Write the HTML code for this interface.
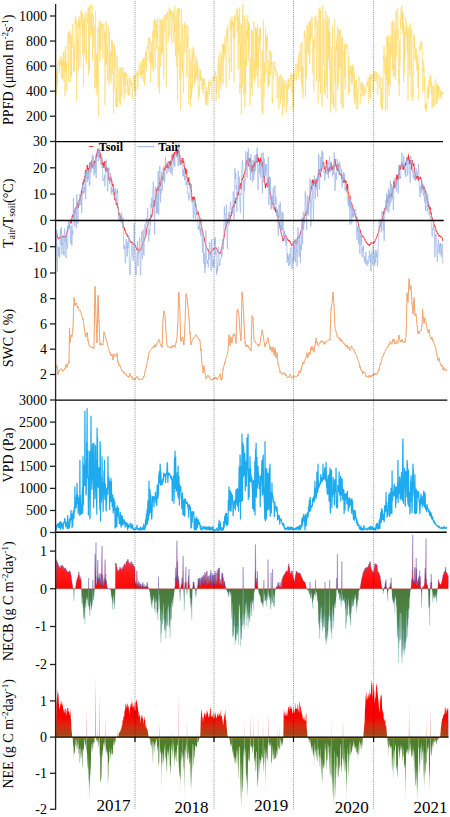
<!DOCTYPE html>
<html><head><meta charset="utf-8"><style>
html,body{margin:0;padding:0;background:#fff;}
svg{display:block;}
text{font-family:"Liberation Serif",serif;}
</style></head><body>
<svg width="450" height="817" viewBox="0 0 450 817">
<defs>
<clipPath id="cNECBpos"><rect x="0" y="530" width="450" height="58.7"/></clipPath>
<clipPath id="cNECBneg"><rect x="0" y="588.7" width="450" height="80"/></clipPath>
<linearGradient id="gNECB" gradientUnits="userSpaceOnUse" x1="0" y1="535" x2="0" y2="665">
<stop offset="0" stop-color="#C86AA8"/><stop offset="0.12" stop-color="#F04060"/><stop offset="0.3" stop-color="#FF1818"/><stop offset="0.411" stop-color="#FF0505"/>
<stop offset="0.414" stop-color="#4A7A3C"/><stop offset="0.6" stop-color="#4C8444"/><stop offset="0.82" stop-color="#56947A"/><stop offset="1" stop-color="#8AC0BC"/></linearGradient>
<linearGradient id="gNEE" gradientUnits="userSpaceOnUse" x1="0" y1="665" x2="0" y2="810">
<stop offset="0" stop-color="#FF0000"/><stop offset="0.36" stop-color="#FA0200"/><stop offset="0.42" stop-color="#D82A10"/><stop offset="0.48" stop-color="#A84418"/><stop offset="0.497" stop-color="#B86820"/>
<stop offset="0.5" stop-color="#A07828"/><stop offset="0.52" stop-color="#4E7E28"/><stop offset="0.62" stop-color="#46802A"/><stop offset="0.78" stop-color="#5A9040"/><stop offset="1" stop-color="#D8E8D0"/></linearGradient>
</defs>
<path d="M56 78.01 L56.22 72.93 L56.43 91.73 L56.65 94.43 L56.87 80.4 L57.09 68.61 L57.3 77.92 L57.52 84.7 L57.74 64.94 L57.96 63.97 L58.17 62.88 L58.39 62.3 L58.61 61.73 L58.82 62.12 L59.04 61.33 L59.26 70.35 L59.48 73.5 L59.69 60.9 L59.91 58.24 L60.13 58.43 L60.35 66.04 L60.56 63.52 L60.78 56.69 L61 56.88 L61.21 56.18 L61.43 58.05 L61.65 77.79 L61.87 59.85 L62.08 66.37 L62.3 79.5 L62.52 60.4 L62.74 61.36 L62.95 66.47 L63.17 60.03 L63.39 52.03 L63.6 65.48 L63.82 81.56 L64.04 51.59 L64.26 71.12 L64.47 65.65 L64.69 61.81 L64.91 95.97 L65.12 83.15 L65.34 46.33 L65.56 55.88 L65.78 70.95 L65.99 61.18 L66.21 72.01 L66.43 64.04 L66.65 83.77 L66.86 90.97 L67.08 47.18 L67.3 47.87 L67.51 42.26 L67.73 41.98 L67.95 32.44 L68.17 33.95 L68.38 47.32 L68.6 81.56 L68.82 77.16 L69.04 32.15 L69.25 33.02 L69.47 43.25 L69.69 30.33 L69.9 32.07 L70.12 50.66 L70.34 81.83 L70.56 71.89 L70.77 40.57 L70.99 34.66 L71.21 46.68 L71.43 76.54 L71.64 41.81 L71.86 35.77 L72.08 47.39 L72.29 39.28 L72.51 29.9 L72.73 24.24 L72.95 30.04 L73.16 37.09 L73.38 72.44 L73.6 68.3 L73.82 50.83 L74.03 57.17 L74.25 45 L74.47 70.83 L74.68 55.64 L74.9 45.94 L75.12 19.18 L75.34 25.01 L75.55 16.05 L75.77 16.01 L75.99 18.01 L76.21 20.2 L76.42 63.22 L76.64 101.35 L76.86 31.05 L77.07 21.95 L77.29 46.77 L77.51 59.92 L77.73 38.32 L77.94 39.75 L78.16 70.85 L78.38 55.86 L78.6 18.94 L78.81 27.29 L79.03 28.55 L79.25 16.2 L79.46 27.46 L79.68 22.62 L79.9 67.43 L80.12 56.37 L80.33 35.37 L80.55 19.31 L80.77 14.9 L80.98 10.52 L81.2 11.12 L81.42 18.97 L81.64 11.13 L81.85 25.74 L82.07 12.64 L82.29 34.57 L82.51 24.13 L82.72 54.93 L82.94 31.77 L83.16 14.14 L83.37 75.04 L83.59 85.15 L83.81 44.01 L84.03 24.9 L84.24 20.61 L84.46 17.73 L84.68 53.29 L84.9 25.68 L85.11 20.68 L85.33 13.18 L85.55 11.52 L85.76 12.13 L85.98 60.18 L86.2 49.77 L86.42 64.44 L86.63 34.92 L86.85 13.86 L87.07 14.71 L87.29 15.18 L87.5 23.24 L87.72 18.32 L87.94 12.01 L88.15 6.88 L88.37 13.02 L88.59 75.06 L88.81 16.86 L89.02 7.86 L89.24 46.69 L89.46 70.19 L89.68 7.29 L89.89 9.38 L90.11 5.87 L90.33 4.38 L90.54 35.97 L90.76 36.57 L90.98 24.03 L91.2 13.07 L91.41 31.06 L91.63 15.8 L91.85 11.98 L92.07 4.79 L92.28 6.4 L92.5 60.77 L92.72 29.07 L92.93 35.04 L93.15 27.45 L93.37 14.24 L93.59 17.9 L93.8 47.43 L94.02 27.33 L94.24 25.9 L94.46 47.87 L94.67 88.39 L94.89 82.16 L95.11 53.25 L95.32 14.32 L95.54 11.09 L95.76 72.82 L95.98 88.23 L96.19 53.09 L96.41 72.26 L96.63 90.15 L96.84 95.11 L97.06 86.16 L97.28 54.22 L97.5 85.66 L97.71 27.54 L97.93 72.33 L98.15 88.31 L98.37 105.73 L98.58 116.37 L98.8 108.47 L99.02 22.43 L99.23 20.58 L99.45 47.3 L99.67 27.44 L99.89 45.74 L100.1 61.1 L100.32 21.46 L100.54 21.55 L100.76 36.53 L100.97 50.51 L101.19 41.7 L101.41 39.24 L101.62 24.24 L101.84 23.12 L102.06 27.46 L102.28 24.09 L102.49 23.83 L102.71 50 L102.93 58.61 L103.15 54.1 L103.36 26.7 L103.58 25.08 L103.8 23.92 L104.01 25.31 L104.23 38.9 L104.45 31.36 L104.67 57.77 L104.88 89.34 L105.1 105.02 L105.32 32.23 L105.54 63.5 L105.75 51.04 L105.97 31.34 L106.19 21.23 L106.4 28.59 L106.62 65.25 L106.84 50.68 L107.06 45.12 L107.27 48.85 L107.49 80.7 L107.71 38.15 L107.93 26.44 L108.14 27.26 L108.36 27.87 L108.58 28.59 L108.79 31.38 L109.01 85.31 L109.23 53.27 L109.45 31.76 L109.66 34.58 L109.88 78.95 L110.1 67.78 L110.32 55.11 L110.53 52.41 L110.75 61.22 L110.97 82.94 L111.18 80.21 L111.4 57.09 L111.62 39.73 L111.84 56.1 L112.05 51.35 L112.27 73.83 L112.49 40.77 L112.7 47.15 L112.92 49.42 L113.14 44.97 L113.36 111.42 L113.57 113.7 L113.79 71.88 L114.01 90.27 L114.23 60.5 L114.44 44.16 L114.66 53.68 L114.88 68.87 L115.09 61.65 L115.31 49.46 L115.53 55.23 L115.75 72.92 L115.96 107.1 L116.18 92.2 L116.4 87.68 L116.62 107.13 L116.83 66.3 L117.05 56.18 L117.27 55.73 L117.48 102.9 L117.7 107.32 L117.92 102.95 L118.14 94.77 L118.35 81.14 L118.57 76.49 L118.79 69.07 L119.01 69.28 L119.22 82.6 L119.44 102.51 L119.66 94.4 L119.87 74.85 L120.09 66.77 L120.31 72.12 L120.53 105.45 L120.74 98.58 L120.96 81.46 L121.18 70.37 L121.4 67.32 L121.61 77.64 L121.83 96.24 L122.05 77.27 L122.26 74.02 L122.48 75.76 L122.7 73.35 L122.92 67.54 L123.13 69.25 L123.35 71.13 L123.57 85.52 L123.79 74.48 L124 91.34 L124.22 99.43 L124.44 77.95 L124.65 72.33 L124.87 78.07 L125.09 75.59 L125.31 72.2 L125.52 86.07 L125.74 93.12 L125.96 80.33 L126.18 74.49 L126.39 73.55 L126.61 76.26 L126.83 73.85 L127.04 74.67 L127.26 85.73 L127.48 78.99 L127.7 91.09 L127.91 94.16 L128.13 89.17 L128.35 91.79 L128.56 95.43 L128.78 83.86 L129 77.38 L129.22 77.14 L129.43 83.67 L129.65 96.25 L129.87 93.17 L130.09 79 L130.3 78.18 L130.52 79.43 L130.74 84.12 L130.95 83.03 L131.17 85.58 L131.39 85.79 L131.61 81.5 L131.82 82.6 L132.04 84.69 L132.26 84.44 L132.48 93.44 L132.69 99.19 L132.91 94.48 L133.13 80.53 L133.34 75.96 L133.56 77.5 L133.78 75.49 L134 75.44 L134.21 88.89 L134.43 91.38 L134.65 78.16 L134.87 74.82 L135.08 75.34 L135.3 76.83 L135.52 91.27 L135.73 96.09 L135.95 86.45 L136.17 74.26 L136.39 73.1 L136.6 75 L136.82 74 L137.04 71.44 L137.26 72.6 L137.47 71.15 L137.69 85.83 L137.91 89.07 L138.12 86.13 L138.34 73.96 L138.56 76.49 L138.78 71.97 L138.99 68.59 L139.21 66.85 L139.43 65.21 L139.65 64.87 L139.86 73.86 L140.08 71.81 L140.3 75.17 L140.51 75.71 L140.73 62.68 L140.95 62.63 L141.17 69.4 L141.38 72.38 L141.6 69.01 L141.82 79.28 L142.04 69.27 L142.25 59.84 L142.47 60.06 L142.69 74.53 L142.9 67.9 L143.12 58.14 L143.34 77.84 L143.56 81.97 L143.77 81.95 L143.99 63.41 L144.21 57.25 L144.42 58.63 L144.64 85.19 L144.86 77.4 L145.08 80.24 L145.29 59.88 L145.51 55.28 L145.73 50.87 L145.95 53.71 L146.16 66.84 L146.38 51.81 L146.6 70.91 L146.81 62.54 L147.03 46.45 L147.25 46.02 L147.47 47.18 L147.68 49.28 L147.9 44.11 L148.12 41.64 L148.34 41.77 L148.55 38.54 L148.77 37.42 L148.99 47.77 L149.2 61.31 L149.42 37.94 L149.64 42.25 L149.86 40.27 L150.07 40.94 L150.29 64.41 L150.51 59.52 L150.73 82.48 L150.94 51.82 L151.16 57.69 L151.38 47.68 L151.59 41.95 L151.81 61.81 L152.03 58 L152.25 67.75 L152.46 45.5 L152.68 30.95 L152.9 38.58 L153.12 57.96 L153.33 71.79 L153.55 30.77 L153.77 26.77 L153.98 20.8 L154.2 37.8 L154.42 20.78 L154.64 19.76 L154.85 35.85 L155.07 68.96 L155.29 20.16 L155.51 19.58 L155.72 20.24 L155.94 20.92 L156.16 37.97 L156.37 23.48 L156.59 24.92 L156.81 49.61 L157.03 30.83 L157.24 40.77 L157.46 20.22 L157.68 18.28 L157.9 18.57 L158.11 87.32 L158.33 54.51 L158.55 48.46 L158.76 45.99 L158.98 49.22 L159.2 67.46 L159.42 93.25 L159.63 22.72 L159.85 18.99 L160.07 19.22 L160.28 20.12 L160.5 61.68 L160.72 66.88 L160.94 21.69 L161.15 19.86 L161.37 31.49 L161.59 54.9 L161.81 19.95 L162.02 26.94 L162.24 26.73 L162.46 52.74 L162.67 22.86 L162.89 20.71 L163.11 17.96 L163.33 20.32 L163.54 78.71 L163.76 73.04 L163.98 26.91 L164.2 16.18 L164.41 15.21 L164.63 17.85 L164.85 30.33 L165.06 31.42 L165.28 23.41 L165.5 14.8 L165.72 23.49 L165.93 44.31 L166.15 83.05 L166.37 87.13 L166.59 39.93 L166.8 15.07 L167.02 19.84 L167.24 13.74 L167.45 12.34 L167.67 16.74 L167.89 12.28 L168.11 42.11 L168.32 37.91 L168.54 38.46 L168.76 21.33 L168.98 8.25 L169.19 7.42 L169.41 13.93 L169.63 17.24 L169.84 36.64 L170.06 23.46 L170.28 9.47 L170.5 15.53 L170.71 9.87 L170.93 12.33 L171.15 12.87 L171.37 10.61 L171.58 23.26 L171.8 43.69 L172.02 31.15 L172.23 21.51 L172.45 17.22 L172.67 12.69 L172.89 17.18 L173.1 18.77 L173.32 22.43 L173.54 11 L173.76 32.91 L173.97 42.61 L174.19 27.16 L174.41 23.4 L174.62 31.21 L174.84 6 L175.06 35.45 L175.28 55.15 L175.49 55.95 L175.71 46.54 L175.93 15.72 L176.14 25.58 L176.36 66.47 L176.58 66.08 L176.8 31.35 L177.01 8.67 L177.23 55.91 L177.45 99.71 L177.67 95.01 L177.88 40.43 L178.1 10.49 L178.32 54.64 L178.53 17.53 L178.75 8.02 L178.97 13.77 L179.19 8.34 L179.4 8.21 L179.62 17.28 L179.84 79.65 L180.06 41.92 L180.27 69.59 L180.49 109.61 L180.71 107.86 L180.92 51.1 L181.14 17.47 L181.36 8.85 L181.58 12.77 L181.79 51.62 L182.01 62.8 L182.23 61.7 L182.45 73.51 L182.66 24.33 L182.88 38.13 L183.1 77.67 L183.31 86.19 L183.53 92.74 L183.75 67.81 L183.97 40.94 L184.18 42.49 L184.4 21.94 L184.62 22.28 L184.84 47.96 L185.05 52.81 L185.27 40.16 L185.49 24.68 L185.7 27.06 L185.92 27.64 L186.14 25.08 L186.36 24.91 L186.57 30.68 L186.79 76.88 L187.01 63.03 L187.23 35.65 L187.44 48.14 L187.66 45.04 L187.88 25.93 L188.09 31.76 L188.31 73.39 L188.53 92.88 L188.75 104.22 L188.96 100.16 L189.18 78.3 L189.4 74.79 L189.62 77.79 L189.83 48.59 L190.05 59.76 L190.27 98.61 L190.48 106.58 L190.7 72.54 L190.92 60.52 L191.14 78.33 L191.35 98.11 L191.57 84.62 L191.79 92.87 L192 50.72 L192.22 51.78 L192.44 61.79 L192.66 88.57 L192.87 83.23 L193.09 46.81 L193.31 47.71 L193.53 59.37 L193.74 49.59 L193.96 48.63 L194.18 80.11 L194.39 84.83 L194.61 75.39 L194.83 64.31 L195.05 81.94 L195.26 73.03 L195.48 80.19 L195.7 55.77 L195.92 55.21 L196.13 62.34 L196.35 60.93 L196.57 77.12 L196.78 71.05 L197 59.58 L197.22 64.78 L197.44 68.66 L197.65 80.61 L197.87 64.66 L198.09 68.02 L198.31 96.08 L198.52 99.52 L198.74 99.43 L198.96 86.05 L199.17 85.73 L199.39 95.89 L199.61 76.68 L199.83 68.78 L200.04 76.73 L200.26 80.8 L200.48 70.63 L200.7 70.79 L200.91 71.77 L201.13 80.47 L201.35 76.21 L201.56 79.2 L201.78 86.69 L202 90.01 L202.22 83.61 L202.43 85.13 L202.65 78.13 L202.87 78.11 L203.09 78.8 L203.3 93.6 L203.52 85.66 L203.74 79.25 L203.95 80.36 L204.17 84.14 L204.39 87.01 L204.61 78.73 L204.82 78.99 L205.04 87.01 L205.26 104.64 L205.48 102.5 L205.69 91.6 L205.91 100.48 L206.13 104.57 L206.34 90.5 L206.56 87 L206.78 100.59 L207 99.09 L207.21 95.45 L207.43 91.17 L207.65 105.77 L207.86 106.17 L208.08 101.61 L208.3 90.86 L208.52 81.41 L208.73 87.86 L208.95 89.31 L209.17 94 L209.39 94.96 L209.6 83.87 L209.82 82.02 L210.04 85.25 L210.25 83.19 L210.47 82.9 L210.69 82.26 L210.91 81.11 L211.12 80.34 L211.34 91.57 L211.56 94.59 L211.78 99.19 L211.99 100.03 L212.21 85.52 L212.43 78.39 L212.64 78.1 L212.86 77.84 L213.08 78.66 L213.3 79 L213.51 76.79 L213.73 78.26 L213.95 76.47 L214.17 80.73 L214.38 80.79 L214.6 78.18 L214.82 77.81 L215.03 74.53 L215.25 72.34 L215.47 71.18 L215.69 79.32 L215.9 100.26 L216.12 100.76 L216.34 99.64 L216.56 90.2 L216.77 76.26 L216.99 93.37 L217.21 80.24 L217.42 71.46 L217.64 68.66 L217.86 69.54 L218.08 64.3 L218.29 61.84 L218.51 56.46 L218.73 66.85 L218.95 98.43 L219.16 76.82 L219.38 63.34 L219.6 78.35 L219.81 74.87 L220.03 51.21 L220.25 57.92 L220.47 82.39 L220.68 74.87 L220.9 76.35 L221.12 89.42 L221.34 56.71 L221.55 54.98 L221.77 58.17 L221.99 75.83 L222.2 43.84 L222.42 43.83 L222.64 48.85 L222.86 73.81 L223.07 84.47 L223.29 82.26 L223.51 43.72 L223.72 60.22 L223.94 50.34 L224.16 45.11 L224.38 55.21 L224.59 38.37 L224.81 36.77 L225.03 36.48 L225.25 35.2 L225.46 36.62 L225.68 57.43 L225.9 74.06 L226.11 87.35 L226.33 44.29 L226.55 30 L226.77 29.51 L226.98 28.62 L227.2 28.25 L227.42 41.61 L227.64 27.86 L227.85 25.28 L228.07 45.4 L228.29 48.79 L228.5 53.41 L228.72 54.1 L228.94 62.32 L229.16 59.45 L229.37 79.16 L229.59 67.72 L229.81 58.74 L230.03 40.64 L230.24 18.74 L230.46 23.57 L230.68 30.58 L230.89 30.23 L231.11 21.55 L231.33 72.32 L231.55 42.17 L231.76 16.58 L231.98 16.07 L232.2 19.85 L232.42 25.72 L232.63 20.71 L232.85 26.96 L233.07 24.14 L233.28 37.67 L233.5 21.91 L233.72 35.22 L233.94 75.77 L234.15 81.81 L234.37 24.64 L234.59 15.91 L234.81 17.93 L235.02 38.64 L235.24 14.55 L235.46 16.18 L235.67 21.19 L235.89 12.33 L236.11 11.5 L236.33 11.12 L236.54 9.77 L236.76 9.46 L236.98 14.52 L237.2 32.39 L237.41 16.34 L237.63 8.54 L237.85 15.04 L238.06 69.51 L238.28 68.31 L238.5 29.64 L238.72 15.29 L238.93 43.4 L239.15 14.39 L239.37 7.42 L239.58 14.87 L239.8 93.63 L240.02 84.57 L240.24 87.99 L240.45 43.78 L240.67 65.7 L240.89 23.2 L241.11 56.19 L241.32 113.58 L241.54 95.29 L241.76 24.77 L241.97 29.87 L242.19 65.83 L242.41 86.31 L242.63 13.82 L242.84 4.19 L243.06 10.83 L243.28 32.46 L243.5 57.68 L243.71 94.27 L243.93 77.14 L244.15 60.57 L244.36 15.39 L244.58 84.82 L244.8 107.15 L245.02 93.47 L245.23 58.59 L245.45 67.63 L245.67 93.65 L245.89 18.99 L246.1 24.64 L246.32 61.36 L246.54 66.3 L246.75 30.74 L246.97 39.13 L247.19 30.82 L247.41 36.25 L247.62 24.04 L247.84 14.82 L248.06 34.88 L248.28 60.72 L248.49 21.79 L248.71 31.12 L248.93 50.99 L249.14 23.41 L249.36 29.8 L249.58 26.23 L249.8 93.8 L250.01 105.57 L250.23 105.12 L250.45 67.8 L250.67 71.12 L250.88 58.21 L251.1 66.98 L251.32 87.4 L251.53 29.75 L251.75 69.83 L251.97 71.37 L252.19 95.55 L252.4 60.7 L252.62 30.65 L252.84 56.5 L253.06 77.68 L253.27 60.99 L253.49 57.73 L253.71 24.1 L253.92 21.06 L254.14 62.72 L254.36 82.66 L254.58 60.4 L254.79 61.62 L255.01 79.13 L255.23 35.79 L255.44 26.93 L255.66 44.28 L255.88 71.52 L256.1 30.32 L256.31 66.31 L256.53 31.5 L256.75 27.88 L256.97 76.43 L257.18 42.55 L257.4 24.43 L257.62 33.72 L257.83 83.8 L258.05 87.95 L258.27 47.43 L258.49 62.38 L258.7 67.76 L258.92 35.9 L259.14 50.01 L259.36 41.78 L259.57 27.74 L259.79 28.47 L260.01 42.04 L260.22 40.61 L260.44 27.44 L260.66 36.9 L260.88 85.83 L261.09 78.4 L261.31 95.3 L261.53 103.44 L261.75 103.62 L261.96 111.32 L262.18 50.34 L262.4 66.37 L262.61 67.11 L262.83 114.3 L263.05 107.28 L263.27 19.53 L263.48 21.46 L263.7 74.13 L263.92 98.56 L264.14 90.14 L264.35 62.62 L264.57 76.7 L264.79 82.1 L265 67.71 L265.22 63.92 L265.44 28.09 L265.66 42.36 L265.87 38.52 L266.09 73.56 L266.31 47.54 L266.53 36.41 L266.74 49.01 L266.96 35.55 L267.18 34.32 L267.39 34.84 L267.61 46.89 L267.83 79.35 L268.05 88.35 L268.26 70.42 L268.48 84.6 L268.7 65.16 L268.92 59.75 L269.13 79.86 L269.35 85.33 L269.57 56.08 L269.78 51.08 L270 54.27 L270.22 54.73 L270.44 50.63 L270.65 75.4 L270.87 62.22 L271.09 64.19 L271.3 53.39 L271.52 68.45 L271.74 72.83 L271.96 72.13 L272.17 101.25 L272.39 97.68 L272.61 103.43 L272.83 95.86 L273.04 61.96 L273.26 63.29 L273.48 78.57 L273.69 76.68 L273.91 72.88 L274.13 63.51 L274.35 61.47 L274.56 62.76 L274.78 63.16 L275 69.21 L275.22 67.45 L275.43 67.5 L275.65 73.33 L275.87 75.58 L276.08 68.44 L276.3 69.21 L276.52 70.1 L276.74 70.95 L276.95 72.92 L277.17 98.44 L277.39 77.97 L277.61 81.94 L277.82 73.61 L278.04 80.31 L278.26 79.93 L278.47 83.95 L278.69 100.9 L278.91 108.9 L279.13 96.39 L279.34 82.6 L279.56 76.05 L279.78 87.72 L280 87.24 L280.21 97.45 L280.43 97.02 L280.65 103.42 L280.86 74.27 L281.08 77.99 L281.3 96.94 L281.52 81.68 L281.73 77.1 L281.95 77.76 L282.17 76.82 L282.39 95.12 L282.6 115.61 L282.82 111.14 L283.04 79.58 L283.25 79.14 L283.47 84.79 L283.69 100.07 L283.91 82.75 L284.12 83.41 L284.34 105.85 L284.56 107.19 L284.78 85.18 L284.99 80.18 L285.21 80.04 L285.43 80.1 L285.64 80.02 L285.86 88.38 L286.08 86.69 L286.3 102.52 L286.51 112.68 L286.73 107.29 L286.95 83.93 L287.16 100.38 L287.38 103.22 L287.6 82.52 L287.82 80.63 L288.03 81.41 L288.25 80.03 L288.47 89.21 L288.69 78.41 L288.9 77.95 L289.12 79.56 L289.34 81.8 L289.55 85.51 L289.77 85.88 L289.99 84.56 L290.21 87.03 L290.42 74.44 L290.64 75.47 L290.86 75.86 L291.08 81.44 L291.29 81.39 L291.51 73.56 L291.73 75.03 L291.94 92.39 L292.16 87.92 L292.38 82.96 L292.6 109.14 L292.81 109.79 L293.03 74.19 L293.25 91.92 L293.47 107.09 L293.68 101.41 L293.9 84.94 L294.12 74.54 L294.33 70.78 L294.55 70.87 L294.77 71.18 L294.99 79.65 L295.2 70.13 L295.42 66.03 L295.64 64.45 L295.86 65.44 L296.07 63.83 L296.29 67.89 L296.51 80.51 L296.72 77.93 L296.94 76.64 L297.16 73.82 L297.38 68.15 L297.59 63.66 L297.81 63.65 L298.03 69.35 L298.25 58.63 L298.46 78.89 L298.68 65.45 L298.9 52.63 L299.11 51.59 L299.33 51.66 L299.55 56.21 L299.77 54.74 L299.98 71.96 L300.2 47.26 L300.42 45.28 L300.64 44.61 L300.85 43.85 L301.07 51.75 L301.29 83.68 L301.5 69.88 L301.72 41.77 L301.94 45.75 L302.16 91.14 L302.37 77.11 L302.59 66.15 L302.81 93.26 L303.02 98.18 L303.24 95.6 L303.46 70.28 L303.68 67.54 L303.89 65.22 L304.11 34.79 L304.33 30.5 L304.55 35.99 L304.76 30.9 L304.98 39.86 L305.2 71.52 L305.41 96.57 L305.63 41.42 L305.85 35.51 L306.07 43.45 L306.28 68.43 L306.5 78.36 L306.72 34.3 L306.94 24.17 L307.15 23.29 L307.37 24.57 L307.59 52.66 L307.8 41.5 L308.02 25 L308.24 29.37 L308.46 46.35 L308.67 55.3 L308.89 31.28 L309.11 25.03 L309.33 21.4 L309.54 22.63 L309.76 63.63 L309.98 20.32 L310.19 23.55 L310.41 41.57 L310.63 27.82 L310.85 22.17 L311.06 32.22 L311.28 38.52 L311.5 24.4 L311.72 16.72 L311.93 19.57 L312.15 18.48 L312.37 21.76 L312.58 47.48 L312.8 73.08 L313.02 71.99 L313.24 40.26 L313.45 77.43 L313.67 90.73 L313.89 91.83 L314.11 88.6 L314.32 45.04 L314.54 37.87 L314.76 49.04 L314.97 16.8 L315.19 26.96 L315.41 22.42 L315.63 17.29 L315.84 14.92 L316.06 16.01 L316.28 37.11 L316.5 78.48 L316.71 81.24 L316.93 45.35 L317.15 27.05 L317.36 20.89 L317.58 42.22 L317.8 41.89 L318.02 82.26 L318.23 103.19 L318.45 40.59 L318.67 10.27 L318.88 9.47 L319.1 8.41 L319.32 9.67 L319.54 81.98 L319.75 43.21 L319.97 7.46 L320.19 62.45 L320.41 93.71 L320.62 28.33 L320.84 10.65 L321.06 19.24 L321.27 52.55 L321.49 84.81 L321.71 103.3 L321.93 106.18 L322.14 106.46 L322.36 105.41 L322.58 63.24 L322.8 5.67 L323.01 17.27 L323.23 41.22 L323.45 34.62 L323.66 66.3 L323.88 23.43 L324.1 18.18 L324.32 92.88 L324.53 87.21 L324.75 69.93 L324.97 92.44 L325.19 95.42 L325.4 35.7 L325.62 10.84 L325.84 11.86 L326.05 15.59 L326.27 15.14 L326.49 50.56 L326.71 85.78 L326.92 26.11 L327.14 21.78 L327.36 99.07 L327.58 33.61 L327.79 15.57 L328.01 40.99 L328.23 53.22 L328.44 30.62 L328.66 59.61 L328.88 25.71 L329.1 18.29 L329.31 47.07 L329.53 69 L329.75 32.25 L329.97 48.03 L330.18 79.18 L330.4 112.68 L330.62 67.4 L330.83 91.02 L331.05 56.75 L331.27 47.04 L331.49 84.08 L331.7 100.79 L331.92 103.87 L332.14 66.65 L332.36 25.72 L332.57 27.83 L332.79 66.8 L333.01 91.71 L333.22 105.43 L333.44 92.65 L333.66 104.55 L333.88 108 L334.09 52.64 L334.31 19.63 L334.53 19.64 L334.74 21.25 L334.96 82.72 L335.18 47.06 L335.4 92.81 L335.61 101.13 L335.83 111.41 L336.05 101.42 L336.27 53.48 L336.48 41.08 L336.7 50.42 L336.92 49.27 L337.13 34.25 L337.35 59.32 L337.57 90.09 L337.79 26.09 L338 34.62 L338.22 30.6 L338.44 55.99 L338.66 83.48 L338.87 66.19 L339.09 60.98 L339.31 29.9 L339.52 67.47 L339.74 48.64 L339.96 68.95 L340.18 40.27 L340.39 29.19 L340.61 30.69 L340.83 68.5 L341.05 103.33 L341.26 82.31 L341.48 52.62 L341.7 37.3 L341.91 100.39 L342.13 107.56 L342.35 72.4 L342.57 41.94 L342.78 37.32 L343 93.24 L343.22 108.66 L343.44 104.21 L343.65 100.95 L343.87 77.85 L344.09 49.98 L344.3 78.25 L344.52 44.14 L344.74 49.31 L344.96 72.73 L345.17 89.13 L345.39 81.63 L345.61 67.05 L345.83 44.72 L346.04 43.29 L346.26 49.55 L346.48 45.09 L346.69 43.72 L346.91 44.05 L347.13 45.37 L347.35 46.09 L347.56 47.39 L347.78 48.76 L348 60.79 L348.22 86.89 L348.43 95.04 L348.65 56.64 L348.87 59.42 L349.08 80.6 L349.3 70.62 L349.52 74.09 L349.74 92.6 L349.95 72.34 L350.17 66.07 L350.39 65.98 L350.6 74.77 L350.82 74.34 L351.04 65.56 L351.26 65.89 L351.47 80.59 L351.69 83.07 L351.91 71.49 L352.13 84.19 L352.34 78.07 L352.56 64.48 L352.78 67.08 L352.99 76.68 L353.21 66.29 L353.43 66.3 L353.65 70.46 L353.86 95.52 L354.08 96.72 L354.3 72.66 L354.52 102.09 L354.73 82.02 L354.95 97.49 L355.17 104.72 L355.38 102.53 L355.6 87.69 L355.82 80.47 L356.04 88.43 L356.25 80.21 L356.47 79.45 L356.69 109.34 L356.91 109.3 L357.12 107.98 L357.34 88.67 L357.56 106.65 L357.77 108.81 L357.99 107.3 L358.21 87.11 L358.43 77.36 L358.64 77.13 L358.86 76.19 L359.08 76.17 L359.3 78.74 L359.51 78.09 L359.73 81 L359.95 90.44 L360.16 103.66 L360.38 102.19 L360.6 93.69 L360.82 95.8 L361.03 82.81 L361.25 84.34 L361.47 90.41 L361.69 82.04 L361.9 82.46 L362.12 82.38 L362.34 88.7 L362.55 96.69 L362.77 86.19 L362.99 85.84 L363.21 83.55 L363.42 83.47 L363.64 84.02 L363.86 95.58 L364.08 96.48 L364.29 93.34 L364.51 86.7 L364.73 90.75 L364.94 89.5 L365.16 93.98 L365.38 93.33 L365.6 93.29 L365.81 93.4 L366.03 87.69 L366.25 85.52 L366.46 84.17 L366.68 83.52 L366.9 82.53 L367.12 82.78 L367.33 81.69 L367.55 86.39 L367.77 86.94 L367.99 78.3 L368.2 77.44 L368.42 77.62 L368.64 96.14 L368.85 103.46 L369.07 98.03 L369.29 86.71 L369.51 93.34 L369.72 76.75 L369.94 91.52 L370.16 74.98 L370.38 74.02 L370.59 99.03 L370.81 97.97 L371.03 77.17 L371.24 79.03 L371.46 79.26 L371.68 77.25 L371.9 74.12 L372.11 74.69 L372.33 82.41 L372.55 85.76 L372.77 89.85 L372.98 88.28 L373.2 91.92 L373.42 77.73 L373.63 73.35 L373.85 71.01 L374.07 71.22 L374.29 81.28 L374.5 73.68 L374.72 77.23 L374.94 74.15 L375.16 71.38 L375.37 71.89 L375.59 72.08 L375.81 73.4 L376.02 81.86 L376.24 81.64 L376.46 72.76 L376.68 71.82 L376.89 76.74 L377.11 80.19 L377.33 92.13 L377.55 94.76 L377.76 93.16 L377.98 81.25 L378.2 76.46 L378.41 74.11 L378.63 74.17 L378.85 74.62 L379.07 76.27 L379.28 79.58 L379.5 88.84 L379.72 81.26 L379.94 77.92 L380.15 76.54 L380.37 101.41 L380.59 103 L380.8 106.95 L381.02 105.46 L381.24 104.89 L381.46 87.85 L381.67 103.46 L381.89 109.49 L382.11 77.79 L382.32 102.5 L382.54 109.49 L382.76 98.8 L382.98 99.81 L383.19 99.49 L383.41 56.35 L383.63 60.14 L383.85 45.82 L384.06 46.24 L384.28 49.5 L384.5 59.48 L384.71 73.8 L384.93 70.87 L385.15 55.38 L385.37 111.19 L385.58 111.1 L385.8 93.82 L386.02 58.37 L386.24 60.26 L386.45 79.97 L386.67 60.06 L386.89 36.06 L387.1 91.94 L387.32 109.87 L387.54 36.5 L387.76 71.1 L387.97 73.42 L388.19 65.5 L388.41 84.87 L388.63 35.64 L388.84 60.21 L389.06 95.35 L389.28 56.25 L389.49 42.18 L389.71 49.23 L389.93 54.51 L390.15 85.83 L390.36 48.84 L390.58 58.14 L390.8 35.46 L391.02 54.83 L391.23 32.42 L391.45 25.09 L391.67 24.85 L391.88 22.41 L392.1 31.11 L392.32 69.63 L392.54 20.85 L392.75 20.91 L392.97 69.36 L393.19 65.69 L393.41 77.84 L393.62 51.92 L393.84 22.31 L394.06 38.04 L394.27 75.73 L394.49 72.86 L394.71 45.81 L394.93 37.18 L395.14 29.14 L395.36 33.86 L395.58 79.65 L395.8 39.88 L396.01 10.99 L396.23 15.65 L396.45 55.99 L396.66 57.1 L396.88 23.72 L397.1 12.03 L397.32 12.87 L397.53 7.55 L397.75 8.79 L397.97 39.93 L398.18 28.92 L398.4 55.8 L398.62 83.43 L398.84 73.08 L399.05 69.04 L399.27 96.06 L399.49 81.33 L399.71 40.87 L399.92 67.11 L400.14 51.87 L400.36 17.9 L400.57 28.15 L400.79 16 L401.01 8.58 L401.23 13.16 L401.44 19.35 L401.66 9.91 L401.88 5.89 L402.1 11.06 L402.31 30.03 L402.53 26.71 L402.75 12.91 L402.96 33.96 L403.18 12.9 L403.4 31.41 L403.62 82.16 L403.83 25.62 L404.05 27.8 L404.27 74.41 L404.49 36.38 L404.7 31.54 L404.92 60.02 L405.14 60.39 L405.35 17.32 L405.57 17.92 L405.79 18.59 L406.01 18.92 L406.22 19.81 L406.44 22.49 L406.66 37.23 L406.88 26.18 L407.09 44.18 L407.31 53.05 L407.53 30.43 L407.74 60.85 L407.96 100.03 L408.18 68.91 L408.4 30.48 L408.61 30.83 L408.83 26.06 L409.05 53.7 L409.27 70.11 L409.48 29.61 L409.7 41.19 L409.92 76.73 L410.13 41.3 L410.35 36.7 L410.57 23.53 L410.79 23.39 L411 41.07 L411.22 96.92 L411.44 48.64 L411.66 29.57 L411.87 30.7 L412.09 43.74 L412.31 70.62 L412.52 81.68 L412.74 101.03 L412.96 89.13 L413.18 95.53 L413.39 79.43 L413.61 59.65 L413.83 33.32 L414.04 40.22 L414.26 48.09 L414.48 38.09 L414.7 36.43 L414.91 59.5 L415.13 51.88 L415.35 47.47 L415.57 51.41 L415.78 57.6 L416 61.78 L416.22 48.82 L416.43 51.05 L416.65 67.73 L416.87 70.48 L417.09 61.13 L417.3 56.71 L417.52 55.54 L417.74 68.82 L417.96 87.85 L418.17 62.6 L418.39 99.51 L418.61 94.56 L418.82 66.71 L419.04 69.96 L419.26 47.56 L419.48 46.56 L419.69 45.9 L419.91 48.32 L420.13 51.03 L420.35 50.61 L420.56 48.56 L420.78 42.05 L421 48.97 L421.21 41.13 L421.43 41.34 L421.65 42.9 L421.87 42.49 L422.08 44.79 L422.3 48.09 L422.52 65.71 L422.74 92.72 L422.95 84.81 L423.17 59.54 L423.39 60.75 L423.6 64.17 L423.82 71.71 L424.04 67.23 L424.26 92.14 L424.47 78.66 L424.69 76.43 L424.91 94.4 L425.13 108.04 L425.34 104.85 L425.56 107.87 L425.78 103.43 L425.99 111.54 L426.21 111.22 L426.43 103.14 L426.65 110.46 L426.86 102.8 L427.08 94.2 L427.3 88.33 L427.52 90.77 L427.73 96.69 L427.95 85.83 L428.17 96.5 L428.38 99.26 L428.6 87.11 L428.82 80.26 L429.04 82.81 L429.25 93.54 L429.47 81.22 L429.69 78.36 L429.9 75.29 L430.12 81.75 L430.34 81.24 L430.56 86.68 L430.77 75.74 L430.99 87.56 L431.21 90.18 L431.43 94.54 L431.64 82.17 L431.86 87.67 L432.08 108.55 L432.29 88.39 L432.51 86.43 L432.73 88.31 L432.95 89.73 L433.16 106.04 L433.38 107.69 L433.6 88.84 L433.82 86.26 L434.03 101.56 L434.25 106.07 L434.47 104.78 L434.68 101.81 L434.9 84.45 L435.12 82.28 L435.34 79.96 L435.55 79.23 L435.77 90.2 L435.99 89.81 L436.21 104.49 L436.42 93.11 L436.64 84.09 L436.86 98.8 L437.07 103.33 L437.29 94.24 L437.51 82.98 L437.73 91.9 L437.94 98.99 L438.16 86.81 L438.38 85.77 L438.6 95.25 L438.81 90.27 L439.03 86.02 L439.25 86.85 L439.46 87.67 L439.68 91.53 L439.9 94.34 L440.12 98.32 L440.33 95.04 L440.55 89.82 L440.77 93.87 L440.99 97.98 L441.2 97.69 L441.42 97.57 L441.64 92.36 L441.85 91.93 L442.07 95.01 L442.29 91.72 L442.51 91.75 L442.72 94.64 L442.94 92.92" fill="none" stroke="#FFD966" stroke-width="0.65" stroke-opacity="0.95"/>
<path d="M56 230.57 L56.22 231.48 L56.43 232.54 L56.65 233.91 L56.87 233.55 L57.09 234.94 L57.3 235.57 L57.52 236.87 L57.74 238.12 L57.96 238.32 L58.17 238.43 L58.39 238.25 L58.61 239.19 L58.82 238.92 L59.04 238.47 L59.26 237.19 L59.48 237.08 L59.69 237.8 L59.91 237.28 L60.13 237.07 L60.35 237.08 L60.56 236.63 L60.78 237.34 L61 237.32 L61.21 237.37 L61.43 237.01 L61.65 237.26 L61.87 236.97 L62.08 237.55 L62.3 237.67 L62.52 237.51 L62.74 237.36 L62.95 237.13 L63.17 236.16 L63.39 237.41 L63.6 237.37 L63.82 237.33 L64.04 236.97 L64.26 236.39 L64.47 236.67 L64.69 237.34 L64.91 237.52 L65.12 236.54 L65.34 236.33 L65.56 236.95 L65.78 236.3 L65.99 236.95 L66.21 235.36 L66.43 233.97 L66.65 234.04 L66.86 233.48 L67.08 231.35 L67.3 231.57 L67.51 230.26 L67.73 229.89 L67.95 227.74 L68.17 226.2 L68.38 226.97 L68.6 227.3 L68.82 227.74 L69.04 227.09 L69.25 225.78 L69.47 224.51 L69.69 223.87 L69.9 223.6 L70.12 222.91 L70.34 222.39 L70.56 220.65 L70.77 221.89 L70.99 222.21 L71.21 223.35 L71.43 221.22 L71.64 219.06 L71.86 218.63 L72.08 216.59 L72.29 215.77 L72.51 214.94 L72.73 217.42 L72.95 216.7 L73.16 214.7 L73.38 215.48 L73.6 216.46 L73.82 215.77 L74.03 214.62 L74.25 212.44 L74.47 211.7 L74.68 212.04 L74.9 211.96 L75.12 209.2 L75.34 208.29 L75.55 209.72 L75.77 207.63 L75.99 208.53 L76.21 207.41 L76.42 207.5 L76.64 207.85 L76.86 206.16 L77.07 204.96 L77.29 202.52 L77.51 202.74 L77.73 205.2 L77.94 207.08 L78.16 207.55 L78.38 208.03 L78.6 204.89 L78.81 203.75 L79.03 203.93 L79.25 202.01 L79.46 200.45 L79.68 199 L79.9 200.47 L80.12 197.79 L80.33 197.93 L80.55 195.43 L80.77 197.1 L80.98 194.4 L81.2 194.8 L81.42 190.89 L81.64 191.57 L81.85 193.05 L82.07 189.24 L82.29 188.42 L82.51 185.65 L82.72 182.08 L82.94 185.18 L83.16 184.92 L83.37 182.01 L83.59 182.97 L83.81 180.36 L84.03 179.08 L84.24 179.74 L84.46 179.36 L84.68 181.82 L84.9 176.04 L85.11 177.61 L85.33 176.79 L85.55 170.63 L85.76 169.92 L85.98 173.03 L86.2 172.13 L86.42 173.26 L86.63 173.91 L86.85 170.68 L87.07 167.47 L87.29 165.02 L87.5 168.94 L87.72 168.61 L87.94 170.12 L88.15 169.74 L88.37 168.08 L88.59 172.6 L88.81 172.3 L89.02 170.11 L89.24 165.76 L89.46 165.26 L89.68 164.5 L89.89 163.48 L90.11 162.26 L90.33 164.41 L90.54 164.74 L90.76 164.65 L90.98 164.28 L91.2 167.19 L91.41 165.19 L91.63 160.67 L91.85 163.78 L92.07 166.42 L92.28 167.86 L92.5 165.79 L92.72 164.91 L92.93 164.55 L93.15 166.16 L93.37 164.52 L93.59 163.54 L93.8 163.68 L94.02 165.3 L94.24 163.01 L94.46 160.87 L94.67 163.2 L94.89 161.53 L95.11 162.2 L95.32 162.24 L95.54 162.83 L95.76 161.17 L95.98 157.11 L96.19 155.4 L96.41 153.69 L96.63 157.17 L96.84 155.94 L97.06 155.81 L97.28 151.86 L97.5 149.06 L97.71 153.89 L97.93 152.35 L98.15 151.59 L98.37 151.75 L98.58 152.79 L98.8 152.02 L99.02 149.46 L99.23 153.15 L99.45 152.02 L99.67 153.12 L99.89 157.47 L100.1 157.19 L100.32 154.72 L100.54 153.11 L100.76 157.04 L100.97 159.01 L101.19 158.16 L101.41 156.61 L101.62 157.51 L101.84 158.45 L102.06 162.04 L102.28 164.63 L102.49 164.96 L102.71 162.5 L102.93 163.81 L103.15 164.49 L103.36 162.9 L103.58 164.1 L103.8 167.65 L104.01 165.45 L104.23 165.16 L104.45 163.32 L104.67 163.01 L104.88 161.17 L105.1 164.79 L105.32 169.15 L105.54 171.87 L105.75 171.16 L105.97 170.08 L106.19 168.63 L106.4 167.44 L106.62 168.4 L106.84 169.68 L107.06 168.72 L107.27 171.35 L107.49 169.46 L107.71 168.75 L107.93 170.93 L108.14 171.46 L108.36 173.88 L108.58 178.8 L108.79 178.13 L109.01 178.93 L109.23 180.95 L109.45 180.63 L109.66 178.1 L109.88 180.28 L110.1 179.44 L110.32 178.97 L110.53 179.33 L110.75 176.81 L110.97 177.87 L111.18 179.97 L111.4 181.37 L111.62 180.16 L111.84 180.94 L112.05 183.77 L112.27 185.35 L112.49 185.34 L112.7 186.14 L112.92 184.3 L113.14 185.26 L113.36 187.68 L113.57 188.32 L113.79 190.09 L114.01 194.46 L114.23 192.95 L114.44 192.57 L114.66 196.49 L114.88 199.73 L115.09 198.89 L115.31 200.37 L115.53 199.24 L115.75 199.43 L115.96 200.2 L116.18 202.44 L116.4 205.05 L116.62 202.78 L116.83 205.19 L117.05 203.15 L117.27 204.34 L117.48 206.83 L117.7 207.82 L117.92 207.87 L118.14 207.25 L118.35 210.08 L118.57 211.32 L118.79 215.46 L119.01 214.21 L119.22 214.11 L119.44 213.27 L119.66 213.82 L119.87 214.07 L120.09 216.41 L120.31 216.36 L120.53 217.14 L120.74 216.76 L120.96 217.8 L121.18 219.74 L121.4 218.5 L121.61 218.41 L121.83 220.62 L122.05 220.57 L122.26 221.95 L122.48 223.61 L122.7 223.47 L122.92 224.81 L123.13 224.93 L123.35 226.83 L123.57 227.37 L123.79 226.7 L124 227.13 L124.22 227.62 L124.44 229.01 L124.65 230.02 L124.87 229.67 L125.09 231.05 L125.31 230.74 L125.52 231.18 L125.74 231.84 L125.96 234.1 L126.18 233.98 L126.39 234.11 L126.61 234.31 L126.83 235.05 L127.04 234.36 L127.26 235.58 L127.48 236.85 L127.7 236.27 L127.91 236.53 L128.13 236.95 L128.35 236.67 L128.56 237.24 L128.78 237.98 L129 238.12 L129.22 238.45 L129.43 238.72 L129.65 239.47 L129.87 240.16 L130.09 241.31 L130.3 241.58 L130.52 241.34 L130.74 241.03 L130.95 242.62 L131.17 243.06 L131.39 242.35 L131.61 241.84 L131.82 242.37 L132.04 243.19 L132.26 242.43 L132.48 242.48 L132.69 242.99 L132.91 243.52 L133.13 243.29 L133.34 243.38 L133.56 243.8 L133.78 245.03 L134 245.17 L134.21 244.63 L134.43 244.08 L134.65 244.46 L134.87 245.08 L135.08 245 L135.3 245.9 L135.52 246.27 L135.73 246.69 L135.95 247.36 L136.17 247.74 L136.39 247.7 L136.6 248.6 L136.82 249.87 L137.04 248.84 L137.26 248.87 L137.47 249.44 L137.69 248.99 L137.91 248.58 L138.12 248.69 L138.34 249.84 L138.56 250.64 L138.78 251.03 L138.99 250.8 L139.21 251.03 L139.43 250.36 L139.65 250.59 L139.86 250.4 L140.08 250.5 L140.3 250.28 L140.51 249.74 L140.73 248.66 L140.95 248.94 L141.17 248.04 L141.38 247.35 L141.6 247.15 L141.82 246.26 L142.04 246.24 L142.25 245.86 L142.47 245.13 L142.69 244.73 L142.9 243.91 L143.12 243.21 L143.34 242.17 L143.56 242.02 L143.77 241.24 L143.99 240.84 L144.21 240.55 L144.42 239.97 L144.64 238.63 L144.86 238.04 L145.08 238.11 L145.29 237.72 L145.51 236.91 L145.73 236.23 L145.95 235.36 L146.16 233.76 L146.38 231.94 L146.6 229.95 L146.81 228.6 L147.03 227.81 L147.25 227.27 L147.47 226.33 L147.68 225.17 L147.9 224.24 L148.12 223.9 L148.34 222.96 L148.55 222.24 L148.77 221.39 L148.99 219.82 L149.2 219.08 L149.42 219.98 L149.64 219.76 L149.86 218.72 L150.07 218.6 L150.29 220.03 L150.51 217.19 L150.73 216.51 L150.94 216.34 L151.16 214.82 L151.38 215.91 L151.59 217.47 L151.81 216.34 L152.03 215.07 L152.25 213.79 L152.46 212.27 L152.68 211.48 L152.9 208.83 L153.12 206.83 L153.33 206.32 L153.55 206.18 L153.77 204.78 L153.98 203.4 L154.2 200.32 L154.42 204.3 L154.64 206.66 L154.85 204.68 L155.07 200.95 L155.29 198.91 L155.51 198.68 L155.72 196.32 L155.94 196.64 L156.16 194.55 L156.37 195.53 L156.59 194.51 L156.81 189.11 L157.03 190.75 L157.24 189.22 L157.46 187.32 L157.68 188.03 L157.9 189.03 L158.11 189.72 L158.33 186.02 L158.55 189.42 L158.76 191.16 L158.98 188.37 L159.2 186.73 L159.42 184.36 L159.63 181.9 L159.85 183.58 L160.07 183.32 L160.28 183.99 L160.5 186.13 L160.72 182.93 L160.94 181.68 L161.15 182.02 L161.37 177.03 L161.59 176.23 L161.81 177.24 L162.02 177.21 L162.24 178.47 L162.46 177.37 L162.67 179.74 L162.89 178.92 L163.11 175.92 L163.33 172.84 L163.54 173.25 L163.76 172.18 L163.98 168.44 L164.2 169.45 L164.41 169.65 L164.63 168.71 L164.85 170.3 L165.06 169.13 L165.28 165.68 L165.5 166.29 L165.72 165.72 L165.93 167.28 L166.15 165.83 L166.37 167.9 L166.59 167.59 L166.8 167.48 L167.02 164.85 L167.24 163.29 L167.45 167.8 L167.67 166.4 L167.89 167.89 L168.11 166.73 L168.32 167.03 L168.54 168.25 L168.76 166.06 L168.98 165.64 L169.19 161.43 L169.41 163.69 L169.63 162.51 L169.84 162.28 L170.06 162.88 L170.28 164.49 L170.5 165.75 L170.71 160.8 L170.93 162.28 L171.15 162.29 L171.37 164.16 L171.58 161.59 L171.8 161.13 L172.02 159.38 L172.23 160.16 L172.45 159.81 L172.67 156.95 L172.89 156.03 L173.1 153.91 L173.32 156.42 L173.54 157.57 L173.76 156.26 L173.97 157.65 L174.19 152.94 L174.41 152.1 L174.62 152.98 L174.84 154.13 L175.06 154.18 L175.28 153.02 L175.49 152.47 L175.71 153.1 L175.93 150.93 L176.14 149.41 L176.36 151.04 L176.58 155.6 L176.8 149.92 L177.01 152.44 L177.23 155.59 L177.45 153.44 L177.67 150.53 L177.88 151.56 L178.1 153.46 L178.32 153.29 L178.53 149.93 L178.75 151.4 L178.97 151.14 L179.19 154.28 L179.4 156.44 L179.62 154.98 L179.84 155.11 L180.06 160.33 L180.27 163.57 L180.49 162.27 L180.71 162.04 L180.92 164.45 L181.14 160.02 L181.36 161.49 L181.58 160.01 L181.79 160.57 L182.01 161.61 L182.23 163.25 L182.45 159.62 L182.66 158.79 L182.88 157.97 L183.1 161.09 L183.31 161.21 L183.53 162.33 L183.75 161.1 L183.97 163.41 L184.18 166.91 L184.4 166.96 L184.62 169.06 L184.84 169.96 L185.05 168.76 L185.27 168.19 L185.49 172.81 L185.7 173.59 L185.92 174.05 L186.14 169.57 L186.36 169.32 L186.57 169.86 L186.79 173.77 L187.01 178.72 L187.23 179.49 L187.44 179.29 L187.66 180.46 L187.88 181.91 L188.09 180.95 L188.31 181.81 L188.53 180.69 L188.75 177.3 L188.96 180.77 L189.18 184.8 L189.4 183.28 L189.62 183.55 L189.83 183.74 L190.05 185.36 L190.27 188.67 L190.48 187.54 L190.7 185.78 L190.92 184.28 L191.14 189.09 L191.35 189.66 L191.57 192.26 L191.79 198.4 L192 199.55 L192.22 197.1 L192.44 201.07 L192.66 201.38 L192.87 199.86 L193.09 200.77 L193.31 197.5 L193.53 196.91 L193.74 196.58 L193.96 197.45 L194.18 199.64 L194.39 197.27 L194.61 197.28 L194.83 198.91 L195.05 201.65 L195.26 203.14 L195.48 205.69 L195.7 205.37 L195.92 205.9 L196.13 208.32 L196.35 210.04 L196.57 210.23 L196.78 212.5 L197 214.43 L197.22 212.5 L197.44 213.08 L197.65 214.3 L197.87 212.49 L198.09 211.87 L198.31 212.34 L198.52 214.44 L198.74 215.41 L198.96 215.58 L199.17 216.76 L199.39 218.72 L199.61 218.93 L199.83 217.88 L200.04 219.52 L200.26 221.01 L200.48 222.39 L200.7 222.74 L200.91 223.4 L201.13 224.33 L201.35 224.82 L201.56 226.8 L201.78 227.91 L202 229.25 L202.22 229.49 L202.43 230.48 L202.65 231.18 L202.87 232.23 L203.09 234.01 L203.3 234.79 L203.52 235.88 L203.74 236.38 L203.95 237.5 L204.17 237.78 L204.39 238.93 L204.61 239.93 L204.82 241.15 L205.04 241.84 L205.26 242.56 L205.48 243.82 L205.69 244.65 L205.91 245.81 L206.13 246.64 L206.34 246.79 L206.56 247.2 L206.78 247.87 L207 248.09 L207.21 248.79 L207.43 249.51 L207.65 249.66 L207.86 249.27 L208.08 249.24 L208.3 250.19 L208.52 251.06 L208.73 252.14 L208.95 252.36 L209.17 252.65 L209.39 253.14 L209.6 252.86 L209.82 253.15 L210.04 254.03 L210.25 253.92 L210.47 253.3 L210.69 252.61 L210.91 251.83 L211.12 252.03 L211.34 251.64 L211.56 251.26 L211.78 250.68 L211.99 250.52 L212.21 250.25 L212.43 250.27 L212.64 250.41 L212.86 249.58 L213.08 248.45 L213.3 248.41 L213.51 248.33 L213.73 248.8 L213.95 249.54 L214.17 249.48 L214.38 248.99 L214.6 249 L214.82 248.37 L215.03 247.74 L215.25 247.54 L215.47 247.85 L215.69 248.43 L215.9 247.5 L216.12 248.49 L216.34 248.99 L216.56 248.74 L216.77 249 L216.99 249.3 L217.21 250.05 L217.42 250.81 L217.64 251.1 L217.86 251.87 L218.08 252.28 L218.29 252.21 L218.51 252.35 L218.73 252.6 L218.95 253.03 L219.16 252.66 L219.38 253.19 L219.6 253.17 L219.81 253 L220.03 253.86 L220.25 252.62 L220.47 252.27 L220.68 252.35 L220.9 251.33 L221.12 250.76 L221.34 249.45 L221.55 248.5 L221.77 247.76 L221.99 246.91 L222.2 246.15 L222.42 245.11 L222.64 244.3 L222.86 243.18 L223.07 242 L223.29 241.47 L223.51 239.86 L223.72 238.65 L223.94 238.25 L224.16 236.7 L224.38 235.03 L224.59 233.83 L224.81 232.27 L225.03 229.79 L225.25 229.13 L225.46 227.95 L225.68 227.61 L225.9 226.76 L226.11 227.1 L226.33 225.9 L226.55 224.19 L226.77 223.68 L226.98 222.58 L227.2 222.9 L227.42 222.96 L227.64 221.75 L227.85 219.43 L228.07 219.99 L228.29 220.81 L228.5 220.75 L228.72 220.72 L228.94 218.91 L229.16 219.65 L229.37 218.99 L229.59 219.39 L229.81 219.63 L230.03 219.29 L230.24 217.86 L230.46 217.47 L230.68 215.72 L230.89 215.13 L231.11 216.04 L231.33 214.39 L231.55 211.69 L231.76 211.35 L231.98 212.06 L232.2 213.1 L232.42 212.01 L232.63 209.98 L232.85 206.31 L233.07 206.99 L233.28 207.43 L233.5 206.66 L233.72 205.68 L233.94 204.76 L234.15 206.7 L234.37 206.04 L234.59 202.73 L234.81 201.2 L235.02 203.73 L235.24 200.79 L235.46 202.21 L235.67 202.52 L235.89 198.29 L236.11 198.49 L236.33 197.8 L236.54 198.32 L236.76 198.21 L236.98 199.36 L237.2 196.54 L237.41 194.53 L237.63 194.94 L237.85 192.34 L238.06 192.23 L238.28 195.13 L238.5 190.28 L238.72 189.27 L238.93 189.41 L239.15 186.69 L239.37 185.23 L239.58 189.28 L239.8 186.79 L240.02 185.82 L240.24 185.31 L240.45 183.59 L240.67 183.16 L240.89 185.8 L241.11 189.22 L241.32 186.53 L241.54 184.01 L241.76 179.6 L241.97 179.78 L242.19 178.12 L242.41 179.89 L242.63 178.3 L242.84 177.86 L243.06 177.46 L243.28 176.2 L243.5 175.34 L243.71 177.88 L243.93 174.83 L244.15 173.79 L244.36 173.89 L244.58 172.31 L244.8 172.5 L245.02 172.32 L245.23 169.9 L245.45 168.28 L245.67 167.46 L245.89 167.21 L246.1 162.81 L246.32 164.09 L246.54 161.68 L246.75 160.46 L246.97 161.78 L247.19 161.29 L247.41 162.1 L247.62 161.94 L247.84 157.54 L248.06 161.56 L248.28 166.17 L248.49 165.41 L248.71 165.29 L248.93 162.28 L249.14 158.32 L249.36 158.35 L249.58 161.52 L249.8 161.77 L250.01 158.77 L250.23 160.18 L250.45 161.57 L250.67 159.73 L250.88 163.36 L251.1 169.02 L251.32 171.19 L251.53 169.34 L251.75 172.08 L251.97 169.66 L252.19 167.24 L252.4 165.3 L252.62 169.23 L252.84 168.62 L253.06 171.38 L253.27 168.2 L253.49 165.77 L253.71 163.15 L253.92 167.45 L254.14 165.44 L254.36 163.94 L254.58 161.42 L254.79 166.02 L255.01 166.37 L255.23 163.16 L255.44 163.08 L255.66 163.28 L255.88 163.04 L256.1 161.57 L256.31 162.52 L256.53 158.93 L256.75 157.24 L256.97 156.49 L257.18 154.12 L257.4 158.01 L257.62 162.52 L257.83 162.02 L258.05 160.47 L258.27 161.02 L258.49 157.64 L258.7 159.75 L258.92 161.74 L259.14 161.57 L259.36 159.7 L259.57 162.88 L259.79 164.82 L260.01 161.86 L260.22 162.28 L260.44 158.45 L260.66 157.67 L260.88 161.74 L261.09 161.72 L261.31 161.36 L261.53 160.28 L261.75 161.39 L261.96 164.57 L262.18 166.56 L262.4 163.53 L262.61 162.24 L262.83 167.59 L263.05 168.84 L263.27 170.52 L263.48 172.69 L263.7 177.49 L263.92 176.73 L264.14 177.64 L264.35 176.11 L264.57 179.29 L264.79 181.72 L265 184.53 L265.22 186.27 L265.44 185.79 L265.66 188.24 L265.87 184.03 L266.09 183.97 L266.31 184.65 L266.53 182.97 L266.74 185.53 L266.96 185.52 L267.18 184.3 L267.39 186.79 L267.61 184.15 L267.83 182.82 L268.05 179.91 L268.26 178 L268.48 180.06 L268.7 182.84 L268.92 184.89 L269.13 187.1 L269.35 183.8 L269.57 186.09 L269.78 188.84 L270 194.34 L270.22 193.56 L270.44 193.97 L270.65 195.13 L270.87 198.9 L271.09 198.89 L271.3 199.48 L271.52 198.25 L271.74 202.55 L271.96 202.98 L272.17 203.52 L272.39 204.3 L272.61 202.63 L272.83 202.58 L273.04 203.86 L273.26 203.87 L273.48 203.26 L273.69 203.77 L273.91 204.26 L274.13 206.63 L274.35 207.84 L274.56 208.04 L274.78 209.84 L275 207.26 L275.22 209.11 L275.43 211.81 L275.65 209.81 L275.87 209.09 L276.08 212.34 L276.3 211.91 L276.52 210.49 L276.74 212.15 L276.95 211.19 L277.17 211.4 L277.39 213.46 L277.61 214.6 L277.82 215.49 L278.04 217.35 L278.26 218.56 L278.47 220.41 L278.69 221.76 L278.91 223.11 L279.13 222.95 L279.34 222.79 L279.56 223.56 L279.78 225.65 L280 228.02 L280.21 228.66 L280.43 228.99 L280.65 230.59 L280.86 231.03 L281.08 232.81 L281.3 233.5 L281.52 234.68 L281.73 235.43 L281.95 235.91 L282.17 236.77 L282.39 237.17 L282.6 238.53 L282.82 239.91 L283.04 241.01 L283.25 239.67 L283.47 238.81 L283.69 238.35 L283.91 238.69 L284.12 237.5 L284.34 237.32 L284.56 237.31 L284.78 236.5 L284.99 237.15 L285.21 236.87 L285.43 235.98 L285.64 235.75 L285.86 235.53 L286.08 235.86 L286.3 237.06 L286.51 237.7 L286.73 238.03 L286.95 238.41 L287.16 238.62 L287.38 239.12 L287.6 238.85 L287.82 239.66 L288.03 240.61 L288.25 240.58 L288.47 239.83 L288.69 240.07 L288.9 241.11 L289.12 241.32 L289.34 240.21 L289.55 240.6 L289.77 241.33 L289.99 241.82 L290.21 241.32 L290.42 242.15 L290.64 242.65 L290.86 244.11 L291.08 244.06 L291.29 244.24 L291.51 245 L291.73 245.87 L291.94 245.57 L292.16 244.78 L292.38 244.84 L292.6 244.05 L292.81 243.76 L293.03 243.1 L293.25 242.56 L293.47 242.4 L293.68 242.09 L293.9 242.47 L294.12 242.33 L294.33 241.48 L294.55 240.92 L294.77 241.15 L294.99 239.83 L295.2 240.05 L295.42 241.91 L295.64 242.86 L295.86 243.47 L296.07 243.47 L296.29 243.63 L296.51 243.76 L296.72 243.02 L296.94 241.39 L297.16 240.01 L297.38 238.54 L297.59 237.58 L297.81 237.29 L298.03 237.33 L298.25 236.73 L298.46 236.89 L298.68 237.61 L298.9 238.35 L299.11 238.12 L299.33 237.42 L299.55 235.86 L299.77 235.29 L299.98 235.29 L300.2 234.64 L300.42 232.8 L300.64 232.07 L300.85 232.01 L301.07 230.67 L301.29 229.72 L301.5 229.49 L301.72 228.77 L301.94 228.39 L302.16 227.03 L302.37 224.83 L302.59 223.72 L302.81 222.43 L303.02 220.34 L303.24 219.73 L303.46 220.08 L303.68 217.92 L303.89 218.75 L304.11 217.83 L304.33 216.64 L304.55 216.47 L304.76 216.1 L304.98 215.86 L305.2 213.96 L305.41 213.43 L305.63 213.86 L305.85 215.85 L306.07 214.53 L306.28 211.8 L306.5 211.28 L306.72 210.52 L306.94 210.68 L307.15 211.03 L307.37 211.73 L307.59 207.2 L307.8 208.67 L308.02 207.56 L308.24 204.74 L308.46 203.7 L308.67 202.23 L308.89 201.81 L309.11 201.03 L309.33 197.05 L309.54 198.18 L309.76 195.6 L309.98 195.92 L310.19 193.77 L310.41 193.28 L310.63 191.87 L310.85 191.38 L311.06 188.79 L311.28 186.69 L311.5 188.15 L311.72 188.39 L311.93 187.8 L312.15 180.61 L312.37 181.95 L312.58 183.39 L312.8 179.66 L313.02 181.28 L313.24 185.53 L313.45 184.05 L313.67 180.29 L313.89 183.13 L314.11 183.66 L314.32 183.19 L314.54 182.68 L314.76 182.14 L314.97 180.54 L315.19 181.58 L315.41 184.05 L315.63 184.6 L315.84 187.02 L316.06 183.2 L316.28 178.94 L316.5 181.76 L316.71 183.51 L316.93 183.2 L317.15 181.3 L317.36 179.37 L317.58 180.93 L317.8 177.2 L318.02 177.09 L318.23 174.39 L318.45 172.67 L318.67 174.83 L318.88 169.12 L319.1 170.77 L319.32 173.43 L319.54 173.13 L319.75 174.44 L319.97 173.16 L320.19 173.29 L320.41 176.68 L320.62 173.02 L320.84 171 L321.06 168.65 L321.27 168.61 L321.49 170.54 L321.71 169.9 L321.93 167.67 L322.14 165.96 L322.36 166.23 L322.58 162.18 L322.8 162.74 L323.01 162.49 L323.23 162 L323.45 163.42 L323.66 162.66 L323.88 163.68 L324.1 168.43 L324.32 168.34 L324.53 168.59 L324.75 167.48 L324.97 169.02 L325.19 169.62 L325.4 171.19 L325.62 172.66 L325.84 168.74 L326.05 168.28 L326.27 166.06 L326.49 160.03 L326.71 162.78 L326.92 166.46 L327.14 167.74 L327.36 166.83 L327.58 169.98 L327.79 170.86 L328.01 169.16 L328.23 172.29 L328.44 173.39 L328.66 170.52 L328.88 168.26 L329.1 171.21 L329.31 168.96 L329.53 167.69 L329.75 167.83 L329.97 167.03 L330.18 168.96 L330.4 168.62 L330.62 168.25 L330.83 165.95 L331.05 162.84 L331.27 163.63 L331.49 165.29 L331.7 165.34 L331.92 170.14 L332.14 166.59 L332.36 166.37 L332.57 170.06 L332.79 170.29 L333.01 168.71 L333.22 167.95 L333.44 168.44 L333.66 168.5 L333.88 167.11 L334.09 164.81 L334.31 165.57 L334.53 166.63 L334.74 165.1 L334.96 158.99 L335.18 161.4 L335.4 162.7 L335.61 163.79 L335.83 165.05 L336.05 166.46 L336.27 166.13 L336.48 165.13 L336.7 166.51 L336.92 169.29 L337.13 166.68 L337.35 168.33 L337.57 170.8 L337.79 167.96 L338 163.82 L338.22 167.28 L338.44 167.61 L338.66 168.97 L338.87 171.69 L339.09 171.72 L339.31 171.54 L339.52 174.01 L339.74 174.38 L339.96 174.53 L340.18 175.26 L340.39 175.39 L340.61 174.47 L340.83 174.43 L341.05 175.06 L341.26 173.59 L341.48 174.16 L341.7 178.56 L341.91 177.62 L342.13 177.91 L342.35 178.49 L342.57 179.53 L342.78 180.44 L343 180.89 L343.22 180.52 L343.44 182.81 L343.65 181.31 L343.87 182.17 L344.09 177.56 L344.3 178.54 L344.52 182.24 L344.74 181.11 L344.96 180.68 L345.17 182.47 L345.39 181.7 L345.61 182.83 L345.83 180.46 L346.04 183.12 L346.26 184.9 L346.48 187.82 L346.69 188.75 L346.91 187.28 L347.13 190.49 L347.35 187.26 L347.56 184.01 L347.78 185.43 L348 192.98 L348.22 192.92 L348.43 192.64 L348.65 193.49 L348.87 195.07 L349.08 199.39 L349.3 199.36 L349.52 201.43 L349.74 198.44 L349.95 195.88 L350.17 200.04 L350.39 199.96 L350.6 201.07 L350.82 203.87 L351.04 202.91 L351.26 204.48 L351.47 203.49 L351.69 202.92 L351.91 204.62 L352.13 204.81 L352.34 207.66 L352.56 208.31 L352.78 207.86 L352.99 208.72 L353.21 208.99 L353.43 208.64 L353.65 210.02 L353.86 209.92 L354.08 211.01 L354.3 210.68 L354.52 212.61 L354.73 213.88 L354.95 213.49 L355.17 214.29 L355.38 215.22 L355.6 216.71 L355.82 216.29 L356.04 217.89 L356.25 219.5 L356.47 218.45 L356.69 216.95 L356.91 218.78 L357.12 220.18 L357.34 219.93 L357.56 221.5 L357.77 222.15 L357.99 222.68 L358.21 223.16 L358.43 223.94 L358.64 225.18 L358.86 226.42 L359.08 227.56 L359.3 228.15 L359.51 228.39 L359.73 229.37 L359.95 230.15 L360.16 229.87 L360.38 230.93 L360.6 231.97 L360.82 233.06 L361.03 233.81 L361.25 234.37 L361.47 234.83 L361.69 235.97 L361.9 236.18 L362.12 235.57 L362.34 235.89 L362.55 235.83 L362.77 236.8 L362.99 236.28 L363.21 236.33 L363.42 236.78 L363.64 237.02 L363.86 237.53 L364.08 238.49 L364.29 238.59 L364.51 239.18 L364.73 239.56 L364.94 239.38 L365.16 240.77 L365.38 241.15 L365.6 241.4 L365.81 241.18 L366.03 242.02 L366.25 242.06 L366.46 242.08 L366.68 243.3 L366.9 243.02 L367.12 242.86 L367.33 243.46 L367.55 244.29 L367.77 244.81 L367.99 245.07 L368.2 245.32 L368.42 245.23 L368.64 244.16 L368.85 244.27 L369.07 244.38 L369.29 245.04 L369.51 245.69 L369.72 245.16 L369.94 244.18 L370.16 244.22 L370.38 244.42 L370.59 243.54 L370.81 243.31 L371.03 243.08 L371.24 242.3 L371.46 243.22 L371.68 243.4 L371.9 243.4 L372.11 242.84 L372.33 242.86 L372.55 243.12 L372.77 243.5 L372.98 243.47 L373.2 243.36 L373.42 243.75 L373.63 243.14 L373.85 241.88 L374.07 241.69 L374.29 242.38 L374.5 241.72 L374.72 242.08 L374.94 241.89 L375.16 240.67 L375.37 240.25 L375.59 239.93 L375.81 239.07 L376.02 238.5 L376.24 238.13 L376.46 238.01 L376.68 237.03 L376.89 236.53 L377.11 235.91 L377.33 235.35 L377.55 235.62 L377.76 233.77 L377.98 233.64 L378.2 233.41 L378.41 231.92 L378.63 231.92 L378.85 231.27 L379.07 229.22 L379.28 228.39 L379.5 227.07 L379.72 227.07 L379.94 226.42 L380.15 226 L380.37 226.1 L380.59 225.14 L380.8 224.85 L381.02 223.32 L381.24 221.16 L381.46 221.33 L381.67 220.74 L381.89 219 L382.11 220.21 L382.32 219.07 L382.54 218.01 L382.76 216.31 L382.98 216.28 L383.19 215.86 L383.41 214.64 L383.63 213.64 L383.85 211.52 L384.06 213.5 L384.28 210.83 L384.5 208.64 L384.71 209.21 L384.93 209.49 L385.15 210.08 L385.37 208.2 L385.58 207.88 L385.8 206.65 L386.02 208.88 L386.24 207.03 L386.45 206.48 L386.67 202.62 L386.89 202.7 L387.1 201.01 L387.32 202.28 L387.54 201.77 L387.76 198.25 L387.97 197.64 L388.19 197.39 L388.41 196.85 L388.63 197.42 L388.84 196.63 L389.06 195.71 L389.28 197.57 L389.49 197.51 L389.71 194.18 L389.93 194.36 L390.15 195.2 L390.36 194.57 L390.58 194.08 L390.8 196.23 L391.02 196.4 L391.23 195.31 L391.45 194.12 L391.67 197.1 L391.88 196.45 L392.1 192.24 L392.32 191.84 L392.54 192.91 L392.75 189.71 L392.97 189.93 L393.19 188.27 L393.41 185.69 L393.62 184.44 L393.84 181.52 L394.06 181.42 L394.27 180.84 L394.49 187.69 L394.71 188.08 L394.93 186.75 L395.14 185 L395.36 185.61 L395.58 185.66 L395.8 184.49 L396.01 182.45 L396.23 178.83 L396.45 179.23 L396.66 176.98 L396.88 174.7 L397.1 174.81 L397.32 177.71 L397.53 178.39 L397.75 175.51 L397.97 179.95 L398.18 179.61 L398.4 175.48 L398.62 173.89 L398.84 174.27 L399.05 174.82 L399.27 171.57 L399.49 169.21 L399.71 169.39 L399.92 165.42 L400.14 167.97 L400.36 169.57 L400.57 167.93 L400.79 167.61 L401.01 166.84 L401.23 166.47 L401.44 164.79 L401.66 162.76 L401.88 163.42 L402.1 164.57 L402.31 167.59 L402.53 168.62 L402.75 166.49 L402.96 164.31 L403.18 164.61 L403.4 166.78 L403.62 169.93 L403.83 168.83 L404.05 167.49 L404.27 166.29 L404.49 168.08 L404.7 166.73 L404.92 164.9 L405.14 164.7 L405.35 165.75 L405.57 162.88 L405.79 164.41 L406.01 163.11 L406.22 160.83 L406.44 161.25 L406.66 159.38 L406.88 157.78 L407.09 158.08 L407.31 157.7 L407.53 159.88 L407.74 159.89 L407.96 160.72 L408.18 160 L408.4 154.65 L408.61 158.68 L408.83 157.5 L409.05 160.01 L409.27 159.76 L409.48 162.07 L409.7 163.89 L409.92 159.97 L410.13 162.39 L410.35 162.4 L410.57 160.37 L410.79 164.14 L411 164.07 L411.22 162.81 L411.44 163.9 L411.66 169.45 L411.87 163.9 L412.09 160.12 L412.31 161.5 L412.52 163.14 L412.74 163.72 L412.96 164.12 L413.18 163.63 L413.39 166.08 L413.61 164.92 L413.83 163.69 L414.04 165.29 L414.26 168.01 L414.48 171.5 L414.7 172.24 L414.91 171.93 L415.13 173.48 L415.35 175.94 L415.57 179.28 L415.78 176.67 L416 178.36 L416.22 178.78 L416.43 176.21 L416.65 177.29 L416.87 177.07 L417.09 175.88 L417.3 177.24 L417.52 178.33 L417.74 178.08 L417.96 176.09 L418.17 177.58 L418.39 180.71 L418.61 176.43 L418.82 177.93 L419.04 179.58 L419.26 178.63 L419.48 178.75 L419.69 177.91 L419.91 178.5 L420.13 178.9 L420.35 176.79 L420.56 177.46 L420.78 177.99 L421 178.69 L421.21 180.06 L421.43 180.21 L421.65 184.66 L421.87 188.08 L422.08 188.9 L422.3 187.47 L422.52 184.66 L422.74 187.59 L422.95 185.37 L423.17 186.94 L423.39 190.02 L423.6 186.86 L423.82 189.04 L424.04 188.79 L424.26 187.74 L424.47 187.01 L424.69 189.04 L424.91 189.22 L425.13 192.43 L425.34 193.28 L425.56 190.44 L425.78 192.23 L425.99 193.87 L426.21 193.69 L426.43 195.09 L426.65 197.99 L426.86 198.58 L427.08 197.86 L427.3 200.36 L427.52 202.54 L427.73 201.26 L427.95 202.64 L428.17 206.81 L428.38 206.92 L428.6 203.67 L428.82 204.46 L429.04 207.07 L429.25 206.62 L429.47 207.9 L429.69 208.83 L429.9 209.75 L430.12 207.19 L430.34 207.81 L430.56 210.55 L430.77 213.83 L430.99 213.46 L431.21 212.79 L431.43 215.53 L431.64 216.81 L431.86 216.63 L432.08 217.18 L432.29 218.71 L432.51 219.95 L432.73 219.86 L432.95 220.53 L433.16 220.8 L433.38 221.16 L433.6 221.83 L433.82 223.51 L434.03 224.17 L434.25 225 L434.47 226.4 L434.68 226.9 L434.9 227.17 L435.12 226.5 L435.34 227.98 L435.55 228.29 L435.77 228.81 L435.99 229.92 L436.21 231.68 L436.42 232.03 L436.64 231.47 L436.86 231.54 L437.07 232.4 L437.29 232.95 L437.51 234.03 L437.73 233.12 L437.94 233.24 L438.16 234.36 L438.38 234.95 L438.6 235.34 L438.81 235.98 L439.03 236.54 L439.25 235.69 L439.46 235.25 L439.68 234.95 L439.9 235.87 L440.12 236.3 L440.33 236.08 L440.55 236.63 L440.77 236.65 L440.99 237.34 L441.2 237.11 L441.42 236.7 L441.64 236.94 L441.85 236.9 L442.07 237.31 L442.29 238.81 L442.51 239.95 L442.72 240.82 L442.94 240.46" fill="none" stroke="#FF2020" stroke-width="0.9"/>
<path d="M56 242.47 L56.22 247.3 L56.43 237.28 L56.65 229.76 L56.87 238.78 L57.09 264.44 L57.3 271.72 L57.52 262.91 L57.74 253.64 L57.96 246.58 L58.17 247.5 L58.39 251.48 L58.61 252.62 L58.82 256.09 L59.04 248.24 L59.26 247.29 L59.48 258.01 L59.69 257.8 L59.91 252.33 L60.13 238.1 L60.35 228.92 L60.56 237.66 L60.78 242.92 L61 244.85 L61.21 230.71 L61.43 227.26 L61.65 244.93 L61.87 254.4 L62.08 248.43 L62.3 243.24 L62.52 244.96 L62.74 237.02 L62.95 234.78 L63.17 238.12 L63.39 246.4 L63.6 253.47 L63.82 252.09 L64.04 255.69 L64.26 249.94 L64.47 231.7 L64.69 228.51 L64.91 236.55 L65.12 241.94 L65.34 240.71 L65.56 237.41 L65.78 251.48 L65.99 258.07 L66.21 245.11 L66.43 234.57 L66.65 237.83 L66.86 242.79 L67.08 247.6 L67.3 248.75 L67.51 248.22 L67.73 246.36 L67.95 239.87 L68.17 220.88 L68.38 220.7 L68.6 228.57 L68.82 227.3 L69.04 229.44 L69.25 226.12 L69.47 224.71 L69.69 222.56 L69.9 224.52 L70.12 228.93 L70.34 229.47 L70.56 235.36 L70.77 243.77 L70.99 233.65 L71.21 225.75 L71.43 234.4 L71.64 242.16 L71.86 245.95 L72.08 241.1 L72.29 230.21 L72.51 233.46 L72.73 235.13 L72.95 226.26 L73.16 211.37 L73.38 197.98 L73.6 209.73 L73.82 220.64 L74.03 210.02 L74.25 209.4 L74.47 219.03 L74.68 226.21 L74.9 222.67 L75.12 209.58 L75.34 211.2 L75.55 213.65 L75.77 207.86 L75.99 215.13 L76.21 228.22 L76.42 226.69 L76.64 209.94 L76.86 194.57 L77.07 200.12 L77.29 207.57 L77.51 207.98 L77.73 215.82 L77.94 223.83 L78.16 211.19 L78.38 200.18 L78.6 201.04 L78.81 200.69 L79.03 200.04 L79.25 203 L79.46 205.76 L79.68 200.74 L79.9 194.08 L80.12 196.36 L80.33 199.7 L80.55 200.83 L80.77 205.09 L80.98 201.95 L81.2 195.26 L81.42 201.87 L81.64 212.77 L81.85 210.84 L82.07 201.93 L82.29 195.9 L82.51 186 L82.72 182.11 L82.94 189.95 L83.16 194.47 L83.37 193.76 L83.59 191.07 L83.81 188.38 L84.03 186.69 L84.24 190.59 L84.46 192.64 L84.68 189.41 L84.9 182.53 L85.11 171.38 L85.33 176.81 L85.55 194.54 L85.76 199.23 L85.98 188.18 L86.2 175.81 L86.42 171 L86.63 177.89 L86.85 178.46 L87.07 171.84 L87.29 177.45 L87.5 182.18 L87.72 176.8 L87.94 169.66 L88.15 168.98 L88.37 170.36 L88.59 179.43 L88.81 175.99 L89.02 172.06 L89.24 183.52 L89.46 185.73 L89.68 182.02 L89.89 183.9 L90.11 175 L90.33 174.85 L90.54 172.4 L90.76 162.38 L90.98 169.55 L91.2 172.16 L91.41 166.18 L91.63 162.22 L91.85 162.61 L92.07 157.27 L92.28 154.69 L92.5 156.64 L92.72 162.34 L92.93 169.02 L93.15 160.22 L93.37 156.2 L93.59 161.6 L93.8 168.93 L94.02 175.44 L94.24 174.08 L94.46 165.99 L94.67 162.8 L94.89 167.5 L95.11 173.14 L95.32 169.63 L95.54 157.22 L95.76 156.67 L95.98 174.36 L96.19 177.9 L96.41 170.49 L96.63 164.11 L96.84 156.47 L97.06 152.39 L97.28 154.54 L97.5 155.23 L97.71 150.84 L97.93 148.38 L98.15 155.21 L98.37 161.05 L98.58 158.78 L98.8 153.09 L99.02 147.88 L99.23 152.56 L99.45 154.53 L99.67 148.83 L99.89 148.97 L100.1 156.48 L100.32 159.95 L100.54 162.83 L100.76 164.31 L100.97 165.06 L101.19 159.83 L101.41 155.34 L101.62 159.67 L101.84 165.15 L102.06 167.86 L102.28 165.7 L102.49 167.59 L102.71 175.78 L102.93 180.83 L103.15 181.03 L103.36 180.24 L103.58 178.92 L103.8 179.51 L104.01 179.55 L104.23 176.65 L104.45 174.9 L104.67 180.34 L104.88 186.31 L105.1 179.04 L105.32 171.32 L105.54 170.17 L105.75 172.05 L105.97 170.31 L106.19 162.11 L106.4 159.6 L106.62 164.81 L106.84 166.62 L107.06 173.13 L107.27 181.3 L107.49 189.13 L107.71 191.22 L107.93 183.05 L108.14 172.61 L108.36 167.52 L108.58 169.42 L108.79 170.04 L109.01 167.73 L109.23 174.52 L109.45 181.79 L109.66 183.94 L109.88 181.75 L110.1 179.57 L110.32 176.51 L110.53 173.2 L110.75 173.34 L110.97 184.68 L111.18 194.45 L111.4 192.45 L111.62 187.7 L111.84 187.04 L112.05 191.28 L112.27 190.64 L112.49 191.96 L112.7 190.16 L112.92 188.96 L113.14 194.27 L113.36 195.49 L113.57 195.67 L113.79 196.51 L114.01 195 L114.23 194.77 L114.44 196.62 L114.66 196.09 L114.88 194.86 L115.09 190.8 L115.31 187.84 L115.53 191.13 L115.75 196.78 L115.96 203.2 L116.18 204.27 L116.4 197.69 L116.62 194.37 L116.83 190.36 L117.05 192.15 L117.27 193.34 L117.48 189.12 L117.7 192.88 L117.92 203.86 L118.14 209.06 L118.35 208.81 L118.57 212.54 L118.79 219.54 L119.01 215.52 L119.22 214.03 L119.44 221.15 L119.66 220.93 L119.87 218.66 L120.09 221.49 L120.31 222.12 L120.53 221.61 L120.74 218.32 L120.96 216.47 L121.18 221.56 L121.4 219.57 L121.61 212.73 L121.83 215.6 L122.05 223.43 L122.26 223.41 L122.48 225.02 L122.7 228.08 L122.92 222.15 L123.13 217.3 L123.35 229.01 L123.57 240.95 L123.79 246.83 L124 248.93 L124.22 245.02 L124.44 246.88 L124.65 248.79 L124.87 246.8 L125.09 257.5 L125.31 263.27 L125.52 261.13 L125.74 260.81 L125.96 249.39 L126.18 239.01 L126.39 245.43 L126.61 247.83 L126.83 246.5 L127.04 250.33 L127.26 256.39 L127.48 249.98 L127.7 241.82 L127.91 247.1 L128.13 248.08 L128.35 238.6 L128.56 235.04 L128.78 236.38 L129 241.11 L129.22 254.33 L129.43 270.5 L129.65 275 L129.87 275 L130.09 275 L130.3 274.92 L130.52 269.32 L130.74 259.49 L130.95 258.96 L131.17 257.21 L131.39 250.58 L131.61 245.34 L131.82 243.75 L132.04 242.36 L132.26 243.22 L132.48 252.08 L132.69 255.92 L132.91 257.3 L133.13 260.58 L133.34 259.48 L133.56 251.74 L133.78 243.36 L134 230.35 L134.21 223.17 L134.43 235.13 L134.65 251.04 L134.87 250.18 L135.08 259.43 L135.3 268.03 L135.52 267.48 L135.73 275 L135.95 275 L136.17 275 L136.39 275 L136.6 269.25 L136.82 256.94 L137.04 255.29 L137.26 248.64 L137.47 241.1 L137.69 250.29 L137.91 266.03 L138.12 260.69 L138.34 252.97 L138.56 251.52 L138.78 253.62 L138.99 252.41 L139.21 246.56 L139.43 239.04 L139.65 237.54 L139.86 246.85 L140.08 264.01 L140.3 275 L140.51 275 L140.73 275 L140.95 263.39 L141.17 248.62 L141.38 239.13 L141.6 235.22 L141.82 231.36 L142.04 243.6 L142.25 258.67 L142.47 259.12 L142.69 253.4 L142.9 240.02 L143.12 229.65 L143.34 231.88 L143.56 241.43 L143.77 254.76 L143.99 255.36 L144.21 239.87 L144.42 232.07 L144.64 231.22 L144.86 227.04 L145.08 224.31 L145.29 230.61 L145.51 235.53 L145.73 230.95 L145.95 222.04 L146.16 218.05 L146.38 217.89 L146.6 223.45 L146.81 220.74 L147.03 218.54 L147.25 217.71 L147.47 213.58 L147.68 207.96 L147.9 213.4 L148.12 230.99 L148.34 234.72 L148.55 237.01 L148.77 241.74 L148.99 233.9 L149.2 228.75 L149.42 230.27 L149.64 234.74 L149.86 232.28 L150.07 225.43 L150.29 221.58 L150.51 225.09 L150.73 220.32 L150.94 203.5 L151.16 204.04 L151.38 207.58 L151.59 201.27 L151.81 197.52 L152.03 207.23 L152.25 207.04 L152.46 203.68 L152.68 196.54 L152.9 187.86 L153.12 185.83 L153.33 181.58 L153.55 187.44 L153.77 199.83 L153.98 207.6 L154.2 211.16 L154.42 221.61 L154.64 234.41 L154.85 217.94 L155.07 192.33 L155.29 186.67 L155.51 190.13 L155.72 192.34 L155.94 190.35 L156.16 198.32 L156.37 213.55 L156.59 207.14 L156.81 195.3 L157.03 193.35 L157.24 201.39 L157.46 212.84 L157.68 211.24 L157.9 192.57 L158.11 171.03 L158.33 187.32 L158.55 211.88 L158.76 214.7 L158.98 193.14 L159.2 177.38 L159.42 181.12 L159.63 174.58 L159.85 166.11 L160.07 177.71 L160.28 196.69 L160.5 202.22 L160.72 193.3 L160.94 189.06 L161.15 193.73 L161.37 181.2 L161.59 171.63 L161.81 173.73 L162.02 185.94 L162.24 190.2 L162.46 187.46 L162.67 181.48 L162.89 176.47 L163.11 170.28 L163.33 166.86 L163.54 177.31 L163.76 180.67 L163.98 174.11 L164.2 173.12 L164.41 178.59 L164.63 182.73 L164.85 177.75 L165.06 169.69 L165.28 161.81 L165.5 156.99 L165.72 160.55 L165.93 165.69 L166.15 167.42 L166.37 170.35 L166.59 173.84 L166.8 173.71 L167.02 172.85 L167.24 172.64 L167.45 170.32 L167.67 168.1 L167.89 164.41 L168.11 161.02 L168.32 164.54 L168.54 164.11 L168.76 167.64 L168.98 171.01 L169.19 171.77 L169.41 166.29 L169.63 163.43 L169.84 168.55 L170.06 168.83 L170.28 166.87 L170.5 168.76 L170.71 172.95 L170.93 171.98 L171.15 163.34 L171.37 154.86 L171.58 157.97 L171.8 168.16 L172.02 175.4 L172.23 171.8 L172.45 168.76 L172.67 169.96 L172.89 166.36 L173.1 163.02 L173.32 159.49 L173.54 157.62 L173.76 164.52 L173.97 165.44 L174.19 158.56 L174.41 155.67 L174.62 162.95 L174.84 166.83 L175.06 158.43 L175.28 153.68 L175.49 153.25 L175.71 145.05 L175.93 143 L176.14 147.85 L176.36 152.39 L176.58 154.17 L176.8 155.94 L177.01 158.04 L177.23 156.46 L177.45 154.22 L177.67 156.56 L177.88 162.54 L178.1 166.28 L178.32 164.93 L178.53 155.01 L178.75 143 L178.97 145 L179.19 153.52 L179.4 156.25 L179.62 157.82 L179.84 164.73 L180.06 165.48 L180.27 162.41 L180.49 162.44 L180.71 161.7 L180.92 162.01 L181.14 164.09 L181.36 161.36 L181.58 157.95 L181.79 159.97 L182.01 162.58 L182.23 164.93 L182.45 168.99 L182.66 170.71 L182.88 176.31 L183.1 175.12 L183.31 169.55 L183.53 172.43 L183.75 176.19 L183.97 171.66 L184.18 168.65 L184.4 175.88 L184.62 180.41 L184.84 174.92 L185.05 175.8 L185.27 177.42 L185.49 176.21 L185.7 175.82 L185.92 179.56 L186.14 185.38 L186.36 184.25 L186.57 182 L186.79 184.17 L187.01 181.74 L187.23 184.8 L187.44 189.87 L187.66 193.33 L187.88 193.85 L188.09 193.65 L188.31 192.85 L188.53 195.07 L188.75 198.92 L188.96 200.62 L189.18 196.03 L189.4 197.35 L189.62 197.29 L189.83 193.19 L190.05 190.68 L190.27 188.94 L190.48 182.66 L190.7 183.99 L190.92 190.69 L191.14 193.49 L191.35 200.57 L191.57 201.38 L191.79 200.96 L192 202.41 L192.22 202.58 L192.44 200.11 L192.66 199.63 L192.87 204.88 L193.09 213.45 L193.31 218.45 L193.53 217.68 L193.74 211.17 L193.96 202.33 L194.18 199.58 L194.39 208.91 L194.61 214.04 L194.83 213.26 L195.05 218.23 L195.26 221.69 L195.48 220.18 L195.7 219.72 L195.92 212.77 L196.13 203.75 L196.35 205.72 L196.57 212.04 L196.78 214.86 L197 211.6 L197.22 209.73 L197.44 211.07 L197.65 216.5 L197.87 223.26 L198.09 229.19 L198.31 229.87 L198.52 227.01 L198.74 225.77 L198.96 226.29 L199.17 229.23 L199.39 226.76 L199.61 216.04 L199.83 220.15 L200.04 230.65 L200.26 233.11 L200.48 228.82 L200.7 233.08 L200.91 236.27 L201.13 227.09 L201.35 218.96 L201.56 222.32 L201.78 228.69 L202 236.65 L202.22 243.27 L202.43 252.48 L202.65 247.55 L202.87 236.97 L203.09 233.87 L203.3 238.16 L203.52 253.41 L203.74 263.69 L203.95 260.52 L204.17 256.75 L204.39 252.89 L204.61 264.52 L204.82 273.01 L205.04 263.33 L205.26 268.35 L205.48 263.03 L205.69 238.25 L205.91 230.83 L206.13 243.96 L206.34 258.09 L206.56 257.2 L206.78 258.11 L207 263.65 L207.21 262.86 L207.43 259.94 L207.65 260.79 L207.86 263.81 L208.08 263.63 L208.3 267.49 L208.52 258.69 L208.73 253.38 L208.95 259.95 L209.17 254.67 L209.39 242.66 L209.6 243.46 L209.82 241.96 L210.04 247.16 L210.25 255.75 L210.47 254.6 L210.69 256.84 L210.91 264.2 L211.12 271.22 L211.34 259.18 L211.56 242.98 L211.78 239.03 L211.99 244.86 L212.21 254.48 L212.43 261.94 L212.64 266.48 L212.86 264.06 L213.08 261.42 L213.3 260.62 L213.51 259.92 L213.73 263.54 L213.95 268.01 L214.17 263.86 L214.38 249.18 L214.6 238.74 L214.82 243.13 L215.03 244.58 L215.25 237.24 L215.47 245.19 L215.69 254.48 L215.9 251.27 L216.12 255.12 L216.34 271.86 L216.56 274.78 L216.77 268.88 L216.99 272.52 L217.21 270.08 L217.42 265.71 L217.64 270.42 L217.86 259 L218.08 248.76 L218.29 246.88 L218.51 247.89 L218.73 247.62 L218.95 256.65 L219.16 265.8 L219.38 263.54 L219.6 262.97 L219.81 265.43 L220.03 260.7 L220.25 261.13 L220.47 259.57 L220.68 258.7 L220.9 258.91 L221.12 257.95 L221.34 253.96 L221.55 249.13 L221.77 251.45 L221.99 256.7 L222.2 251.22 L222.42 241.55 L222.64 239.13 L222.86 241.83 L223.07 246.88 L223.29 249.38 L223.51 245.69 L223.72 239.55 L223.94 232.64 L224.16 215.93 L224.38 206.57 L224.59 214.66 L224.81 214.27 L225.03 213.24 L225.25 219.54 L225.46 226.47 L225.68 223.6 L225.9 223.77 L226.11 216.82 L226.33 204.45 L226.55 205.82 L226.77 222.97 L226.98 235.27 L227.2 244.86 L227.42 248.82 L227.64 237.81 L227.85 227.31 L228.07 222.11 L228.29 218.76 L228.5 213.8 L228.72 218.26 L228.94 224.67 L229.16 211.84 L229.37 215.06 L229.59 222.56 L229.81 216.3 L230.03 207.06 L230.24 206.16 L230.46 203.75 L230.68 201.56 L230.89 206.01 L231.11 207.16 L231.33 209.35 L231.55 211.95 L231.76 207.66 L231.98 208.91 L232.2 209.76 L232.42 213.22 L232.63 213.67 L232.85 207.25 L233.07 196.2 L233.28 191.65 L233.5 196.26 L233.72 208.69 L233.94 219.47 L234.15 217.98 L234.37 205.78 L234.59 193.43 L234.81 176.01 L235.02 168.29 L235.24 176.38 L235.46 179.32 L235.67 172.62 L235.89 176.22 L236.11 188.69 L236.33 185.37 L236.54 190.32 L236.76 212.06 L236.98 208.8 L237.2 199.16 L237.41 198.33 L237.63 198.28 L237.85 197.61 L238.06 178.72 L238.28 171.02 L238.5 179.55 L238.72 188.8 L238.93 192.37 L239.15 177.58 L239.37 176.76 L239.58 191.26 L239.8 202.61 L240.02 207.49 L240.24 211.33 L240.45 212.66 L240.67 197.65 L240.89 193.08 L241.11 194.62 L241.32 185.61 L241.54 177.7 L241.76 172.75 L241.97 166.61 L242.19 161.88 L242.41 160.32 L242.63 161.57 L242.84 168.88 L243.06 179.06 L243.28 207.67 L243.5 219.14 L243.71 204.35 L243.93 183.73 L244.15 180.27 L244.36 191.17 L244.58 190.68 L244.8 183.24 L245.02 178.53 L245.23 180.29 L245.45 171.79 L245.67 161.32 L245.89 151.26 L246.1 158.8 L246.32 170.28 L246.54 167.61 L246.75 168.75 L246.97 176.67 L247.19 177.93 L247.41 168.25 L247.62 152.2 L247.84 162.58 L248.06 164.67 L248.28 148.32 L248.49 150.39 L248.71 162.76 L248.93 158.55 L249.14 160.11 L249.36 168.87 L249.58 169.44 L249.8 166.9 L250.01 163.64 L250.23 172.74 L250.45 180.07 L250.67 167 L250.88 154.01 L251.1 164.65 L251.32 168.91 L251.53 168.79 L251.75 172.54 L251.97 170.82 L252.19 179.39 L252.4 181.15 L252.62 182.29 L252.84 171 L253.06 159.97 L253.27 166.38 L253.49 175.22 L253.71 179.81 L253.92 176.95 L254.14 168.9 L254.36 172.12 L254.58 173.66 L254.79 163.97 L255.01 155.05 L255.23 158.56 L255.44 170.81 L255.66 171.02 L255.88 158.27 L256.1 156.25 L256.31 162.59 L256.53 157.32 L256.75 155.68 L256.97 150.34 L257.18 147.56 L257.4 158.02 L257.62 170.87 L257.83 186.23 L258.05 190.15 L258.27 180.19 L258.49 178.97 L258.7 175.8 L258.92 164 L259.14 163.99 L259.36 173.27 L259.57 169.15 L259.79 163.9 L260.01 162.44 L260.22 161.82 L260.44 164.99 L260.66 175.41 L260.88 177.58 L261.09 164.09 L261.31 154.52 L261.53 154.75 L261.75 153.01 L261.96 163.32 L262.18 185.04 L262.4 193.47 L262.61 178.68 L262.83 165.4 L263.05 160.97 L263.27 152.51 L263.48 163.17 L263.7 182.15 L263.92 177.92 L264.14 159.98 L264.35 159.17 L264.57 173.62 L264.79 176.23 L265 174.11 L265.22 175.32 L265.44 167.77 L265.66 164.41 L265.87 173.81 L266.09 171.55 L266.31 163.97 L266.53 165.41 L266.74 173.18 L266.96 176.95 L267.18 181.95 L267.39 185.13 L267.61 186.4 L267.83 177.59 L268.05 164.57 L268.26 156.72 L268.48 167.84 L268.7 194.52 L268.92 204.91 L269.13 184.6 L269.35 176.61 L269.57 187.16 L269.78 191.03 L270 186.06 L270.22 181.44 L270.44 177.45 L270.65 187.63 L270.87 204.74 L271.09 209.54 L271.3 199.62 L271.52 195.66 L271.74 202.87 L271.96 208.27 L272.17 202.41 L272.39 195.71 L272.61 200.96 L272.83 202.7 L273.04 191.1 L273.26 187.42 L273.48 199.12 L273.69 208.37 L273.91 210.03 L274.13 202.42 L274.35 193.39 L274.56 188.82 L274.78 185.09 L275 185.41 L275.22 190.57 L275.43 199.38 L275.65 204.29 L275.87 196.99 L276.08 196.8 L276.3 205.46 L276.52 216.42 L276.74 213.38 L276.95 208.87 L277.17 212.14 L277.39 209.95 L277.61 212.01 L277.82 224.5 L278.04 231.6 L278.26 235.82 L278.47 233.05 L278.69 223.66 L278.91 210.87 L279.13 204.79 L279.34 212.63 L279.56 217.7 L279.78 217.87 L280 210.57 L280.21 201.87 L280.43 205.21 L280.65 222.15 L280.86 229.81 L281.08 224.86 L281.3 228.42 L281.52 229.94 L281.73 217.85 L281.95 211.55 L282.17 217.19 L282.39 230.72 L282.6 230.06 L282.82 217.83 L283.04 212.62 L283.25 225.38 L283.47 236.88 L283.69 233.74 L283.91 232.59 L284.12 233.92 L284.34 230.47 L284.56 236.42 L284.78 240.66 L284.99 234.53 L285.21 233.61 L285.43 240.21 L285.64 242.31 L285.86 242.92 L286.08 245.54 L286.3 243.31 L286.51 237.05 L286.73 240.04 L286.95 252.61 L287.16 262.77 L287.38 260.68 L287.6 253.51 L287.82 258.1 L288.03 259.73 L288.25 256.46 L288.47 259.45 L288.69 266.21 L288.9 265.12 L289.12 254.79 L289.34 253.92 L289.55 254.43 L289.77 257.6 L289.99 264.87 L290.21 260.96 L290.42 250.04 L290.64 248.81 L290.86 248.97 L291.08 247.5 L291.29 254.61 L291.51 256.79 L291.73 257.66 L291.94 264.5 L292.16 269.3 L292.38 261.09 L292.6 258.67 L292.81 262.93 L293.03 252.54 L293.25 241.18 L293.47 242.66 L293.68 256.03 L293.9 260.53 L294.12 258.46 L294.33 254.11 L294.55 246.76 L294.77 239.86 L294.99 241.98 L295.2 252.03 L295.42 260.82 L295.64 262.39 L295.86 248.13 L296.07 238.54 L296.29 243.32 L296.51 251.85 L296.72 249.65 L296.94 259.5 L297.16 266.67 L297.38 258.74 L297.59 246.09 L297.81 229.99 L298.03 227.48 L298.25 231.32 L298.46 242.19 L298.68 246.48 L298.9 247.97 L299.11 256.56 L299.33 254.57 L299.55 243.78 L299.77 235.1 L299.98 233.46 L300.2 249.31 L300.42 262.6 L300.64 252.15 L300.85 244.95 L301.07 244.81 L301.29 250.3 L301.5 247.11 L301.72 230.56 L301.94 217.55 L302.16 228.68 L302.37 244.07 L302.59 242.43 L302.81 236.25 L303.02 220.64 L303.24 211.63 L303.46 225.13 L303.68 230.08 L303.89 222.01 L304.11 220.91 L304.33 223.2 L304.55 221.35 L304.76 220.8 L304.98 206.6 L305.2 191.27 L305.41 199.43 L305.63 204.86 L305.85 207.45 L306.07 214.54 L306.28 217.72 L306.5 226.56 L306.72 229.9 L306.94 213.37 L307.15 195.24 L307.37 201.2 L307.59 214.02 L307.8 208.32 L308.02 201.14 L308.24 206.78 L308.46 214.29 L308.67 215.46 L308.89 209.91 L309.11 199.02 L309.33 196.19 L309.54 196.72 L309.76 189.13 L309.98 178.37 L310.19 181.26 L310.41 191.84 L310.63 213.38 L310.85 226.78 L311.06 224.36 L311.28 210.49 L311.5 199.5 L311.72 199.58 L311.93 196.96 L312.15 191.8 L312.37 182.93 L312.58 184.46 L312.8 198.8 L313.02 208.17 L313.24 209.71 L313.45 221.02 L313.67 215.88 L313.89 188.91 L314.11 177.14 L314.32 175.55 L314.54 177.58 L314.76 180.22 L314.97 187.65 L315.19 197.64 L315.41 199.05 L315.63 192.74 L315.84 187.97 L316.06 187.37 L316.28 188.62 L316.5 189.41 L316.71 186.97 L316.93 181.58 L317.15 177.87 L317.36 189.73 L317.58 196.82 L317.8 184.16 L318.02 175.62 L318.23 180.23 L318.45 167.94 L318.67 153.94 L318.88 166.04 L319.1 180.96 L319.32 186.8 L319.54 189.41 L319.75 184.29 L319.97 170.53 L320.19 156.88 L320.41 159.58 L320.62 171.33 L320.84 173.58 L321.06 166.09 L321.27 165.21 L321.49 164.05 L321.71 152.63 L321.93 150.62 L322.14 161.57 L322.36 166.83 L322.58 159.21 L322.8 152.34 L323.01 156.65 L323.23 161.52 L323.45 168.27 L323.66 170.99 L323.88 172.41 L324.1 172.43 L324.32 171.39 L324.53 176.79 L324.75 180.62 L324.97 179.55 L325.19 177.3 L325.4 173.13 L325.62 173.92 L325.84 170.73 L326.05 164.89 L326.27 164.45 L326.49 164.22 L326.71 165.45 L326.92 171.14 L327.14 174.53 L327.36 170.48 L327.58 164.98 L327.79 161.84 L328.01 169.14 L328.23 177.96 L328.44 178.34 L328.66 172.49 L328.88 164.45 L329.1 160.65 L329.31 160 L329.53 156.62 L329.75 159.63 L329.97 167.31 L330.18 170.22 L330.4 171.93 L330.62 165.89 L330.83 163.45 L331.05 162.04 L331.27 162.34 L331.49 161.98 L331.7 164.26 L331.92 165.43 L332.14 167.03 L332.36 173.7 L332.57 176.47 L332.79 172.12 L333.01 172.11 L333.22 171.72 L333.44 174.06 L333.66 173.29 L333.88 159.09 L334.09 152.42 L334.31 153.24 L334.53 161.15 L334.74 176.67 L334.96 190.85 L335.18 187.79 L335.4 185.03 L335.61 180.2 L335.83 172.73 L336.05 175.45 L336.27 179.74 L336.48 175.5 L336.7 171.66 L336.92 166.95 L337.13 159.05 L337.35 160.64 L337.57 168.46 L337.79 169.33 L338 164.13 L338.22 164.28 L338.44 167.41 L338.66 170.99 L338.87 174.57 L339.09 173.75 L339.31 168.48 L339.52 161.56 L339.74 162.64 L339.96 166.37 L340.18 165.68 L340.39 168.8 L340.61 169.14 L340.83 170.7 L341.05 174.51 L341.26 171.58 L341.48 168.87 L341.7 172.66 L341.91 183.3 L342.13 187.31 L342.35 175.91 L342.57 174.81 L342.78 180.81 L343 183.21 L343.22 175.88 L343.44 171.96 L343.65 179.28 L343.87 179.25 L344.09 176.55 L344.3 173.42 L344.52 174.38 L344.74 181.57 L344.96 189.63 L345.17 190.65 L345.39 187.22 L345.61 187.24 L345.83 187.06 L346.04 188.53 L346.26 191.58 L346.48 191.96 L346.69 188.78 L346.91 189.8 L347.13 192.97 L347.35 192.72 L347.56 195.25 L347.78 202.56 L348 201.78 L348.22 203.09 L348.43 205.7 L348.65 201.97 L348.87 197.03 L349.08 206.93 L349.3 202.74 L349.52 196.02 L349.74 209.97 L349.95 224.8 L350.17 214.3 L350.39 199.23 L350.6 203.28 L350.82 209.15 L351.04 201.64 L351.26 202.54 L351.47 213.8 L351.69 223.6 L351.91 220.73 L352.13 216.93 L352.34 208.82 L352.56 208.43 L352.78 216.84 L352.99 214.05 L353.21 207.3 L353.43 214 L353.65 217.38 L353.86 214.11 L354.08 215.33 L354.3 215.64 L354.52 211.99 L354.73 209.66 L354.95 209.85 L355.17 209.77 L355.38 208.95 L355.6 210.07 L355.82 210.59 L356.04 214.75 L356.25 216.65 L356.47 218.55 L356.69 230.11 L356.91 240.22 L357.12 235.2 L357.34 226.5 L357.56 231.26 L357.77 232.15 L357.99 227.16 L358.21 225.75 L358.43 234.09 L358.64 244.39 L358.86 241.16 L359.08 230.61 L359.3 226.3 L359.51 233.27 L359.73 248.88 L359.95 253.75 L360.16 239.37 L360.38 234.4 L360.6 234.11 L360.82 236.42 L361.03 244.82 L361.25 243.43 L361.47 232.97 L361.69 238.02 L361.9 253.24 L362.12 256.8 L362.34 252.89 L362.55 247.6 L362.77 248.21 L362.99 250.89 L363.21 247.02 L363.42 245.62 L363.64 253.08 L363.86 257.42 L364.08 256.7 L364.29 261.97 L364.51 261.81 L364.73 256.86 L364.94 257.98 L365.16 261.29 L365.38 263.99 L365.6 260.72 L365.81 252.21 L366.03 252.61 L366.25 261.05 L366.46 263.58 L366.68 263.83 L366.9 266 L367.12 265.39 L367.33 260.16 L367.55 260.23 L367.77 260.06 L367.99 264.22 L368.2 264.05 L368.42 256.83 L368.64 256.79 L368.85 257.1 L369.07 256.21 L369.29 254.51 L369.51 250.46 L369.72 252.59 L369.94 261.01 L370.16 262.3 L370.38 254.85 L370.59 256.44 L370.81 270.07 L371.03 271.32 L371.24 261.21 L371.46 252.25 L371.68 252.06 L371.9 254.89 L372.11 257.85 L372.33 264.8 L372.55 263.78 L372.77 257.27 L372.98 249.19 L373.2 246.07 L373.42 249.48 L373.63 254.5 L373.85 254.86 L374.07 255.33 L374.29 259.03 L374.5 263.87 L374.72 265.7 L374.94 256.72 L375.16 250.22 L375.37 257.08 L375.59 263.06 L375.81 257.22 L376.02 253.57 L376.24 254.46 L376.46 257.25 L376.68 255.08 L376.89 250.17 L377.11 253.82 L377.33 262.77 L377.55 266.53 L377.76 264.05 L377.98 256.6 L378.2 246.19 L378.41 243.23 L378.63 242.47 L378.85 233.34 L379.07 225.66 L379.28 219.1 L379.5 220.31 L379.72 220.13 L379.94 220.77 L380.15 226.23 L380.37 223.79 L380.59 221.55 L380.8 221.63 L381.02 225.69 L381.24 232.33 L381.46 227.03 L381.67 218.84 L381.89 211.29 L382.11 211.65 L382.32 214.52 L382.54 214.28 L382.76 215.45 L382.98 224.29 L383.19 230.47 L383.41 222.46 L383.63 216.02 L383.85 224.09 L384.06 241.03 L384.28 240.8 L384.5 229.1 L384.71 218.56 L384.93 208.88 L385.15 208.15 L385.37 210.93 L385.58 207.42 L385.8 200.19 L386.02 201.37 L386.24 208.2 L386.45 202.72 L386.67 193.22 L386.89 203.13 L387.1 211.65 L387.32 205.11 L387.54 198.57 L387.76 195.59 L387.97 197.8 L388.19 190.97 L388.41 188.39 L388.63 201.94 L388.84 212.52 L389.06 199.75 L389.28 191.09 L389.49 198.63 L389.71 206.35 L389.93 204.63 L390.15 188.29 L390.36 180.7 L390.58 189.07 L390.8 198.32 L391.02 202.27 L391.23 198.08 L391.45 185.83 L391.67 184.16 L391.88 192.63 L392.1 199.42 L392.32 196.69 L392.54 188.48 L392.75 187.43 L392.97 197.38 L393.19 207.59 L393.41 210.12 L393.62 202 L393.84 194.71 L394.06 183.6 L394.27 178.59 L394.49 178.65 L394.71 178.24 L394.93 177.36 L395.14 178.92 L395.36 181.25 L395.58 183.12 L395.8 185.68 L396.01 185.03 L396.23 187.23 L396.45 191.43 L396.66 188.33 L396.88 183.6 L397.1 181.57 L397.32 181.87 L397.53 181.18 L397.75 180.65 L397.97 188.36 L398.18 193.42 L398.4 187.07 L398.62 173.21 L398.84 164.91 L399.05 168.8 L399.27 176.12 L399.49 178.56 L399.71 175.02 L399.92 175.53 L400.14 178.71 L400.36 176.6 L400.57 178.68 L400.79 175.66 L401.01 167.64 L401.23 166.83 L401.44 164.12 L401.66 157.53 L401.88 152.7 L402.1 156.64 L402.31 165.43 L402.53 168.12 L402.75 166.66 L402.96 163.27 L403.18 163.16 L403.4 161.32 L403.62 155.87 L403.83 157.38 L404.05 165.58 L404.27 166.66 L404.49 163.54 L404.7 166.61 L404.92 173.39 L405.14 174.44 L405.35 168.89 L405.57 172.23 L405.79 177.01 L406.01 173.33 L406.22 166.48 L406.44 159.64 L406.66 164.42 L406.88 162.42 L407.09 158.19 L407.31 166.18 L407.53 173.78 L407.74 175.64 L407.96 172.64 L408.18 165.24 L408.4 159.74 L408.61 160.18 L408.83 163.57 L409.05 164.97 L409.27 163.9 L409.48 166.42 L409.7 170.9 L409.92 175.69 L410.13 182.71 L410.35 179.14 L410.57 165.25 L410.79 157.85 L411 155.75 L411.22 158.92 L411.44 163.76 L411.66 161.26 L411.87 160.41 L412.09 166.44 L412.31 171.29 L412.52 169.58 L412.74 170.6 L412.96 176.02 L413.18 177.87 L413.39 178.09 L413.61 175.78 L413.83 170.17 L414.04 170.01 L414.26 173.47 L414.48 179.88 L414.7 179.41 L414.91 175.73 L415.13 177.47 L415.35 176.82 L415.57 180.52 L415.78 178.2 L416 170.57 L416.22 168.56 L416.43 172.7 L416.65 175.39 L416.87 176.07 L417.09 176.39 L417.3 173.65 L417.52 175.58 L417.74 174.75 L417.96 171.43 L418.17 172.98 L418.39 167.93 L418.61 164.02 L418.82 171.38 L419.04 180.62 L419.26 185.37 L419.48 187.15 L419.69 193.47 L419.91 197.18 L420.13 196.78 L420.35 194.69 L420.56 189.06 L420.78 185.9 L421 190.05 L421.21 192.79 L421.43 189.14 L421.65 182.63 L421.87 180.64 L422.08 187.1 L422.3 187.49 L422.52 183.46 L422.74 187.83 L422.95 192.82 L423.17 193.7 L423.39 195.76 L423.6 192.26 L423.82 184.54 L424.04 187.36 L424.26 196.39 L424.47 202.43 L424.69 198.52 L424.91 188.13 L425.13 192.25 L425.34 203.45 L425.56 210.56 L425.78 208.27 L425.99 197.61 L426.21 192.76 L426.43 194.94 L426.65 199.03 L426.86 200.62 L427.08 208.53 L427.3 211.79 L427.52 203.69 L427.73 194.09 L427.95 198.16 L428.17 203.85 L428.38 201.48 L428.6 203.81 L428.82 210.06 L429.04 214.99 L429.25 215.18 L429.47 213.02 L429.69 211.23 L429.9 212.3 L430.12 215.41 L430.34 218.72 L430.56 219.89 L430.77 218.9 L430.99 216.45 L431.21 222.41 L431.43 226.86 L431.64 229.87 L431.86 231.34 L432.08 235.55 L432.29 236.54 L432.51 230.09 L432.73 228.24 L432.95 229.39 L433.16 227.07 L433.38 222.75 L433.6 226.58 L433.82 229.83 L434.03 229.43 L434.25 229.41 L434.47 233.64 L434.68 247.99 L434.9 257.05 L435.12 255.53 L435.34 241.04 L435.55 234.23 L435.77 235.95 L435.99 234.69 L436.21 238.56 L436.42 240.24 L436.64 242.87 L436.86 248.29 L437.07 255.28 L437.29 261.7 L437.51 254.7 L437.73 246.05 L437.94 246.46 L438.16 243.05 L438.38 241.49 L438.6 239.75 L438.81 245.12 L439.03 253.02 L439.25 248.97 L439.46 244.33 L439.68 245.63 L439.9 251.79 L440.12 254.79 L440.33 246.08 L440.55 243.23 L440.77 246.28 L440.99 243.98 L441.2 249.41 L441.42 257.21 L441.64 254.44 L441.85 248.25 L442.07 244.6 L442.29 243.96 L442.51 248 L442.72 256.49 L442.94 263.79" fill="none" stroke="#9AB4E6" stroke-width="0.85" stroke-opacity="0.8"/>
<path d="M56 365.7 L56 364.88 L56.5 366.89 L57 367.6 L57 366.25 L57.5 370.54 L58 375 L58 374.45 L58.5 373.02 L59 371 L59 369.88 L59.5 371.32 L60 369.71 L60.5 369.25 L61 369 L61 368.67 L61.5 368.92 L62 369.18 L62.5 371.36 L63 371 L63 371.11 L63.5 370.24 L64 370.49 L64.5 368.51 L65 368.5 L65 368.95 L65.5 366.57 L66 364.7 L66 363.95 L66.5 366.7 L67 367.6 L67 366.37 L67.5 366.16 L68 363.8 L68 363.05 L68.5 363.12 L69 361.9 L69 362.93 L69.5 327.9 L69.5 328.29 L70 343 L70 342.47 L70.5 339.12 L71 335.4 L71 335.05 L71.5 335.22 L72 337 L72 336.07 L72.5 332.48 L73 328 L73 328.36 L73.5 312.8 L73.5 311.35 L74 297.7 L74 297.58 L74.5 302.19 L75 306 L75 306.02 L75.5 303.65 L76 303 L76 303.75 L76.5 302.98 L77 305 L77 305.45 L77.5 307.69 L78 308 L78 306.33 L78.5 308.89 L79 309.68 L79.5 310.36 L80 311 L80 310.33 L80.5 312.09 L81 312.63 L81.5 315.23 L82 316.6 L82 316.95 L82.5 317.71 L83 320 L83 319.2 L83.5 322.56 L84 326 L84 325.92 L84.5 329.78 L85 333.6 L85 333.45 L85.5 335.28 L86 337 L86 335.9 L86.5 333.08 L87 333.6 L87 334.01 L87.5 332.6 L87.5 333.64 L88 341 L88 339.81 L88.5 342.4 L89 345 L89 345.16 L89.5 346.07 L90 345.8 L90 346.23 L90.5 347.2 L91 346.63 L91.5 347.47 L92 347.7 L92 347.95 L92.5 347.28 L93 348.57 L93.5 348.11 L94 347.7 L94 348.39 L94.5 316.62 L95 286.3 L95 287.03 L95.5 301.45 L96 318.4 L96 318.63 L96.5 328.57 L97 343 L97 342.13 L97.5 319.9 L98 295.8 L98 295.37 L98.5 308.96 L99 322 L99 320.65 L99.5 334.63 L100 345 L100 345.39 L100.5 343.9 L101 343 L101 343.25 L101.5 343.68 L102 345.03 L102.5 344.59 L103 345 L103 343.77 L103.5 338.07 L104 331.7 L104 332.63 L104.5 333.89 L105 334.94 L105.5 337.57 L106 339 L106 339.01 L106.5 341.35 L107 341.58 L107.5 344.07 L108 346.8 L108 347.24 L108.5 347.95 L109 349.8 L109.5 352.45 L110 352.4 L110 352.08 L110.5 354.31 L111 356 L111 355.48 L111.5 354.43 L112 354 L112 353.86 L112.5 355.78 L113 360 L113 358.27 L113.5 357.99 L114 354 L114 353.84 L114.5 355.3 L115 355.02 L115.5 355.54 L116 356 L116 356.44 L116.5 355.48 L117 354 L117 352.98 L117.5 358.86 L118 362 L118 361.16 L118.5 363 L119 365.77 L119.5 364.76 L120 365.7 L120 366.92 L120.5 366.67 L121 368.75 L121.5 369.64 L122 371 L122 371.25 L122.5 370.75 L123 371.2 L123.5 372.68 L124 373 L124 371.7 L124.5 372.76 L125 374.42 L125.5 373.94 L126 375 L126 374.23 L126.5 374.56 L127 376.04 L127.5 376.14 L128 377 L128 377.04 L128.5 376.27 L129 377.37 L129.5 375.08 L130 375 L130 373.39 L130.5 375.76 L131 376.42 L131.5 377.29 L132 378 L132 376.67 L132.5 379.26 L133 378.8 L133.5 379.24 L134 379.8 L134 378.49 L134.5 379.64 L135 378.9 L135 378.77 L135.5 379.4 L136 377.55 L136.5 376.43 L137 377 L137 377.02 L137.5 376.91 L138 378.65 L138.5 378.18 L139 379.8 L139 379.62 L139.5 379.55 L140 379.7 L140.5 379.32 L141 379.8 L141 379.09 L141.5 379.45 L142 378.82 L142.5 379.17 L143 378.9 L143 378.61 L143.5 376.12 L144 377 L144 376.87 L144.5 375.15 L145 371.3 L145 371.46 L145.5 369.84 L146 367.6 L146 367.88 L146.5 365.26 L147 363.8 L147 362.69 L147.5 361.45 L148 358 L148 358.74 L148.5 355.56 L149 352.4 L149 352.65 L149.5 351.73 L150 350.6 L150 350.5 L150.5 350.26 L151 349.58 L151.5 349.35 L152 348.7 L152 347.89 L152.5 347.18 L153 346.8 L153 347.16 L153.5 346.91 L154 347.7 L154 345.75 L154.5 347.04 L155 344.51 L155.5 347.07 L156 345 L156 345.48 L156.5 344.69 L157 342.91 L157.5 341.8 L158 342 L158 341.76 L158.5 340.94 L159 340 L159 339.33 L159.5 341.55 L160 343 L160 343.45 L160.5 344.79 L161 345.8 L161 344.93 L161.5 345.01 L162 347.7 L162 347.63 L162.5 332.47 L163 318.4 L163 318.67 L163.5 315.84 L164 310.9 L164 312.09 L164.5 312.95 L165 314.7 L165 315.48 L165.5 324.39 L166 331.7 L166 331.66 L166.5 338.49 L167 345 L167 345.58 L167.5 345.8 L168 346.8 L168 346.35 L168.5 346.38 L169 347.19 L169.5 346.93 L170 347.7 L170 348.24 L170.5 347.15 L171 348.3 L171.5 347.88 L172 346.8 L172 345.78 L172.5 347.11 L173 345.53 L173.5 346.43 L174 345 L174 345.33 L174.5 345.8 L175 346.8 L175 347.25 L175.5 344.41 L176 343 L176 343.19 L176.5 340.38 L177 337.3 L177 337.13 L177.5 328.88 L178 320 L178 319.18 L178.5 292 L178.5 292.37 L179 293.9 L179 292.92 L179.5 303.77 L180 312.8 L180 313.1 L180.5 339 L180.5 339.48 L181 341 L181 340.52 L181.5 341.41 L182 337.3 L182 337.07 L182.5 338.21 L183 339 L183 338.37 L183.5 343.04 L184 345 L184 344.59 L184.5 335.2 L185 324 L185 323.23 L185.5 309.14 L186 293.9 L186 293.57 L186.5 296.46 L187 297.7 L187 297.43 L187.5 301.65 L188 307 L188 307.3 L188.5 311.75 L189 318.4 L189 317.63 L189.5 326.54 L190 333.6 L190 332.13 L190.5 339.83 L191 345 L191 344.65 L191.5 342.26 L192 341 L192 341.14 L192.5 340.51 L193 338.67 L193.5 338.05 L194 337.3 L194 337.87 L194.5 337.36 L195 336.27 L195.5 335.25 L196 335.4 L196 334.65 L196.5 335.39 L197 336.83 L197.5 337.23 L198 337.3 L198 337.5 L198.5 339.25 L199 338.89 L199.5 339.76 L200 341 L200 340.68 L200.5 347.21 L201 350.6 L201 349.01 L201.5 357.39 L202 363.8 L202 364.11 L202.5 367.57 L203 371.3 L203 373.04 L203.5 369.36 L204 365.7 L204 366.26 L204.5 368.65 L205 373 L205 373.35 L205.5 375.65 L206 378.9 L206 378.91 L206.5 378.08 L207 377 L207 376.61 L207.5 376.46 L208 375 L208 376.21 L208.5 376.74 L209 377.09 L209.5 376.45 L210 378.9 L210 379.7 L210.5 379.92 L211 379.19 L211.5 379.2 L212 379.8 L212 380.28 L212.5 378.98 L213 379.99 L213.5 378.37 L214 379 L214 378.29 L214.5 378.5 L215 378 L215 376.89 L215.5 378.21 L216 378.84 L216.5 377.67 L217 378.9 L217 379.59 L217.5 377.99 L218 378.35 L218.5 377.63 L219 377 L219 376.65 L219.5 375.6 L220 375 L220 373.71 L220.5 376.87 L221 379.8 L221 379.21 L221.5 380.13 L222 378 L222 378.76 L222.5 372.66 L223 369.4 L223 369.99 L223.5 367.71 L224 365.7 L224 365.41 L224.5 364.14 L225 361.9 L225 362.49 L225.5 359.52 L226 358 L226 357.79 L226.5 357.12 L227 356 L227 355.26 L227.5 353.43 L228 350.6 L228 350.53 L228.5 342.49 L229 335.4 L229 334.76 L229.5 340.42 L230 345 L230 345.65 L230.5 341.39 L231 337.3 L231 336.66 L231.5 340.71 L232 343 L232 343.12 L232.5 339.64 L233 335.4 L233 336.27 L233.5 333.82 L234 333.6 L234 333.49 L234.5 334.05 L235 335.4 L235 334.74 L235.5 340.7 L236 343 L236 343.7 L236.5 325.63 L237 310.9 L237 311.22 L237.5 309.53 L238 309 L238 309.86 L238.5 312.86 L239 316.6 L239 316.47 L239.5 324.25 L240 331.7 L240 331.99 L240.5 336.37 L241 341 L241 340.83 L241.5 316.4 L242 292 L242 292.38 L242.5 295.85 L243 301.4 L243 301.4 L243.5 311.71 L244 322.2 L244 321.84 L244.5 333.15 L245 343 L245 342.03 L245.5 344.63 L246 346.8 L246 346.16 L246.5 346.31 L247 345 L247 344.65 L247.5 345.94 L248 346.8 L248 347.09 L248.5 346.31 L249 348.54 L249.5 348.34 L250 349.6 L250 349.41 L250.5 350.02 L251 350.6 L251 351.2 L251.5 333.65 L252 315.6 L252 316.92 L252.5 317.13 L253 318.4 L253 318.04 L253.5 328.32 L254 339 L254 339.49 L254.5 341.2 L255 341 L255 341.25 L255.5 341.57 L256 343 L256 343.2 L256.5 343.89 L257 344.42 L257.5 344.54 L258 345.8 L258 343.9 L258.5 345.2 L259 346.19 L259.5 345.36 L260 345 L260 343.35 L260.5 341.2 L261 336.02 L261.5 335.09 L262 329.8 L262 329.94 L262.5 330.8 L263 333.6 L263 334.2 L263.5 336.72 L264 341 L264 341.42 L264.5 343.92 L265 346.8 L265 345.92 L265.5 345.85 L266 342.9 L266.5 343.45 L267 341 L267 341.05 L267.5 339.23 L268 339 L268 337.65 L268.5 342.21 L269 343 L269 344.08 L269.5 344.91 L270 348.7 L270 349.93 L270.5 347.87 L271 346.8 L271 346.63 L271.5 349.54 L272 352.4 L272 352.2 L272.5 350.67 L273 346.8 L273 346.91 L273.5 349.02 L274 354 L274 355.56 L274.5 352.01 L275 348.7 L275 347.89 L275.5 353.08 L276 358 L276 357.32 L276.5 355.23 L277 352.4 L277 352.69 L277.5 358.28 L278 363.8 L278 363.35 L278.5 365.1 L279 367.6 L279 368.23 L279.5 369.37 L280 371.3 L280 372.98 L280.5 371.37 L281 373.24 L281.5 373.36 L282 374 L282 373.43 L282.5 374.77 L283 373.59 L283.5 372.58 L284 373 L284 372.76 L284.5 374.26 L285 373.08 L285.5 375.53 L286 375 L286 375.51 L286.5 375.29 L287 377.01 L287.5 377.81 L288 377 L288 377.45 L288.5 376.63 L289 377.38 L289.5 376.62 L290 375 L290 374.31 L290.5 375.6 L291 376.34 L291.5 376.94 L292 378 L292 376.88 L292.5 378.18 L293 377.06 L293.5 376.57 L294 376 L294 377.06 L294.5 375.83 L295 376.46 L295.5 376.96 L296 377 L296 376.68 L296.5 376.42 L297 376.57 L297.5 375.49 L298 375 L298 376 L298.5 372.59 L299 371.3 L299 371.45 L299.5 371.08 L300 373 L300 372.91 L300.5 370.67 L301 369.4 L301 370.42 L301.5 368.11 L302 365.7 L302 366.08 L302.5 365.19 L303 361.9 L303 362.99 L303.5 363.39 L304 363.8 L304 363.28 L304.5 360.81 L305 360 L305 359.98 L305.5 358.73 L306 358 L306 357.51 L306.5 355.78 L307 354 L307 352.75 L307.5 357.12 L308 358 L308 357.14 L308.5 354.69 L309 352.4 L309 352.83 L309.5 351.97 L310 354 L310 354.69 L310.5 351.11 L311 346.8 L311 346.56 L311.5 347.89 L312 350.6 L312 350.24 L312.5 347.3 L313 346.8 L313 347.85 L313.5 349.64 L314 352.4 L314 351.84 L314.5 348.01 L315 345 L315 345.43 L315.5 343.14 L316 339 L316 338.04 L316.5 340.57 L317 343 L317 341.67 L317.5 344.51 L318 345 L318 345.12 L318.5 346.21 L319 343.91 L319.5 343.17 L320 343 L320 342.46 L320.5 343.15 L321 340.77 L321.5 342.07 L322 341 L322 341.19 L322.5 341.12 L323 341.32 L323.5 343.3 L324 343 L324 344.41 L324.5 342.41 L325 342.9 L325.5 343.57 L326 342 L326 341.53 L326.5 341.56 L327 340.57 L327.5 341.14 L328 341 L328 340.94 L328.5 340.43 L329 339.94 L329.5 339.05 L330 340 L330 338.98 L330.5 323.76 L331 309 L331 309.49 L331.5 305.76 L332 303.3 L332 302.65 L332.5 298.15 L333 292 L333 292.43 L333.5 297.93 L334 305 L334 304.52 L334.5 317 L335 328 L335 328.28 L335.5 329.21 L336 331.7 L336 331.88 L336.5 333.53 L337 335.4 L337 336.25 L337.5 335.69 L338 337.3 L338 337.97 L338.5 338.05 L339 337.38 L339.5 339.38 L340 339 L340 339.69 L340.5 338.49 L341 341.51 L341.5 339.63 L342 341 L342 340.3 L342.5 341.25 L343 342.59 L343.5 342.94 L344 343 L344 342.93 L344.5 344.54 L345 344.31 L345.5 345.57 L346 345 L346 347.15 L346.5 346.07 L347 344.88 L347.5 347.43 L348 348.7 L348 347.88 L348.5 347.82 L349 346.8 L349 346.87 L349.5 347.76 L350 350.6 L350 349.72 L350.5 349.45 L351 348.55 L351.5 345.75 L352 346.8 L352 347.55 L352.5 347.77 L353 348.69 L353.5 349.88 L354 350.6 L354 349.81 L354.5 351.41 L355 353.1 L355.5 353.98 L356 354 L356 354.36 L356.5 355.28 L357 356.37 L357.5 359.52 L358 360 L358 360.41 L358.5 361.57 L359 362.12 L359.5 365.03 L360 367.6 L360 366.1 L360.5 369.49 L361 369.6 L361.5 369.8 L362 371.3 L362 371.08 L362.5 373.75 L363 373.1 L363.5 371.53 L364 373 L364 372.9 L364.5 372.54 L365 372.65 L365.5 374.64 L366 375 L366 376.89 L366.5 376.72 L367 376.03 L367.5 376.21 L368 377 L368 377.16 L368.5 377.56 L369 375.36 L369.5 374.78 L370 376 L370 377.48 L370.5 376.07 L371 376.96 L371.5 375.74 L372 375.4 L372 376.56 L372.5 374.49 L373 374.94 L373.5 375.35 L374 373.7 L374 374.5 L374.5 373.56 L375 374.85 L375.5 373.85 L376 374.6 L376 373.48 L376.5 374.34 L377 374.35 L377.5 373.25 L378 371.9 L378 370.91 L378.5 371.24 L379 369.2 L379 369.74 L379.5 367.09 L380 365.7 L380 363.73 L380.5 364.73 L381 362.85 L381.5 360.77 L382 358.6 L382 357.23 L382.5 356.07 L383 356.7 L383.5 355.19 L384 353.2 L384 353.59 L384.5 352.13 L385 351.76 L385.5 350.14 L386 349.7 L386 349.45 L386.5 348.11 L387 348.1 L387.5 346.67 L388 346.1 L388 346.86 L388.5 345.8 L389 343.7 L389.5 344.94 L390 342.6 L390 341.71 L390.5 342.51 L391 341.7 L391 342.56 L391.5 344.02 L392 344.3 L392 342.54 L392.5 342.45 L393 339 L393 339.97 L393.5 341.05 L394 340.8 L394 339.03 L394.5 342.01 L395 344.3 L395 344.22 L395.5 343.09 L396 342.6 L396 343.67 L396.5 341.16 L397 340.8 L397 341.78 L397.5 342.55 L398 343.4 L398 342.24 L398.5 338.61 L399 335.4 L399 335.03 L399.5 338.18 L400 340.8 L400 341.59 L400.5 340.88 L401 341.98 L401.5 340.22 L402 341.7 L402 339.26 L402.5 341.66 L403 342.52 L403.5 342.09 L404 342.6 L404 341.79 L404.5 342.04 L405 340.8 L405 342.35 L405.5 338.92 L406 337.2 L406 336.62 L406.5 321.2 L406.5 320.52 L407 292.8 L407 294.37 L407.5 297.22 L408 301.7 L408 302.19 L408.5 291.13 L409 278.6 L409 279.46 L409.5 283.16 L410 289.2 L410 289.96 L410.5 288.13 L411 285.7 L411 286.09 L411.5 295.36 L412 303.4 L412 302.95 L412.5 308.64 L413 314 L413 313.58 L413.5 306.61 L414 298 L414 297.48 L414.5 307.26 L415 315.9 L415 315.02 L415.5 314.85 L416 314 L416 313.71 L416.5 319.31 L417 324.8 L417 324.91 L417.5 329.1 L418 333.7 L418 333.52 L418.5 331.59 L419 333.68 L419.5 331.85 L420 331.9 L420 331.7 L420.5 330.34 L421 330.1 L421 330.9 L421.5 327.63 L422 326.6 L422 327 L422.5 308.8 L422.5 309.74 L423 314 L423 315.32 L423.5 319.45 L424 323 L424 323.5 L424.5 319.39 L425 317.7 L425 318.73 L425.5 320.4 L426 321.2 L426 321.87 L426.5 325.39 L427 328.3 L427 328.36 L427.5 329.69 L428 331.9 L428 332.77 L428.5 332.02 L429 330.1 L429 329.27 L429.5 333.48 L430 335.4 L430 335.6 L430.5 337.91 L431 339 L431 339.23 L431.5 338.99 L432 337.2 L432 338.03 L432.5 339.72 L433 340.8 L433 339.71 L433.5 342.37 L434 342.6 L434 342.65 L434.5 343.46 L435 346.1 L435 346.67 L435.5 346.82 L436 349.7 L436 350.42 L436.5 353.71 L437 355 L437 354.61 L437.5 358.4 L438 360.3 L438 360.67 L438.5 359.98 L439 358.6 L439 357.54 L439.5 360.85 L440 362.1 L440 362.22 L440.5 364.5 L441 365.7 L441 365.72 L441.5 366.14 L442 364.8 L442 365.04 L442.5 367.56 L443 369.2 L443 370.31 L443.5 368.51 L444 367.5 L444 368.31 L444.5 368.95 L445 370 L445 370.43 L445.5 369.1 L446 369 L446 369.64 L446.5 370.99 L447 371 L447 370.96" fill="none" stroke="#F2A066" stroke-width="1.0" stroke-linejoin="round"/>
<path d="M56 525.76 L56.22 529.78 L56.43 526.4 L56.65 525.72 L56.87 524.98 L57.09 525.73 L57.3 524.67 L57.52 523.98 L57.74 525.05 L57.96 524.69 L58.17 527.45 L58.39 523.91 L58.61 524.74 L58.82 523.72 L59.04 523.19 L59.26 527.39 L59.48 522.39 L59.69 526.71 L59.91 523.1 L60.13 525.29 L60.35 529.3 L60.56 521.69 L60.78 521.97 L61 527.3 L61.21 525.15 L61.43 523.78 L61.65 524.04 L61.87 522.87 L62.08 524.7 L62.3 528.28 L62.52 524.1 L62.74 524.71 L62.95 528.78 L63.17 528.98 L63.39 523.74 L63.6 523.99 L63.82 522.57 L64.04 521.94 L64.26 522.32 L64.47 521.05 L64.69 518.73 L64.91 518.52 L65.12 520.48 L65.34 523.82 L65.56 526.66 L65.78 522.55 L65.99 522.95 L66.21 525.24 L66.43 525.45 L66.65 523.02 L66.86 523.57 L67.08 528.53 L67.3 522.69 L67.51 519.64 L67.73 515.47 L67.95 522.75 L68.17 522.95 L68.38 528.38 L68.6 522.85 L68.82 525.27 L69.04 527.13 L69.25 527.87 L69.47 519.2 L69.69 526.68 L69.9 522.79 L70.12 521.29 L70.34 519.67 L70.56 518.56 L70.77 516.14 L70.99 510.36 L71.21 519.36 L71.43 518.58 L71.64 513.77 L71.86 518.34 L72.08 527.74 L72.29 520.68 L72.51 516.08 L72.73 525.92 L72.95 513.2 L73.16 512.91 L73.38 510.86 L73.6 512.63 L73.82 518.68 L74.03 516.44 L74.25 507.04 L74.47 509.8 L74.68 510.77 L74.9 486.9 L75.12 507.91 L75.34 500.08 L75.55 499.62 L75.77 505.85 L75.99 497.55 L76.21 507.99 L76.42 504.21 L76.64 494.28 L76.86 496.36 L77.07 483 L77.29 502.44 L77.51 503.71 L77.73 499.82 L77.94 495.39 L78.16 513.58 L78.38 510.93 L78.6 503.84 L78.81 508.65 L79.03 502.8 L79.25 497.41 L79.46 502.65 L79.68 515.13 L79.9 460.4 L80.12 508.04 L80.33 495.26 L80.55 504.65 L80.77 514.35 L80.98 505.11 L81.2 509.5 L81.42 512.18 L81.64 505.58 L81.85 513.56 L82.07 496.29 L82.29 492.93 L82.51 487.44 L82.72 512.92 L82.94 456.7 L83.16 490.27 L83.37 504.85 L83.59 480.67 L83.81 479.14 L84.03 465.05 L84.24 477.82 L84.46 474.87 L84.68 485.44 L84.9 411.3 L85.11 458.7 L85.33 467.1 L85.55 471.95 L85.76 469.41 L85.98 495.03 L86.2 493.14 L86.42 478.3 L86.63 442.55 L86.85 478.18 L87.07 408.5 L87.29 477.08 L87.5 477.32 L87.72 459.46 L87.94 450.62 L88.15 468.95 L88.37 515.06 L88.59 478.42 L88.81 476.77 L89.02 497.16 L89.24 492.5 L89.46 494.95 L89.68 451.41 L89.89 519 L90.11 516.77 L90.33 486.52 L90.54 472.36 L90.76 481.41 L90.98 416 L91.2 451.3 L91.41 477.38 L91.63 478.76 L91.85 489.33 L92.07 479.38 L92.28 464.74 L92.5 447.66 L92.72 443.74 L92.93 479.63 L93.15 454.32 L93.37 472.16 L93.59 507.37 L93.8 476.47 L94.02 443 L94.24 476.62 L94.46 487.2 L94.67 476.84 L94.89 473.16 L95.11 498.8 L95.32 473.1 L95.54 445.53 L95.76 469.19 L95.98 481.11 L96.19 460.09 L96.41 490.37 L96.63 504.02 L96.84 514.1 L97.06 428 L97.28 482.54 L97.5 436.79 L97.71 465.2 L97.93 481.86 L98.15 487.2 L98.37 481.5 L98.58 478.65 L98.8 467.96 L99.02 473.54 L99.23 487.38 L99.45 495.56 L99.67 500.13 L99.89 509.73 L100.1 441.6 L100.32 447.99 L100.54 521 L100.76 478.89 L100.97 477.64 L101.19 502.45 L101.41 499.38 L101.62 484.65 L101.84 488.47 L102.06 456.7 L102.28 482.78 L102.49 482.37 L102.71 498.64 L102.93 498.06 L103.15 511.36 L103.36 495.38 L103.58 494.05 L103.8 477.98 L104.01 471.35 L104.23 476.43 L104.45 460.44 L104.67 484.79 L104.88 499.2 L105.1 486.26 L105.32 484.08 L105.54 498.62 L105.75 487.94 L105.97 504.91 L106.19 511.1 L106.4 503.51 L106.62 500.76 L106.84 493.19 L107.06 488.45 L107.27 487.64 L107.49 487.46 L107.71 494.09 L107.93 456.7 L108.14 479.56 L108.36 488.94 L108.58 476.53 L108.79 480.83 L109.01 478.66 L109.23 489.31 L109.45 500.96 L109.66 509.59 L109.88 491.64 L110.1 481.3 L110.32 487.52 L110.53 497.35 L110.75 501.75 L110.97 478.16 L111.18 487.79 L111.4 481.9 L111.62 495.77 L111.84 499.61 L112.05 501.58 L112.27 506.76 L112.49 499.2 L112.7 494.83 L112.92 501.33 L113.14 512.93 L113.36 499.67 L113.57 499.37 L113.79 498.12 L114.01 510.48 L114.23 501.63 L114.44 500.84 L114.66 502.32 L114.88 502.23 L115.09 528 L115.31 522.04 L115.53 521.31 L115.75 526.82 L115.96 525.06 L116.18 508.29 L116.4 514.91 L116.62 526.73 L116.83 526.71 L117.05 507.29 L117.27 505.76 L117.48 514.5 L117.7 513.12 L117.92 510.9 L118.14 516.16 L118.35 511.13 L118.57 508.04 L118.79 516.45 L119.01 519.5 L119.22 522.35 L119.44 523.74 L119.66 521.59 L119.87 520.33 L120.09 516.71 L120.31 512.42 L120.53 519.95 L120.74 524.74 L120.96 525.44 L121.18 527.16 L121.4 522.45 L121.61 515.46 L121.83 524.34 L122.05 525.27 L122.26 518.38 L122.48 516.71 L122.7 523.24 L122.92 524.48 L123.13 520.43 L123.35 521.83 L123.57 520.88 L123.79 519.49 L124 520.06 L124.22 523.72 L124.44 523.29 L124.65 521.8 L124.87 521.03 L125.09 527.28 L125.31 523.57 L125.52 523.85 L125.74 522.87 L125.96 524.66 L126.18 522.34 L126.39 524.72 L126.61 525.09 L126.83 526.57 L127.04 523.51 L127.26 523.9 L127.48 525.52 L127.7 529.78 L127.91 523.92 L128.13 525.68 L128.35 525.08 L128.56 526.43 L128.78 527.36 L129 526.62 L129.22 526.75 L129.43 526.65 L129.65 525.58 L129.87 525.53 L130.09 523.14 L130.3 525.35 L130.52 525.29 L130.74 526.65 L130.95 528.07 L131.17 527.92 L131.39 528.19 L131.61 528.24 L131.82 523.82 L132.04 527.58 L132.26 527.73 L132.48 527.28 L132.69 525.4 L132.91 528.43 L133.13 529.52 L133.34 529.31 L133.56 528.45 L133.78 528.98 L134 529.57 L134.21 529.93 L134.43 529.81 L134.65 529 L134.87 528.98 L135.08 529.07 L135.3 529.04 L135.52 528.51 L135.73 529.21 L135.95 527.66 L136.17 527.26 L136.39 529.02 L136.6 527.98 L136.82 527.53 L137.04 525.04 L137.26 529.14 L137.47 529.03 L137.69 528.94 L137.91 529.18 L138.12 529.04 L138.34 528.56 L138.56 529.95 L138.78 529.03 L138.99 529.61 L139.21 529.95 L139.43 528.6 L139.65 528.73 L139.86 527.88 L140.08 529.36 L140.3 528.42 L140.51 527.14 L140.73 529.63 L140.95 529.46 L141.17 528.13 L141.38 529.5 L141.6 529.43 L141.82 529.95 L142.04 529.95 L142.25 528.55 L142.47 528.01 L142.69 527.15 L142.9 528.96 L143.12 529.06 L143.34 529.32 L143.56 528.9 L143.77 524 L143.99 526.65 L144.21 529.76 L144.42 529.7 L144.64 529 L144.86 528.45 L145.08 528.14 L145.29 526.78 L145.51 519.84 L145.73 526.67 L145.95 523.51 L146.16 522.62 L146.38 513.98 L146.6 522.89 L146.81 524.39 L147.03 510.11 L147.25 524.05 L147.47 521.32 L147.68 510.18 L147.9 500.87 L148.12 520.56 L148.34 518.41 L148.55 517.69 L148.77 511.03 L148.99 481 L149.2 515.27 L149.42 504.54 L149.64 513.03 L149.86 489.27 L150.07 492.85 L150.29 495.74 L150.51 512.46 L150.73 495.07 L150.94 499.12 L151.16 509.45 L151.38 511 L151.59 519.07 L151.81 518.65 L152.03 512.15 L152.25 506.58 L152.46 496.61 L152.68 498.32 L152.9 500.98 L153.12 500.61 L153.33 496.49 L153.55 497.07 L153.77 498.34 L153.98 506.65 L154.2 502.54 L154.42 498.08 L154.64 497.59 L154.85 497.71 L155.07 495.94 L155.29 495.16 L155.51 492.24 L155.72 498.21 L155.94 503 L156.16 497.86 L156.37 497.09 L156.59 498.25 L156.81 505.75 L157.03 493.3 L157.24 484.78 L157.46 485.53 L157.68 493.97 L157.9 498.19 L158.11 495.77 L158.33 494.21 L158.55 487.87 L158.76 475.35 L158.98 476.27 L159.2 471.52 L159.42 477.25 L159.63 471.35 L159.85 482.97 L160.07 464.2 L160.28 466.41 L160.5 484.97 L160.72 485.19 L160.94 472.45 L161.15 481.89 L161.37 484.15 L161.59 481.1 L161.81 484 L162.02 482.22 L162.24 484.62 L162.46 480.57 L162.67 479.06 L162.89 480.79 L163.11 481.64 L163.33 478.75 L163.54 475.56 L163.76 472.99 L163.98 474.02 L164.2 473.6 L164.41 476.21 L164.63 475.96 L164.85 474.98 L165.06 474.94 L165.28 476.2 L165.5 482.5 L165.72 481.03 L165.93 473.52 L166.15 475.68 L166.37 473.45 L166.59 473.79 L166.8 472.61 L167.02 468.23 L167.24 462.67 L167.45 463.69 L167.67 474.73 L167.89 482.68 L168.11 472.58 L168.32 476.22 L168.54 474.32 L168.76 475.01 L168.98 473.21 L169.19 474.37 L169.41 474.32 L169.63 473.81 L169.84 474.94 L170.06 474.98 L170.28 475.04 L170.5 476.65 L170.71 476.72 L170.93 478.3 L171.15 479.17 L171.37 476.98 L171.58 476.36 L171.8 477.3 L172.02 478.51 L172.23 500.47 L172.45 500.8 L172.67 479.42 L172.89 479.27 L173.1 482.91 L173.32 484.77 L173.54 476.64 L173.76 475.96 L173.97 503.13 L174.19 494.05 L174.41 460.27 L174.62 457.84 L174.84 465.38 L175.06 451 L175.28 488.47 L175.49 476.77 L175.71 457.01 L175.93 485.43 L176.14 491.29 L176.36 486.18 L176.58 481.89 L176.8 490.55 L177.01 485.62 L177.23 472.63 L177.45 484.14 L177.67 474.56 L177.88 496.14 L178.1 466 L178.32 480.72 L178.53 491.65 L178.75 498.5 L178.97 476.48 L179.19 489.99 L179.4 505.11 L179.62 484.7 L179.84 489.3 L180.06 486.4 L180.27 490.14 L180.49 486.27 L180.71 486.55 L180.92 490.98 L181.14 494.99 L181.36 498.33 L181.58 500.93 L181.79 508.55 L182.01 505.18 L182.23 501.49 L182.45 492.99 L182.66 498.46 L182.88 514.54 L183.1 514.71 L183.31 510.64 L183.53 507.34 L183.75 507.25 L183.97 499.78 L184.18 515.56 L184.4 499.94 L184.62 501.44 L184.84 516.05 L185.05 498.51 L185.27 500.99 L185.49 499.18 L185.7 500.67 L185.92 502.25 L186.14 502.56 L186.36 503.35 L186.57 502.59 L186.79 503.47 L187.01 502.21 L187.23 503.44 L187.44 502.77 L187.66 506.13 L187.88 504.17 L188.09 508.49 L188.31 506.37 L188.53 507.07 L188.75 517.34 L188.96 508.03 L189.18 504.87 L189.4 508.11 L189.62 505.54 L189.83 508.98 L190.05 508.79 L190.27 506.89 L190.48 510.37 L190.7 511.34 L190.92 527.84 L191.14 513.54 L191.35 528.01 L191.57 526.83 L191.79 512.07 L192 511.97 L192.22 522.18 L192.44 514.71 L192.66 514.84 L192.87 514.06 L193.09 511.7 L193.31 513.83 L193.53 512.4 L193.74 511.84 L193.96 516.51 L194.18 529.13 L194.39 529.21 L194.61 519.13 L194.83 519.26 L195.05 530 L195.26 527.82 L195.48 521.43 L195.7 518.71 L195.92 519.64 L196.13 528.32 L196.35 529.54 L196.57 519.95 L196.78 517.08 L197 522.86 L197.22 522.18 L197.44 523.24 L197.65 527.33 L197.87 523.01 L198.09 519.5 L198.31 519.9 L198.52 522.65 L198.74 521.88 L198.96 524.23 L199.17 522.21 L199.39 523.52 L199.61 522.33 L199.83 524.53 L200.04 525.41 L200.26 527.39 L200.48 529.01 L200.7 526.27 L200.91 525.77 L201.13 529.83 L201.35 528 L201.56 527.99 L201.78 528.44 L202 529.86 L202.22 529.29 L202.43 528.67 L202.65 528.32 L202.87 526.54 L203.09 526.74 L203.3 527.73 L203.52 528.12 L203.74 528.26 L203.95 528.52 L204.17 528.47 L204.39 527.7 L204.61 526.54 L204.82 529.17 L205.04 529.22 L205.26 528.21 L205.48 529.18 L205.69 529.24 L205.91 528.86 L206.13 526.8 L206.34 526.8 L206.56 528.51 L206.78 529.74 L207 528.41 L207.21 528.27 L207.43 527.36 L207.65 528.43 L207.86 529.12 L208.08 526.82 L208.3 526.82 L208.52 529.4 L208.73 529.41 L208.95 528.89 L209.17 529.72 L209.39 529.65 L209.6 526.83 L209.82 529.04 L210.04 529.78 L210.25 528.83 L210.47 529.25 L210.69 529.82 L210.91 529.21 L211.12 527.24 L211.34 527.69 L211.56 527.31 L211.78 529.68 L211.99 527.15 L212.21 529.86 L212.43 527.12 L212.64 528.97 L212.86 526.96 L213.08 529.27 L213.3 530.21 L213.51 530.37 L213.73 530.37 L213.95 530.01 L214.17 530.01 L214.38 530.06 L214.6 530.11 L214.82 529.88 L215.03 530.26 L215.25 530.16 L215.47 530.33 L215.69 530.18 L215.9 530.12 L216.12 529.16 L216.34 529.02 L216.56 528.14 L216.77 529.39 L216.99 529.92 L217.21 530.11 L217.42 529.57 L217.64 530.48 L217.86 530.15 L218.08 530.37 L218.29 530.17 L218.51 524.11 L218.73 528.11 L218.95 530.22 L219.16 520.16 L219.38 530.01 L219.6 525.53 L219.81 527.17 L220.03 529.06 L220.25 522.06 L220.47 528.9 L220.68 526.97 L220.9 527.21 L221.12 530.31 L221.34 530.48 L221.55 530.27 L221.77 530.12 L221.99 529.76 L222.2 527.63 L222.42 529.27 L222.64 529.83 L222.86 528.73 L223.07 528.7 L223.29 527.78 L223.51 529.85 L223.72 521.7 L223.94 526.57 L224.16 526.92 L224.38 525.37 L224.59 517.54 L224.81 516.01 L225.03 521.64 L225.25 522.35 L225.46 513.68 L225.68 514.51 L225.9 522.89 L226.11 524.29 L226.33 517.32 L226.55 513.47 L226.77 516.72 L226.98 526.03 L227.2 521.36 L227.42 517.65 L227.64 523.03 L227.85 524.42 L228.07 521.53 L228.29 500.18 L228.5 509.32 L228.72 507.68 L228.94 486.9 L229.16 492.5 L229.37 501.01 L229.59 496.98 L229.81 510.71 L230.03 508.17 L230.24 490.89 L230.46 491.23 L230.68 502.11 L230.89 511.21 L231.11 510.53 L231.33 502.53 L231.55 492.98 L231.76 496.1 L231.98 499.6 L232.2 501.05 L232.42 495.41 L232.63 500.07 L232.85 503.52 L233.07 515.51 L233.28 510.77 L233.5 503.25 L233.72 502.72 L233.94 502.41 L234.15 502.54 L234.37 500.63 L234.59 501.8 L234.81 508.18 L235.02 507.11 L235.24 504.02 L235.46 509.85 L235.67 499.8 L235.89 492.05 L236.11 489.49 L236.33 491.39 L236.54 495.14 L236.76 499.41 L236.98 504.45 L237.2 490.83 L237.41 488.5 L237.63 500.73 L237.85 506.48 L238.06 489.44 L238.28 494.65 L238.5 511.13 L238.72 494.43 L238.93 483.79 L239.15 466.94 L239.37 501.79 L239.58 498.84 L239.8 485.43 L240.02 454.8 L240.24 458.83 L240.45 519 L240.67 482.27 L240.89 494.38 L241.11 466.6 L241.32 501.35 L241.54 486.62 L241.76 495.57 L241.97 434 L242.19 482.51 L242.41 500.48 L242.63 477.1 L242.84 443.1 L243.06 466.84 L243.28 476.75 L243.5 445.94 L243.71 447.16 L243.93 470.66 L244.15 462.54 L244.36 474.9 L244.58 454.17 L244.8 453.23 L245.02 462.69 L245.23 490.75 L245.45 464.84 L245.67 469.93 L245.89 471.65 L246.1 461.94 L246.32 486.08 L246.54 477.37 L246.75 473.1 L246.97 437.8 L247.19 439.94 L247.41 439.19 L247.62 457.85 L247.84 470.58 L248.06 434 L248.28 499.52 L248.49 472.89 L248.71 470.36 L248.93 482.44 L249.14 496.97 L249.36 469.37 L249.58 478.63 L249.8 472.87 L250.01 456.7 L250.23 481.93 L250.45 469.12 L250.67 468.14 L250.88 481 L251.1 476.93 L251.32 476.19 L251.53 477.42 L251.75 481.86 L251.97 478.32 L252.19 488.62 L252.4 490.25 L252.62 508.26 L252.84 508.29 L253.06 495.53 L253.27 480.52 L253.49 480.77 L253.71 481.13 L253.92 511.1 L254.14 486.76 L254.36 492.82 L254.58 501.35 L254.79 461.66 L255.01 515 L255.23 470.55 L255.44 456.68 L255.66 449.15 L255.88 473.85 L256.1 443.4 L256.31 497.2 L256.53 484.93 L256.75 479.65 L256.97 457.33 L257.18 488.45 L257.4 486.94 L257.62 472.38 L257.83 483.4 L258.05 466 L258.27 477.52 L258.49 473.21 L258.7 475.6 L258.92 476.73 L259.14 486.76 L259.36 488.84 L259.57 486.8 L259.79 483.12 L260.01 483.71 L260.22 506.62 L260.44 475.84 L260.66 495.36 L260.88 490.78 L261.09 484.79 L261.31 479.85 L261.53 479.46 L261.75 465.19 L261.96 460.4 L262.18 476.31 L262.4 460.94 L262.61 495.02 L262.83 493.33 L263.05 456.44 L263.27 455.2 L263.48 486.33 L263.7 489.32 L263.92 488.87 L264.14 494.43 L264.35 502.25 L264.57 510.02 L264.79 518.88 L265 441.6 L265.22 495.11 L265.44 521 L265.66 474.85 L265.87 468.61 L266.09 516.39 L266.31 518.92 L266.53 499.14 L266.74 468.9 L266.96 485.18 L267.18 490.12 L267.39 494.48 L267.61 510.07 L267.83 498.53 L268.05 473.18 L268.26 500.53 L268.48 488.03 L268.7 487.65 L268.92 509.28 L269.13 489.18 L269.35 468.73 L269.57 467.98 L269.78 492.2 L270 464.2 L270.22 516.24 L270.44 494 L270.65 492.59 L270.87 513.04 L271.09 496.29 L271.3 512.74 L271.52 501.52 L271.74 498.78 L271.96 483 L272.17 499.25 L272.39 495.37 L272.61 493.86 L272.83 497.76 L273.04 496.65 L273.26 502.18 L273.48 502.17 L273.69 500.91 L273.91 501.46 L274.13 503.76 L274.35 516.37 L274.56 505.47 L274.78 502.09 L275 504.75 L275.22 508.9 L275.43 506.71 L275.65 506.86 L275.87 507.45 L276.08 509.23 L276.3 511.16 L276.52 510.39 L276.74 506.51 L276.95 507.68 L277.17 508.86 L277.39 513.8 L277.61 519.37 L277.82 519.95 L278.04 515.79 L278.26 518.81 L278.47 515.25 L278.69 515.39 L278.91 515.08 L279.13 515.84 L279.34 516.87 L279.56 521.21 L279.78 524.06 L280 518.91 L280.21 519.99 L280.43 520.09 L280.65 519.13 L280.86 518.84 L281.08 519.56 L281.3 519.68 L281.52 521.38 L281.73 522.23 L281.95 522.67 L282.17 523.22 L282.39 524.03 L282.6 523.47 L282.82 525.03 L283.04 523.14 L283.25 525.31 L283.47 526.09 L283.69 524.88 L283.91 524.18 L284.12 527.33 L284.34 527.07 L284.56 528.6 L284.78 529.05 L284.99 529.01 L285.21 529.04 L285.43 529.5 L285.64 529.12 L285.86 527.89 L286.08 529.01 L286.3 529.24 L286.51 529.1 L286.73 529.04 L286.95 528.84 L287.16 528.63 L287.38 527.34 L287.6 527.08 L287.82 529.3 L288.03 528.57 L288.25 528.79 L288.47 527.02 L288.69 528.68 L288.9 528.74 L289.12 529.95 L289.34 528.24 L289.55 527.75 L289.77 529.44 L289.99 529.41 L290.21 526.79 L290.42 528.98 L290.64 529.28 L290.86 527.82 L291.08 529.1 L291.29 528.3 L291.51 527.45 L291.73 528.24 L291.94 528.01 L292.16 527.63 L292.38 529.95 L292.6 528.81 L292.81 528.19 L293.03 529.28 L293.25 529.1 L293.47 529.63 L293.68 529 L293.9 529.09 L294.12 529.04 L294.33 529.02 L294.55 528.78 L294.77 529.03 L294.99 529.8 L295.2 528.46 L295.42 528.09 L295.64 528.62 L295.86 529.22 L296.07 529.28 L296.29 529.32 L296.51 527.54 L296.72 528.94 L296.94 528.79 L297.16 528.67 L297.38 528.7 L297.59 526.79 L297.81 528.9 L298.03 528.89 L298.25 526.67 L298.46 528.87 L298.68 529.75 L298.9 528.96 L299.11 529.16 L299.33 528.38 L299.55 526.03 L299.77 525.35 L299.98 528.06 L300.2 529.59 L300.42 528.95 L300.64 526.68 L300.85 528.33 L301.07 526.69 L301.29 524.31 L301.5 526.2 L301.72 521.14 L301.94 518.76 L302.16 526.19 L302.37 517.78 L302.59 523.67 L302.81 516.98 L303.02 521.85 L303.24 521.71 L303.46 518.54 L303.68 514.44 L303.89 519.46 L304.11 520.31 L304.33 516.83 L304.55 520.1 L304.76 523.6 L304.98 530 L305.2 518.72 L305.41 514.27 L305.63 519.04 L305.85 523.19 L306.07 525.93 L306.28 523.56 L306.5 519.83 L306.72 521.39 L306.94 513.82 L307.15 517.79 L307.37 513.26 L307.59 512.62 L307.8 517.15 L308.02 515.44 L308.24 516.27 L308.46 507.16 L308.67 512.02 L308.89 509.44 L309.11 507.59 L309.33 500.45 L309.54 511.74 L309.76 510.6 L309.98 501.08 L310.19 497.24 L310.41 503.24 L310.63 510.57 L310.85 507.85 L311.06 505.92 L311.28 507.33 L311.5 506.24 L311.72 506.15 L311.93 506.94 L312.15 505.82 L312.37 505.55 L312.58 498.72 L312.8 501.9 L313.02 501.04 L313.24 501.57 L313.45 500.45 L313.67 496.85 L313.89 498.49 L314.11 501.91 L314.32 495.01 L314.54 488.92 L314.76 499.4 L314.97 481.2 L315.19 496.07 L315.41 495.35 L315.63 487.89 L315.84 493.71 L316.06 498.07 L316.28 496.55 L316.5 493.49 L316.71 487.22 L316.93 472.03 L317.15 491.47 L317.36 491.85 L317.58 492.49 L317.8 491.81 L318.02 464.2 L318.23 489.02 L318.45 480.74 L318.67 487.75 L318.88 487.25 L319.1 486.79 L319.32 486.01 L319.54 485.4 L319.75 485.02 L319.97 482.85 L320.19 483.89 L320.41 483.69 L320.62 478.22 L320.84 474.43 L321.06 482.56 L321.27 482.27 L321.49 482.08 L321.71 481.74 L321.93 477.66 L322.14 481.07 L322.36 480.97 L322.58 479.36 L322.8 476.31 L323.01 464.2 L323.23 479.71 L323.45 479.8 L323.66 472.81 L323.88 478.89 L324.1 478.86 L324.32 475.22 L324.53 473.26 L324.75 467.96 L324.97 470.55 L325.19 477.39 L325.4 478.96 L325.62 478.74 L325.84 481.12 L326.05 462.3 L326.27 472.94 L326.49 487.04 L326.71 487.3 L326.92 479.22 L327.14 493.04 L327.36 486.11 L327.58 484.65 L327.79 494.42 L328.01 476.01 L328.23 475.28 L328.44 484.59 L328.66 481.21 L328.88 479.27 L329.1 501.05 L329.31 488.71 L329.53 474.19 L329.75 478.81 L329.97 468 L330.18 508.67 L330.4 513 L330.62 483.25 L330.83 479.77 L331.05 469.96 L331.27 478.77 L331.49 470.24 L331.7 481.34 L331.92 507.57 L332.14 496.9 L332.36 497.16 L332.57 494.48 L332.79 492.2 L333.01 494.34 L333.22 477.5 L333.44 482.95 L333.66 491.95 L333.88 481.17 L334.09 483.71 L334.31 501.89 L334.53 504.95 L334.74 482.9 L334.96 479.68 L335.18 490.26 L335.4 488.31 L335.61 482.95 L335.83 491.92 L336.05 468 L336.27 494.4 L336.48 506.9 L336.7 507.2 L336.92 501.9 L337.13 507.82 L337.35 508.12 L337.57 506.3 L337.79 485.35 L338 490.1 L338.22 488.88 L338.44 485.4 L338.66 490.67 L338.87 491.74 L339.09 471.8 L339.31 487.55 L339.52 493.88 L339.74 479.13 L339.96 495.36 L340.18 492.15 L340.39 489.73 L340.61 476.07 L340.83 500.85 L341.05 478.11 L341.26 483.49 L341.48 494.87 L341.7 488.42 L341.91 485.5 L342.13 478.73 L342.35 487.1 L342.57 494.82 L342.78 499.48 L343 492.72 L343.22 495.37 L343.44 496.56 L343.65 489.27 L343.87 491.21 L344.09 513.51 L344.3 493.38 L344.52 506.05 L344.74 500.23 L344.96 509.96 L345.17 494.32 L345.39 499.7 L345.61 499.32 L345.83 496.28 L346.04 497.8 L346.26 493.58 L346.48 496.57 L346.69 497.15 L346.91 503.93 L347.13 498.24 L347.35 491.03 L347.56 496.85 L347.78 498.91 L348 497.74 L348.22 511.1 L348.43 507.34 L348.65 507.23 L348.87 499.27 L349.08 501.25 L349.3 507.11 L349.52 497.64 L349.74 504.14 L349.95 504.29 L350.17 502.74 L350.39 504.33 L350.6 500.67 L350.82 505.26 L351.04 499.03 L351.26 500.6 L351.47 512.99 L351.69 503.98 L351.91 498.84 L352.13 510.52 L352.34 503.06 L352.56 501.07 L352.78 508.19 L352.99 515.04 L353.21 514.73 L353.43 519.33 L353.65 513.1 L353.86 513.78 L354.08 510.35 L354.3 514.24 L354.52 520.28 L354.73 517.04 L354.95 514.78 L355.17 510.6 L355.38 513.7 L355.6 513.75 L355.82 518.18 L356.04 517.03 L356.25 518.6 L356.47 518.42 L356.69 523.29 L356.91 519.7 L357.12 521.67 L357.34 525.03 L357.56 523.05 L357.77 522.62 L357.99 524.29 L358.21 525.92 L358.43 525.45 L358.64 524.74 L358.86 525.59 L359.08 524.96 L359.3 528.48 L359.51 527.86 L359.73 527.92 L359.95 529.2 L360.16 529.17 L360.38 527.65 L360.6 529.75 L360.82 528.7 L361.03 525.8 L361.25 529.75 L361.47 529.95 L361.69 529.95 L361.9 529.3 L362.12 528.09 L362.34 529.6 L362.55 529.95 L362.77 529.84 L362.99 529.93 L363.21 528.72 L363.42 529.56 L363.64 529.43 L363.86 525.85 L364.08 525.71 L364.29 527.3 L364.51 529.02 L364.73 529.19 L364.94 528.9 L365.16 528.93 L365.38 528.95 L365.6 529.08 L365.81 529.34 L366.03 529.29 L366.25 529.04 L366.46 529.07 L366.68 528.78 L366.9 529.3 L367.12 529 L367.33 529.89 L367.55 529.15 L367.77 529.06 L367.99 527.97 L368.2 528.5 L368.42 529.05 L368.64 528.99 L368.85 527.89 L369.07 527.09 L369.29 528.92 L369.51 529.12 L369.72 529.42 L369.94 529.72 L370.16 528.54 L370.38 526.4 L370.59 527.89 L370.81 526.44 L371.03 526.93 L371.24 529.46 L371.46 529.31 L371.68 528.29 L371.9 528.12 L372.11 528.46 L372.33 526.62 L372.55 529.04 L372.77 529.04 L372.98 529.92 L373.2 528.52 L373.42 529.34 L373.63 528.79 L373.85 529.35 L374.07 528.39 L374.29 529.32 L374.5 528.73 L374.72 527.84 L374.94 529.27 L375.16 529.7 L375.37 529.89 L375.59 530.27 L375.81 530.06 L376.02 524.8 L376.24 525.9 L376.46 524.03 L376.68 527.11 L376.89 528.19 L377.11 523.7 L377.33 523.41 L377.55 526.42 L377.76 526.12 L377.98 529.08 L378.2 526.63 L378.41 526.88 L378.63 528.97 L378.85 523.41 L379.07 522.63 L379.28 519.92 L379.5 522.98 L379.72 527.29 L379.94 528.32 L380.15 521.03 L380.37 517.24 L380.59 515.14 L380.8 512.58 L381.02 519.22 L381.24 522.54 L381.46 509.36 L381.67 508.62 L381.89 519.93 L382.11 510.01 L382.32 515.41 L382.54 510.62 L382.76 518.3 L382.98 519.48 L383.19 516.26 L383.41 518.07 L383.63 514.54 L383.85 517.6 L384.06 521.9 L384.28 519.49 L384.5 508.64 L384.71 505.55 L384.93 508.39 L385.15 508.91 L385.37 509.34 L385.58 506.74 L385.8 511.82 L386.02 492.4 L386.24 510.11 L386.45 508.73 L386.67 509.58 L386.89 502.69 L387.1 517.05 L387.32 511.11 L387.54 510.07 L387.76 511.94 L387.97 515.53 L388.19 512.14 L388.41 506.68 L388.63 502.48 L388.84 494.31 L389.06 503.01 L389.28 501.87 L389.49 503.31 L389.71 516.47 L389.93 492.91 L390.15 501.49 L390.36 513.78 L390.58 513.71 L390.8 510.78 L391.02 488.14 L391.23 488.63 L391.45 502.19 L391.67 500.08 L391.88 513.56 L392.1 471 L392.32 500.32 L392.54 500.81 L392.75 496.46 L392.97 496.61 L393.19 491.73 L393.41 494.9 L393.62 493.44 L393.84 494.97 L394.06 484.8 L394.27 484.05 L394.49 495.8 L394.71 494.78 L394.93 487.99 L395.14 489.94 L395.36 488.73 L395.58 507.58 L395.8 486.58 L396.01 503.23 L396.23 488.12 L396.45 491.3 L396.66 487.84 L396.88 487.24 L397.1 497.96 L397.32 496.53 L397.53 484.89 L397.75 481.34 L397.97 460.4 L398.18 502.44 L398.4 487.68 L398.62 482.9 L398.84 485.62 L399.05 486.15 L399.27 493.11 L399.49 476.9 L399.71 479.74 L399.92 477.95 L400.14 497.95 L400.36 499.12 L400.57 484.27 L400.79 489.41 L401.01 498.42 L401.23 480.22 L401.44 472.55 L401.66 492.47 L401.88 489.01 L402.1 483.75 L402.31 500.38 L402.53 484.17 L402.75 446.32 L402.96 439 L403.18 486.74 L403.4 503.34 L403.62 486.47 L403.83 482.95 L404.05 488.45 L404.27 484.57 L404.49 468.32 L404.7 483.14 L404.92 484.34 L405.14 505.76 L405.35 506.06 L405.57 477.95 L405.79 471.63 L406.01 473.66 L406.22 476.08 L406.44 477.82 L406.66 487.25 L406.88 496.78 L407.09 460.4 L407.31 464.11 L407.53 465.29 L407.74 500.14 L407.96 504.25 L408.18 470.69 L408.4 470.04 L408.61 487.89 L408.83 506.54 L409.05 506 L409.27 494.52 L409.48 498.65 L409.7 492.66 L409.92 513.8 L410.13 512.52 L410.35 490.69 L410.57 481.13 L410.79 482.69 L411 475.68 L411.22 489.42 L411.44 501.15 L411.66 483.09 L411.87 508.12 L412.09 512.61 L412.31 497.41 L412.52 476.15 L412.74 477.38 L412.96 464 L413.18 469.66 L413.39 471.37 L413.61 487.39 L413.83 491.79 L414.04 496.1 L414.26 486.36 L414.48 512.73 L414.7 512.74 L414.91 474.7 L415.13 492.95 L415.35 513.8 L415.57 497.19 L415.78 512.79 L416 508.51 L416.22 489.02 L416.43 493.35 L416.65 512.83 L416.87 509.8 L417.09 495.85 L417.3 497.15 L417.52 496.27 L417.74 490.96 L417.96 493.41 L418.17 491.43 L418.39 493.87 L418.61 497.97 L418.82 492.51 L419.04 501.64 L419.26 500.12 L419.48 505.97 L419.69 509.64 L419.91 513.8 L420.13 506.66 L420.35 504.53 L420.56 498.42 L420.78 500.78 L421 494.06 L421.21 497.54 L421.43 503.82 L421.65 500.01 L421.87 500.57 L422.08 495.98 L422.3 507.02 L422.52 498.92 L422.74 501.47 L422.95 501.31 L423.17 505.47 L423.39 499.05 L423.6 492.9 L423.82 491.16 L424.04 497.01 L424.26 495.74 L424.47 504.11 L424.69 507.13 L424.91 492.99 L425.13 494.19 L425.34 503.87 L425.56 509.2 L425.78 506.12 L425.99 506.11 L426.21 507.34 L426.43 508.95 L426.65 511.56 L426.86 508.72 L427.08 504.43 L427.3 506.72 L427.52 508.47 L427.73 507.79 L427.95 509.04 L428.17 509.28 L428.38 509.87 L428.6 512 L428.82 511.32 L429.04 509.89 L429.25 511.37 L429.47 513.83 L429.69 515.2 L429.9 515.15 L430.12 515.75 L430.34 515.71 L430.56 511.73 L430.77 516.28 L430.99 514.75 L431.21 513.28 L431.43 515.77 L431.64 518.34 L431.86 515.8 L432.08 517.77 L432.29 519.47 L432.51 519.67 L432.73 517.17 L432.95 519.75 L433.16 520.1 L433.38 521.06 L433.6 521.64 L433.82 521.46 L434.03 522.23 L434.25 522.95 L434.47 521.09 L434.68 522.94 L434.9 523.87 L435.12 522.99 L435.34 523.52 L435.55 523.67 L435.77 524.59 L435.99 524.72 L436.21 525.21 L436.42 525.48 L436.64 525.36 L436.86 525.43 L437.07 525.72 L437.29 525.83 L437.51 525.6 L437.73 526.43 L437.94 526.51 L438.16 526.68 L438.38 526.13 L438.6 527.17 L438.81 527.53 L439.03 527.43 L439.25 526.4 L439.46 527.5 L439.68 527.76 L439.9 527.97 L440.12 528 L440.33 528.1 L440.55 527.86 L440.77 528.02 L440.99 527.59 L441.2 528.05 L441.42 528.26 L441.64 527.96 L441.85 528.11 L442.07 527.38 L442.29 527.63 L442.51 528 L442.72 528.3 L442.94 527.88 L443.16 528.22 L443.38 526.89 L443.59 527.9 L443.81 528.29 L444.03 528.18 L444.24 527.07 L444.46 526.91 L444.68 528.11 L444.9 527.21 L445.11 528.06 L445.33 527.78 L445.55 528.09 L445.76 528.48 L445.98 528.48 L446.2 528.25 L446.42 527.02 L446.63 528.03" fill="none" stroke="#1DAAEF" stroke-width="1.2" stroke-linejoin="round"/>
<path d="M56 588.7L56 588.7L56.2 559.6L56.4 559.8L56.7 560.5L56.9 561L57.1 562.2L57.3 563L57.5 562.3L57.7 562.5L58 563.9L58.2 564.2L58.4 564.2L58.6 566.1L58.8 566.6L59 565.9L59.3 566.9L59.5 567.6L59.7 567.7L59.9 567.7L60.1 568.1L60.3 568L60.6 566.7L60.8 565.5L61 566.5L61.2 566.9L61.4 565.7L61.6 565.2L61.9 565.7L62.1 565.2L62.3 565L62.5 566.5L62.7 567.3L63 566.5L63.2 566.1L63.4 566.4L63.6 568.4L63.8 568.7L64 569L64.3 569.3L64.5 568.4L64.7 568L64.9 568.5L65.1 567.6L65.3 567.8L65.6 568.2L65.8 568.5L66 569L66.2 570.5L66.4 569.8L66.6 570.3L66.9 571.8L67.1 571.4L67.3 571.2L67.5 571.2L67.7 572.1L67.9 572.3L68.2 572.2L68.4 572.6L68.6 571.8L68.8 571.7L69 571.6L69.3 571.7L69.5 570.8L69.7 570.8L69.9 570.9L70.1 571.1L70.3 571.6L70.6 572.5L70.8 574.7L71 574.7L71.2 576.2L71.4 578.3L71.6 580.1L71.9 581.2L72.1 583L72.3 583.9L72.5 585.1L72.7 586.6L72.9 587.8L73.2 588.2L73.4 588.4L73.6 588.7L73.8 595.2L74 601L74.2 591L74.5 588.7L74.7 588.7L74.9 588.7L75.1 588.5L75.3 588.2L75.6 587.6L75.8 586L76 584.4L76.2 583L76.4 581.7L76.6 580.7L76.9 579.8L77.1 579.2L77.3 578.5L77.5 577.4L77.7 577.6L77.9 577.6L78.2 575.6L78.4 574.3L78.6 573.2L78.8 572.7L79 571.8L79.2 575L79.5 575.3L79.7 577.2L79.9 579.8L80.1 580.4L80.3 579.3L80.6 578.9L80.8 578.1L81 576.6L81.2 582.8L81.4 589.3L81.6 595.9L81.9 602.7L82.1 604L82.3 601.6L82.5 596.3L82.7 597.6L82.9 607.3L83.2 607.1L83.4 612.1L83.6 615.8L83.8 618.2L84 618.9L84.2 618.7L84.5 612.1L84.7 605.2L84.9 624L85.1 604.2L85.3 601.7L85.5 603.5L85.8 607.3L86 607.7L86.2 600.3L86.4 595.6L86.6 598L86.9 599.9L87.1 599.6L87.3 599.6L87.5 596.4L87.7 598.5L87.9 604.4L88.2 605.5L88.4 606.8L88.6 578L88.8 603.6L89 605.3L89.2 608.4L89.5 610L89.7 610.8L89.9 616L90.1 606.1L90.3 599.6L90.5 601.8L90.8 602.7L91 605.4L91.2 605.4L91.4 609.5L91.6 609.9L91.8 607.6L92.1 605.6L92.3 603L92.5 599.9L92.7 599.2L92.9 580L93.2 600.4L93.4 600L93.6 598.5L93.8 595.1L94 596.8L94.2 592.7L94.5 590.6L94.7 588.9L94.9 566.5L95.1 554L95.3 571.9L95.5 575.9L95.8 560.8L96 542.6L96.2 583.2L96.4 584.1L96.6 585.6L96.8 584.5L97.1 576.5L97.3 579.1L97.5 577.4L97.7 565L97.9 560L98.1 581.5L98.4 579L98.6 577.6L98.8 581.4L99 573.5L99.2 574.6L99.5 576.9L99.7 585.1L99.9 578.6L100.1 579.4L100.3 585.5L100.5 583.3L100.8 573.2L101 583.4L101.2 583.9L101.4 574.4L101.6 576.7L101.8 556.4L102.1 546L102.3 583.9L102.5 586.4L102.7 574.8L102.9 575L103.1 585.9L103.4 585.3L103.6 583.1L103.8 580.3L104 587.1L104.2 577.9L104.4 580.8L104.7 583.1L104.9 564.3L105.1 559.6L105.3 578.3L105.5 583.3L105.8 574L106 584.1L106.2 582.7L106.4 579.9L106.6 581.9L106.8 584.6L107.1 588L107.3 587.4L107.5 587.2L107.7 587.6L107.9 588.6L108.1 588.7L108.4 588.7L108.6 588.7L108.8 588.7L109 588.7L109.2 588.8L109.4 589L109.7 589.2L109.9 589.3L110.1 589.3L110.3 589.6L110.5 589.8L110.7 590.3L111 592.1L111.2 595.2L111.4 594.6L111.6 597.6L111.8 598.1L112.1 597.6L112.3 605.2L112.5 609.6L112.7 599.1L112.9 602.1L113.1 597.6L113.4 594.3L113.6 595.9L113.8 601.9L114 604.5L114.2 604L114.4 609L114.7 602L114.9 598L115.1 595L115.3 590.4L115.5 563L115.7 563.4L116 563L116.2 565.1L116.4 564L116.6 565.3L116.8 567L117.1 567.7L117.3 569L117.5 569.6L117.7 570.8L117.9 571.6L118.1 572.1L118.4 570.3L118.6 571L118.8 571.2L119 570.4L119.2 569.6L119.4 569.1L119.7 569.1L119.9 566.8L120.1 567L120.3 567.8L120.5 568.3L120.7 568.5L121 569.1L121.2 570.1L121.4 570.2L121.6 569.2L121.8 568.8L122 568.4L122.3 569.1L122.5 567.7L122.7 566.8L122.9 567.8L123.1 568.4L123.4 567.4L123.6 566.3L123.8 565.2L124 565.5L124.2 566.1L124.4 564.3L124.7 563.4L124.9 563.6L125.1 566.3L125.3 565.8L125.5 565.1L125.7 563.7L126 562.9L126.2 561.7L126.4 561.4L126.6 561.3L126.8 561.7L127 561.8L127.3 560.6L127.5 559.6L127.7 559.8L127.9 559.6L128.1 559.2L128.3 560.2L128.6 561.8L128.8 563L129 563.4L129.2 564.2L129.4 564.7L129.7 562.9L129.9 562.6L130.1 563.2L130.3 562.4L130.5 562.6L130.7 564L131 565.3L131.2 564.5L131.4 562.2L131.6 561.5L131.8 561.4L132 562.4L132.3 564.9L132.5 565.5L132.7 564.3L132.9 563.7L133.1 563.6L133.3 564.5L133.6 565.5L133.8 566.7L134 566L134.2 566.5L134.4 566.6L134.6 567L134.9 568L135.1 582.8L135.3 583.3L135.5 584.4L135.7 581.2L136 583.5L136.2 585.5L136.4 583.9L136.6 580.8L136.8 570.9L137 571L137.3 584.5L137.5 583.5L137.7 584.4L137.9 585.6L138.1 583.8L138.3 584.2L138.6 580.8L138.8 587.2L139 586.5L139.2 587.7L139.4 582.4L139.6 584L139.9 585.7L140.1 587.1L140.3 583.7L140.5 586.3L140.7 583.7L140.9 587L141.2 586.6L141.4 586L141.6 586.6L141.8 587.4L142 584L142.3 585.7L142.5 587.6L142.7 583.3L142.9 582L143.1 587.5L143.3 586.2L143.6 587.4L143.8 587.6L144 583.9L144.2 585.8L144.4 587.7L144.6 586.7L144.9 587.8L145.1 586.8L145.3 587.3L145.5 587L145.7 586.7L145.9 585.7L146.2 586.8L146.4 585.6L146.6 586.8L146.8 586.9L147 582L147.2 583.3L147.5 583.5L147.7 587.8L147.9 587.1L148.1 587.4L148.3 588.1L148.6 588.2L148.8 588.4L149 588.7L149.2 590.1L149.4 590.6L149.6 591.3L149.9 592.1L150.1 595.3L150.3 598.2L150.5 594.2L150.7 596L150.9 601.3L151.2 604.8L151.4 605.6L151.6 600.8L151.8 599.1L152 608.7L152.2 600L152.5 599.9L152.7 602.2L152.9 600.7L153.1 599.2L153.3 598.4L153.5 598.4L153.8 594.7L154 596.9L154.2 600.8L154.4 608.5L154.6 609.2L154.9 606.4L155.1 612.4L155.3 595.4L155.5 602.4L155.7 602.8L155.9 597.6L156.2 600.3L156.4 602.2L156.6 598.8L156.8 609.3L157 614.3L157.2 612.2L157.5 610.8L157.7 611.1L157.9 620L158.1 608.6L158.3 609.4L158.5 576.6L158.8 601.3L159 594.7L159.2 594.1L159.4 598.4L159.6 602.1L159.9 608.4L160.1 609.1L160.3 621.2L160.5 617.8L160.7 622L160.9 642.7L161.2 624.3L161.4 633.7L161.6 626.3L161.8 612.3L162 609L162.2 624.4L162.5 623.7L162.7 615.7L162.9 612.6L163.1 604.6L163.3 603.5L163.5 607.6L163.8 619.3L164 620.6L164.2 616.1L164.4 627L164.6 629.9L164.8 628.7L165.1 630.5L165.3 622.8L165.5 622.4L165.7 627.9L165.9 638.9L166.2 627.1L166.4 616.8L166.6 626.9L166.8 615.4L167 609.4L167.2 606.6L167.5 621L167.7 625.7L167.9 624.5L168.1 620L168.3 604.1L168.5 604.8L168.8 608.2L169 612.2L169.2 627.5L169.4 626.5L169.6 624.2L169.8 624.2L170.1 638L170.3 606.8L170.5 609.2L170.7 619.6L170.9 620.5L171.1 620.3L171.4 616.9L171.6 602.6L171.8 602.4L172 603.7L172.2 598.4L172.5 600.9L172.7 606.8L172.9 605.7L173.1 603.2L173.3 599.1L173.5 596.9L173.8 596.4L174 593.6L174.2 592.6L174.4 591.2L174.6 589.2L174.8 587.3L175.1 585.8L175.3 577.9L175.5 581.1L175.7 567.6L175.9 577.9L176.1 579.7L176.4 575.1L176.6 581.7L176.8 550L177 540.7L177.2 577.1L177.4 561L177.7 563.2L177.9 576.7L178.1 586.1L178.3 576.3L178.5 582.7L178.8 578.8L179 581.6L179.2 584.4L179.4 588.3L179.6 590.2L179.8 594.6L180.1 601L180.3 593.8L180.5 588.9L180.7 587.3L180.9 588.2L181.1 583.5L181.4 585.8L181.6 585.6L181.8 584.2L182 577.5L182.2 582.2L182.4 584.9L182.7 577.4L182.9 567.6L183.1 555.8L183.3 575.5L183.5 585.5L183.7 591L184 599.9L184.2 610.6L184.4 596.6L184.6 588.4L184.8 585.2L185.1 582L185.3 583.6L185.5 583.4L185.7 580.6L185.9 567L186.1 581.5L186.4 582.3L186.6 589.5L186.8 591.6L187 595L187.2 591.8L187.4 589.3L187.7 588.3L187.9 584L188.1 581.4L188.3 583.4L188.5 575.9L188.7 584.4L189 569L189.2 586.6L189.4 584.6L189.6 590L189.8 592.7L190 599L190.3 597.2L190.5 598.7L190.7 603.2L190.9 607.2L191.1 600.6L191.4 604.2L191.6 609.4L191.8 620L192 604.4L192.2 595.9L192.4 590.3L192.7 586.8L192.9 586.5L193.1 582L193.3 582.5L193.5 583.2L193.7 581.9L194 582L194.2 584.5L194.4 587.5L194.6 586.5L194.8 588.2L195 588.8L195.3 589.5L195.5 591.9L195.7 594.7L195.9 597.3L196.1 595.6L196.4 591.7L196.6 589.8L196.8 589.3L197 588.7L197.2 587.5L197.4 588L197.7 585.1L197.9 587L198.1 578L198.3 585.6L198.5 579.3L198.7 585.1L199 578.8L199.2 586.5L199.4 578.9L199.6 578.5L199.8 577.6L200 583.2L200.3 587L200.5 583.4L200.7 579L200.9 578.3L201.1 584.5L201.3 579.1L201.6 577.1L201.8 583.3L202 581.9L202.2 577.5L202.4 583.2L202.7 578.3L202.9 575.5L203.1 577.5L203.3 583.3L203.5 575L203.7 583.7L204 583.6L204.2 576.2L204.4 581.1L204.6 584.8L204.8 572.2L205 581.1L205.3 573.1L205.5 582.2L205.7 580.6L205.9 580.8L206.1 584.8L206.3 580.4L206.6 571.5L206.8 572.3L207 571L207.2 573L207.4 583.1L207.6 585.3L207.9 576.4L208.1 581.2L208.3 577.8L208.5 575.9L208.7 583.6L209 583.3L209.2 580L209.4 586.1L209.6 577.3L209.8 574.9L210 584.6L210.3 580.3L210.5 573L210.7 579.3L210.9 570L211.1 572.6L211.3 580.2L211.6 582L211.8 584.3L212 576.1L212.2 584.9L212.4 574.7L212.6 573.6L212.9 586.4L213.1 574.6L213.3 576.5L213.5 575.7L213.7 582.8L213.9 582L214.2 585.6L214.4 575.2L214.6 574.7L214.8 583.8L215 571L215.3 585.1L215.5 584.3L215.7 572.9L215.9 583.9L216.1 584.7L216.3 581.4L216.6 579.1L216.8 573.4L217 575L217.2 570.1L217.4 573.3L217.6 584.2L217.9 572.6L218.1 572.3L218.3 568.4L218.5 569.5L218.7 579.8L218.9 568L219.2 572.7L219.4 567.7L219.6 580.7L219.8 583.7L220 584.5L220.2 580.7L220.5 579.1L220.7 585L220.9 582.5L221.1 585.1L221.3 584.9L221.6 582.8L221.8 573.3L222 581.7L222.2 572.4L222.4 575.4L222.6 577.3L222.9 574.1L223.1 586.3L223.3 584.9L223.5 577.7L223.7 580.8L223.9 586.6L224.2 580.8L224.4 585.8L224.6 581.6L224.8 582.7L225 584.2L225.2 584.9L225.5 587L225.7 588L225.9 588.5L226.1 588.9L226.3 589.6L226.5 589.9L226.8 590L227 591.1L227.2 592.3L227.4 591.2L227.6 591.5L227.9 592.8L228.1 597L228.3 596.1L228.5 595.2L228.7 593.6L228.9 592.4L229.2 590.8L229.4 591.8L229.6 591.3L229.8 591.4L230 597L230.2 593L230.5 593.8L230.7 593.1L230.9 591.6L231.1 593.2L231.3 601.7L231.5 609.7L231.8 618.5L232 606.3L232.2 602.7L232.4 614.6L232.6 637.1L232.8 635.5L233.1 629.4L233.3 635.9L233.5 636.1L233.7 631.9L233.9 622.9L234.2 626.5L234.4 626.9L234.6 615.8L234.8 612.9L235 644.6L235.2 639.9L235.5 639L235.7 637L235.9 640.1L236.1 640.6L236.3 636L236.5 634.3L236.8 632.5L237 625.3L237.2 625.6L237.4 632.6L237.6 635.5L237.8 633.6L238.1 630.9L238.3 624.3L238.5 644.6L238.7 627.8L238.9 611.7L239.2 602.7L239.4 606.2L239.6 604L239.8 607.5L240 617.2L240.2 620.5L240.5 646.4L240.7 616L240.9 627.1L241.1 637.7L241.3 639.6L241.5 636.7L241.8 629.3L242 623.8L242.2 624.4L242.4 626L242.6 615.3L242.8 615L243.1 567L243.3 613.6L243.5 618L243.7 624.6L243.9 617.8L244.1 629.4L244.4 620.1L244.6 618.5L244.8 614.9L245 612.2L245.2 612.8L245.5 603L245.7 605.3L245.9 605L246.1 625.7L246.3 601.9L246.5 600.8L246.8 607.1L247 609.5L247.2 611.5L247.4 614.3L247.6 618.3L247.8 605L248.1 627.5L248.3 604.3L248.5 612L248.7 617.9L248.9 615.5L249.1 610.6L249.4 618L249.6 619.9L249.8 621.9L250 617L250.2 614.4L250.4 608L250.7 602.5L250.9 602.5L251.1 599.9L251.3 606.5L251.5 608.6L251.8 616.2L252 606.2L252.2 601.2L252.4 603.4L252.6 599.7L252.8 601.4L253.1 597.5L253.3 600.8L253.5 600.4L253.7 610.6L253.9 595.2L254.1 592.3L254.4 591.5L254.6 591L254.8 589.8L255 571L255.2 570.5L255.4 544.4L255.7 561.8L255.9 581.8L256.1 584.6L256.3 578.1L256.5 580.6L256.7 581.4L257 583.3L257.2 577.9L257.4 571L257.6 578.4L257.8 586.2L258.1 588.9L258.3 589.7L258.5 591.1L258.7 592.2L258.9 593.3L259.1 594.4L259.4 594.6L259.6 592.4L259.8 593.9L260 596.6L260.2 595.2L260.4 596.6L260.7 599.5L260.9 601.5L261.1 602.4L261.3 602.4L261.5 601.1L261.7 602.9L262 602.9L262.2 602.6L262.4 605.3L262.6 604.1L262.8 601.5L263 607.7L263.3 603.1L263.5 600.9L263.7 595.9L263.9 580L264.1 595.2L264.4 593.8L264.6 594.3L264.8 601L265 599.2L265.2 599.6L265.4 601.3L265.7 600.3L265.9 599.4L266.1 596.1L266.3 598.8L266.5 600.2L266.7 606.8L267 600.4L267.2 594.5L267.4 593.6L267.6 594.8L267.8 600L268 559.6L268.3 596.7L268.5 592.2L268.7 591.8L268.9 593L269.1 595.4L269.3 596.6L269.6 599.6L269.8 598.4L270 595.7L270.2 597L270.4 602.1L270.7 609.6L270.9 606.2L271.1 572.8L271.3 604.6L271.5 600.6L271.7 597.3L272 599L272.2 602.9L272.4 602.8L272.6 569L272.8 601.8L273 598.6L273.3 594.1L273.5 594.1L273.7 605.6L273.9 606.2L274.1 600.3L274.3 607.7L274.6 595.3L274.8 596.9L275 591.4L275.2 590.9L275.4 590.1L275.7 588.5L275.9 588.2L276.1 587.2L276.3 586.1L276.5 587.5L276.7 587L277 587.8L277.2 586.9L277.4 586.8L277.6 586L277.8 583.2L278 583.9L278.3 582L278.5 586.4L278.7 584.7L278.9 587.7L279.1 587.2L279.3 585.4L279.6 587.6L279.8 586.6L280 582L280.2 583.7L280.4 584.8L280.6 588L280.9 587L281.1 588.1L281.3 586.2L281.5 586.2L281.7 580.4L282 584.7L282.2 578.6L282.4 577.9L282.6 577.9L282.8 577.8L283 576.9L283.3 576.1L283.5 575.3L283.7 575.2L283.9 575L284.1 574.5L284.3 574.4L284.6 574.7L284.8 574.5L285 572.9L285.2 573.8L285.4 573.2L285.6 571.9L285.9 571.6L286.1 571.4L286.3 571.1L286.5 570.9L286.7 570.8L286.9 570.6L287.2 571.6L287.4 571.8L287.6 571.9L287.8 570.4L288 567.7L288.3 565.5L288.5 565.5L288.7 563.3L288.9 564.8L289.1 565.4L289.3 566.4L289.6 567.7L289.8 569.6L290 571.3L290.2 572.3L290.4 573.7L290.6 573.9L290.9 573.3L291.1 572.9L291.3 572.8L291.5 572.2L291.7 571L291.9 570.8L292.2 570.9L292.4 571L292.6 574.1L292.8 574.9L293 575.7L293.2 577.1L293.5 578.2L293.7 579L293.9 580.6L294.1 582.2L294.3 581.9L294.6 580.7L294.8 579.4L295 578.4L295.2 576.9L295.4 575L295.6 574.2L295.9 573.7L296.1 571L296.3 571.6L296.5 571.2L296.7 571.4L296.9 572.5L297.2 573.1L297.4 571.9L297.6 572.2L297.8 572.6L298 573.2L298.2 574L298.5 573.7L298.7 572.9L298.9 572.5L299.1 573.8L299.3 574.4L299.5 572.8L299.8 573.1L300 573.1L300.2 573.5L300.4 574L300.6 574.4L300.9 575L301.1 575.7L301.3 577.1L301.5 576.8L301.7 577.2L301.9 578L302.2 578.1L302.4 578.6L302.6 579.4L302.8 579.8L303 580.1L303.2 580.4L303.5 580.8L303.7 581L303.9 581.6L304.1 581.8L304.3 582L304.5 582L304.8 581.9L305 582.1L305.2 582.4L305.4 583.2L305.6 584.2L305.8 585.5L306.1 586.4L306.3 587.4L306.5 587.9L306.7 588.5L306.9 588.9L307.2 589.4L307.4 589.8L307.6 589.7L307.8 590.1L308 590.1L308.2 589.9L308.5 590.5L308.7 591.3L308.9 592.7L309.1 592.5L309.3 593.8L309.5 593.7L309.8 594.8L310 582L310.2 595.2L310.4 596.2L310.6 597.1L310.8 597.9L311.1 598.5L311.3 595.8L311.5 592.5L311.7 592.4L311.9 594.9L312.1 601.5L312.4 602.8L312.6 602.2L312.8 608.7L313 598.4L313.2 599.6L313.5 599.2L313.7 595.3L313.9 597.5L314.1 594.5L314.3 594.9L314.5 594.5L314.8 593.7L315 592.6L315.2 592.4L315.4 593.1L315.6 580L315.8 596.7L316.1 594.5L316.3 592.3L316.5 591.8L316.7 591.6L316.9 592.5L317.1 596.2L317.4 600.8L317.6 598.3L317.8 601.8L318 602.2L318.2 610.1L318.5 619.3L318.7 623.5L318.9 622.8L319.1 618.7L319.3 638.9L319.5 623.6L319.8 628L320 629.7L320.2 616.8L320.4 609.9L320.6 618.4L320.8 608.8L321.1 606L321.3 609.1L321.5 622.9L321.7 612.6L321.9 603.9L322.1 624.9L322.4 631L322.6 630.2L322.8 619.3L323 618.5L323.2 624.4L323.4 627.1L323.7 619.5L323.9 612.7L324.1 627.6L324.3 627.2L324.5 611.1L324.8 616.5L325 582L325.2 630.3L325.4 636.2L325.6 639.3L325.8 636.4L326.1 644.6L326.3 613.7L326.5 634L326.7 641.2L326.9 640.5L327.1 632.2L327.4 629.8L327.6 637.2L327.8 636.6L328 632.5L328.2 628.1L328.4 618.5L328.7 621.7L328.9 613.9L329.1 615.7L329.3 616.4L329.5 608.1L329.7 580L330 606.9L330.2 620.4L330.4 620.2L330.6 618.9L330.8 627.6L331.1 632.6L331.3 631L331.5 617.8L331.7 638.9L331.9 615.2L332.1 607.3L332.4 605.1L332.6 610.5L332.8 616.9L333 628.5L333.2 621.2L333.4 612.4L333.7 615.7L333.9 621.2L334.1 609.1L334.3 605.1L334.5 603.3L334.7 605.3L335 608.2L335.2 608.2L335.4 599.2L335.6 602.5L335.8 604.3L336 598.5L336.3 594.8L336.5 578L336.7 590.6L336.9 590.6L337.1 589.4L337.4 553.9L337.6 589.3L337.8 590.3L338 591.5L338.2 592.8L338.4 593.6L338.7 593.3L338.9 593.2L339.1 592.2L339.3 596.2L339.5 597.8L339.7 599.6L340 600.5L340.2 598.5L340.4 597.1L340.6 594.8L340.8 594.3L341 606.8L341.3 599.7L341.5 597.7L341.7 601.8L341.9 561.4L342.1 600.5L342.3 595.5L342.6 594.3L342.8 600.1L343 601.1L343.2 599.6L343.4 598.6L343.7 599.7L343.9 600.7L344.1 598.1L344.3 597L344.5 603.2L344.7 599.7L345 602.5L345.2 607.9L345.4 609.6L345.6 606.3L345.8 629.4L346 624.2L346.3 622.2L346.5 619L346.7 601.1L346.9 597.6L347.1 606.7L347.3 616.1L347.6 615L347.8 607.1L348 606.4L348.2 604.8L348.4 597.9L348.6 599L348.9 605.3L349.1 614.2L349.3 612.2L349.5 617.2L349.7 611.1L350 605.6L350.2 620.7L350.4 614.3L350.6 625.7L350.8 622.6L351 609.6L351.3 603.9L351.5 613.3L351.7 608.1L351.9 598.9L352.1 598L352.3 602.1L352.6 606.7L352.8 604.2L353 606.1L353.2 606.3L353.4 605.3L353.6 604.1L353.9 602.1L354.1 596L354.3 599.3L354.5 600.2L354.7 597.8L355 594.8L355.2 594.4L355.4 595.8L355.6 598.9L355.8 597.3L356 598L356.3 612.4L356.5 606.3L356.7 603.6L356.9 604.5L357.1 607.1L357.3 603.7L357.6 602.2L357.8 598.1L358 600.4L358.2 599.9L358.4 596.9L358.6 593.1L358.9 590.9L359.1 590.1L359.3 590.1L359.5 590L359.7 589.4L359.9 588.8L360.2 587.7L360.4 586.4L360.6 585L360.8 583.9L361 582.7L361.3 580.7L361.5 579.5L361.7 578.9L361.9 577.8L362.1 577.1L362.3 576.5L362.6 575.5L362.8 573.8L363 572.9L363.2 572.7L363.4 571.6L363.6 571L363.9 571.9L364.1 572.1L364.3 570.3L364.5 569.3L364.7 568.8L364.9 568.4L365.2 568.2L365.4 567.9L365.6 569.1L365.8 568.8L366 568L366.2 567L366.5 568.1L366.7 569.5L366.9 568L367.1 568.1L367.3 567.4L367.6 567.8L367.8 566.9L368 566.1L368.2 566.3L368.4 566.4L368.6 564.4L368.9 564.1L369.1 564.2L369.3 563.6L369.5 563.3L369.7 561.8L369.9 561.8L370.2 561.9L370.4 561.4L370.6 565.1L370.8 566.9L371 567.4L371.2 568.3L371.5 568.7L371.7 569.8L371.9 571.3L372.1 570.7L372.3 570.6L372.5 571L372.8 572.2L373 573.3L373.2 572.9L373.4 572.3L373.6 571.3L373.9 571L374.1 569.1L374.3 568.1L374.5 565.7L374.7 564.3L374.9 563.5L375.2 563.3L375.4 565.8L375.6 565.6L375.8 564.1L376 564.2L376.2 564.6L376.5 564.7L376.7 564.5L376.9 564.4L377.1 565L377.3 567L377.5 569.2L377.8 571.2L378 572.3L378.2 572.6L378.4 572.8L378.6 572.2L378.8 572L379.1 573.3L379.3 574.1L379.5 574.4L379.7 574.5L379.9 575.7L380.2 576.7L380.4 578.1L380.6 579.5L380.8 581L381 582.6L381.2 584.1L381.5 585.5L381.7 586.8L381.9 587.6L382.1 588.4L382.3 589L382.5 589.5L382.8 589.9L383 590.8L383.2 593.7L383.4 591.5L383.6 591.1L383.8 589.6L384.1 588.6L384.3 587.4L384.5 586.9L384.7 587.3L384.9 586.5L385.1 583.4L385.4 585.5L385.6 581.6L385.8 587.3L386 579.4L386.2 586.4L386.5 588L386.7 587.3L386.9 589.6L387.1 591.1L387.3 592.5L387.5 593.9L387.8 600.8L388 592.2L388.2 590.9L388.4 590L388.6 588.6L388.8 588.3L389.1 588.4L389.3 587.8L389.5 587.3L389.7 586.7L389.9 587.6L390.1 583.5L390.4 583.1L390.6 586.2L390.8 586.9L391 586.6L391.2 577.7L391.4 587.3L391.7 587.7L391.9 591.5L392.1 596.8L392.3 600.1L392.5 600.8L392.8 598.1L393 596.8L393.2 602.5L393.4 603.7L393.6 602.9L393.8 603L394.1 602L394.3 599.9L394.5 601L394.7 597.4L394.9 613.2L395.1 596.3L395.4 597.6L395.6 598.5L395.8 594.3L396 597.6L396.2 604.4L396.4 606.1L396.7 607.4L396.9 616.6L397.1 633.5L397.3 638.4L397.5 634.1L397.8 621.1L398 630.9L398.2 622.7L398.4 663L398.6 632.5L398.8 648.4L399.1 624.9L399.3 642.2L399.5 636.7L399.7 611L399.9 622.3L400.1 640L400.4 638.1L400.6 612.3L400.8 612.9L401 612.7L401.2 614.1L401.4 630.3L401.7 656.9L401.9 649.5L402.1 663L402.3 636L402.5 650.5L402.7 648L403 635.4L403.2 649.1L403.4 626.6L403.6 629.6L403.8 650.1L404.1 655.2L404.3 641L404.5 643.6L404.7 651L404.9 649.1L405.1 649.1L405.4 646.9L405.6 640.7L405.8 641.5L406 641.4L406.2 637.9L406.4 637.3L406.7 609.1L406.9 613.3L407.1 637.7L407.3 632.6L407.5 618.8L407.7 625.7L408 626.8L408.2 616.9L408.4 618L408.6 612.3L408.8 608.2L409 608.8L409.3 608.1L409.5 598.6L409.7 597.8L409.9 597.5L410.1 592.2L410.4 590.7L410.6 590.5L410.8 589.3L411 588.2L411.2 585.8L411.4 582.2L411.7 581.1L411.9 578.2L412.1 582.6L412.3 570.3L412.5 571.9L412.7 535L413 568.9L413.2 580.6L413.4 582.1L413.6 581.9L413.8 579.8L414 579.5L414.3 582.4L414.5 567L414.7 584L414.9 581.5L415.1 584L415.3 578.7L415.6 582.2L415.8 567.5L416 578.6L416.2 558L416.4 580.8L416.7 569L416.9 586.5L417.1 585L417.3 584.9L417.5 581.1L417.7 585.3L418 579.3L418.2 578.5L418.4 584.8L418.6 578L418.8 585.4L419 575.4L419.3 583.8L419.5 581.9L419.7 570.6L419.9 584.6L420.1 575.9L420.3 578.9L420.6 586.9L420.8 587L421 588.7L421.2 591.6L421.4 593.2L421.6 607.9L421.9 595.6L422.1 590.8L422.3 588.5L422.5 587.2L422.7 588L423 586.9L423.2 587.4L423.4 586L423.6 587.3L423.8 587.2L424 587.3L424.3 583.5L424.5 583.2L424.7 580.3L424.9 573.7L425.1 567.9L425.3 573.2L425.6 573.7L425.8 565.8L426 538.6L426.2 581.2L426.4 578.6L426.6 582.5L426.9 583.9L427.1 585.3L427.3 586.5L427.5 586.5L427.7 584.9L427.9 588.5L428.2 591L428.4 595.6L428.6 602.4L428.8 607.6L429 605.2L429.3 607.3L429.5 608.5L429.7 625.7L429.9 601.1L430.1 593.4L430.3 588.4L430.6 585.2L430.8 582.4L431 584.7L431.2 574L431.4 583.3L431.6 582L431.9 588.1L432.1 589.5L432.3 592L432.5 592.5L432.7 595.8L432.9 602.6L433.2 594.6L433.4 595.7L433.6 597.1L433.8 597.8L434 593.9L434.3 594.7L434.5 596.8L434.7 599L434.9 595.9L435.1 596.6L435.3 593.6L435.6 596L435.8 597.4L436 597.5L436.2 594.1L436.4 592.9L436.6 602.6L436.9 598.1L437.1 594.3L437.3 590.8L437.5 588.6L437.7 588.2L437.9 587.9L438.2 582.4L438.4 579.4L438.6 579.7L438.8 581.1L439 581.6L439.2 582L439.5 582.7L439.7 583.7L439.9 583.8L440.1 583.9L440.3 584.4L440.6 584.4L440.8 584.6L441 584.8L441.2 584.1L441.4 583L441.6 582.2L441.9 580.9L442.1 580L442.3 579.5L442.5 578.6L442.7 576.4L442.9 575.4L443.2 575L443.4 575.3L443.6 574.4L443.8 572.8L444 572.4L444.2 573L444.5 572.1L444.7 571.3L444.9 570.9L445.1 570.2L445.3 567.8L445.5 567L445.8 569.4L446 571.3L446.2 572.4L446.4 572.9L446.6 572.6L446.9 573.1L447.1 572.8L447.3 573.6L447.5 574.8L447.7 575.1L447.9 575.3L448.2 575.5L448.4 582.9L448.4 588.7Z" fill="url(#gNECB)"/>
<g clip-path="url(#cNECBpos)"><path d="M56 588.7L56.2 559.6L56.4 559.8L56.7 560.5L56.9 561L57.1 562.2L57.3 563L57.5 562.3L57.7 562.5L58 563.9L58.2 564.2L58.4 564.2L58.6 566.1L58.8 566.6L59 565.9L59.3 566.9L59.5 567.6L59.7 567.7L59.9 567.7L60.1 568.1L60.3 568L60.6 566.7L60.8 565.5L61 566.5L61.2 566.9L61.4 565.7L61.6 565.2L61.9 565.7L62.1 565.2L62.3 565L62.5 566.5L62.7 567.3L63 566.5L63.2 566.1L63.4 566.4L63.6 568.4L63.8 568.7L64 569L64.3 569.3L64.5 568.4L64.7 568L64.9 568.5L65.1 567.6L65.3 567.8L65.6 568.2L65.8 568.5L66 569L66.2 570.5L66.4 569.8L66.6 570.3L66.9 571.8L67.1 571.4L67.3 571.2L67.5 571.2L67.7 572.1L67.9 572.3L68.2 572.2L68.4 572.6L68.6 571.8L68.8 571.7L69 571.6L69.3 571.7L69.5 570.8L69.7 570.8L69.9 570.9L70.1 571.1L70.3 571.6L70.6 572.5L70.8 574.7L71 574.7L71.2 576.2L71.4 578.3L71.6 580.1L71.9 581.2L72.1 583L72.3 583.9L72.5 585.1L72.7 586.6L72.9 587.8L73.2 588.2L73.4 588.4L73.6 588.7L73.8 595.2L74 601L74.2 591L74.5 588.7L74.7 588.7L74.9 588.7L75.1 588.5L75.3 588.2L75.6 587.6L75.8 586L76 584.4L76.2 583L76.4 581.7L76.6 580.7L76.9 579.8L77.1 579.2L77.3 578.5L77.5 577.4L77.7 577.6L77.9 577.6L78.2 575.6L78.4 574.3L78.6 573.2L78.8 572.7L79 571.8L79.2 575L79.5 575.3L79.7 577.2L79.9 579.8L80.1 580.4L80.3 579.3L80.6 578.9L80.8 578.1L81 576.6L81.2 582.8L81.4 589.3L81.6 595.9L81.9 602.7L82.1 604L82.3 601.6L82.5 596.3L82.7 597.6L82.9 607.3L83.2 607.1L83.4 612.1L83.6 615.8L83.8 618.2L84 618.9L84.2 618.7L84.5 612.1L84.7 605.2L84.9 624L85.1 604.2L85.3 601.7L85.5 603.5L85.8 607.3L86 607.7L86.2 600.3L86.4 595.6L86.6 598L86.9 599.9L87.1 599.6L87.3 599.6L87.5 596.4L87.7 598.5L87.9 604.4L88.2 605.5L88.4 606.8L88.6 578L88.8 603.6L89 605.3L89.2 608.4L89.5 610L89.7 610.8L89.9 616L90.1 606.1L90.3 599.6L90.5 601.8L90.8 602.7L91 605.4L91.2 605.4L91.4 609.5L91.6 609.9L91.8 607.6L92.1 605.6L92.3 603L92.5 599.9L92.7 599.2L92.9 580L93.2 600.4L93.4 600L93.6 598.5L93.8 595.1L94 596.8L94.2 592.7L94.5 590.6L94.7 588.9L94.9 566.5L95.1 554L95.3 571.9L95.5 575.9L95.8 560.8L96 542.6L96.2 583.2L96.4 584.1L96.6 585.6L96.8 584.5L97.1 576.5L97.3 579.1L97.5 577.4L97.7 565L97.9 560L98.1 581.5L98.4 579L98.6 577.6L98.8 581.4L99 573.5L99.2 574.6L99.5 576.9L99.7 585.1L99.9 578.6L100.1 579.4L100.3 585.5L100.5 583.3L100.8 573.2L101 583.4L101.2 583.9L101.4 574.4L101.6 576.7L101.8 556.4L102.1 546L102.3 583.9L102.5 586.4L102.7 574.8L102.9 575L103.1 585.9L103.4 585.3L103.6 583.1L103.8 580.3L104 587.1L104.2 577.9L104.4 580.8L104.7 583.1L104.9 564.3L105.1 559.6L105.3 578.3L105.5 583.3L105.8 574L106 584.1L106.2 582.7L106.4 579.9L106.6 581.9L106.8 584.6L107.1 588L107.3 587.4L107.5 587.2L107.7 587.6L107.9 588.6L108.1 588.7L108.4 588.7L108.6 588.7L108.8 588.7L109 588.7L109.2 588.8L109.4 589L109.7 589.2L109.9 589.3L110.1 589.3L110.3 589.6L110.5 589.8L110.7 590.3L111 592.1L111.2 595.2L111.4 594.6L111.6 597.6L111.8 598.1L112.1 597.6L112.3 605.2L112.5 609.6L112.7 599.1L112.9 602.1L113.1 597.6L113.4 594.3L113.6 595.9L113.8 601.9L114 604.5L114.2 604L114.4 609L114.7 602L114.9 598L115.1 595L115.3 590.4L115.5 563L115.7 563.4L116 563L116.2 565.1L116.4 564L116.6 565.3L116.8 567L117.1 567.7L117.3 569L117.5 569.6L117.7 570.8L117.9 571.6L118.1 572.1L118.4 570.3L118.6 571L118.8 571.2L119 570.4L119.2 569.6L119.4 569.1L119.7 569.1L119.9 566.8L120.1 567L120.3 567.8L120.5 568.3L120.7 568.5L121 569.1L121.2 570.1L121.4 570.2L121.6 569.2L121.8 568.8L122 568.4L122.3 569.1L122.5 567.7L122.7 566.8L122.9 567.8L123.1 568.4L123.4 567.4L123.6 566.3L123.8 565.2L124 565.5L124.2 566.1L124.4 564.3L124.7 563.4L124.9 563.6L125.1 566.3L125.3 565.8L125.5 565.1L125.7 563.7L126 562.9L126.2 561.7L126.4 561.4L126.6 561.3L126.8 561.7L127 561.8L127.3 560.6L127.5 559.6L127.7 559.8L127.9 559.6L128.1 559.2L128.3 560.2L128.6 561.8L128.8 563L129 563.4L129.2 564.2L129.4 564.7L129.7 562.9L129.9 562.6L130.1 563.2L130.3 562.4L130.5 562.6L130.7 564L131 565.3L131.2 564.5L131.4 562.2L131.6 561.5L131.8 561.4L132 562.4L132.3 564.9L132.5 565.5L132.7 564.3L132.9 563.7L133.1 563.6L133.3 564.5L133.6 565.5L133.8 566.7L134 566L134.2 566.5L134.4 566.6L134.6 567L134.9 568L135.1 582.8L135.3 583.3L135.5 584.4L135.7 581.2L136 583.5L136.2 585.5L136.4 583.9L136.6 580.8L136.8 570.9L137 571L137.3 584.5L137.5 583.5L137.7 584.4L137.9 585.6L138.1 583.8L138.3 584.2L138.6 580.8L138.8 587.2L139 586.5L139.2 587.7L139.4 582.4L139.6 584L139.9 585.7L140.1 587.1L140.3 583.7L140.5 586.3L140.7 583.7L140.9 587L141.2 586.6L141.4 586L141.6 586.6L141.8 587.4L142 584L142.3 585.7L142.5 587.6L142.7 583.3L142.9 582L143.1 587.5L143.3 586.2L143.6 587.4L143.8 587.6L144 583.9L144.2 585.8L144.4 587.7L144.6 586.7L144.9 587.8L145.1 586.8L145.3 587.3L145.5 587L145.7 586.7L145.9 585.7L146.2 586.8L146.4 585.6L146.6 586.8L146.8 586.9L147 582L147.2 583.3L147.5 583.5L147.7 587.8L147.9 587.1L148.1 587.4L148.3 588.1L148.6 588.2L148.8 588.4L149 588.7L149.2 590.1L149.4 590.6L149.6 591.3L149.9 592.1L150.1 595.3L150.3 598.2L150.5 594.2L150.7 596L150.9 601.3L151.2 604.8L151.4 605.6L151.6 600.8L151.8 599.1L152 608.7L152.2 600L152.5 599.9L152.7 602.2L152.9 600.7L153.1 599.2L153.3 598.4L153.5 598.4L153.8 594.7L154 596.9L154.2 600.8L154.4 608.5L154.6 609.2L154.9 606.4L155.1 612.4L155.3 595.4L155.5 602.4L155.7 602.8L155.9 597.6L156.2 600.3L156.4 602.2L156.6 598.8L156.8 609.3L157 614.3L157.2 612.2L157.5 610.8L157.7 611.1L157.9 620L158.1 608.6L158.3 609.4L158.5 576.6L158.8 601.3L159 594.7L159.2 594.1L159.4 598.4L159.6 602.1L159.9 608.4L160.1 609.1L160.3 621.2L160.5 617.8L160.7 622L160.9 642.7L161.2 624.3L161.4 633.7L161.6 626.3L161.8 612.3L162 609L162.2 624.4L162.5 623.7L162.7 615.7L162.9 612.6L163.1 604.6L163.3 603.5L163.5 607.6L163.8 619.3L164 620.6L164.2 616.1L164.4 627L164.6 629.9L164.8 628.7L165.1 630.5L165.3 622.8L165.5 622.4L165.7 627.9L165.9 638.9L166.2 627.1L166.4 616.8L166.6 626.9L166.8 615.4L167 609.4L167.2 606.6L167.5 621L167.7 625.7L167.9 624.5L168.1 620L168.3 604.1L168.5 604.8L168.8 608.2L169 612.2L169.2 627.5L169.4 626.5L169.6 624.2L169.8 624.2L170.1 638L170.3 606.8L170.5 609.2L170.7 619.6L170.9 620.5L171.1 620.3L171.4 616.9L171.6 602.6L171.8 602.4L172 603.7L172.2 598.4L172.5 600.9L172.7 606.8L172.9 605.7L173.1 603.2L173.3 599.1L173.5 596.9L173.8 596.4L174 593.6L174.2 592.6L174.4 591.2L174.6 589.2L174.8 587.3L175.1 585.8L175.3 577.9L175.5 581.1L175.7 567.6L175.9 577.9L176.1 579.7L176.4 575.1L176.6 581.7L176.8 550L177 540.7L177.2 577.1L177.4 561L177.7 563.2L177.9 576.7L178.1 586.1L178.3 576.3L178.5 582.7L178.8 578.8L179 581.6L179.2 584.4L179.4 588.3L179.6 590.2L179.8 594.6L180.1 601L180.3 593.8L180.5 588.9L180.7 587.3L180.9 588.2L181.1 583.5L181.4 585.8L181.6 585.6L181.8 584.2L182 577.5L182.2 582.2L182.4 584.9L182.7 577.4L182.9 567.6L183.1 555.8L183.3 575.5L183.5 585.5L183.7 591L184 599.9L184.2 610.6L184.4 596.6L184.6 588.4L184.8 585.2L185.1 582L185.3 583.6L185.5 583.4L185.7 580.6L185.9 567L186.1 581.5L186.4 582.3L186.6 589.5L186.8 591.6L187 595L187.2 591.8L187.4 589.3L187.7 588.3L187.9 584L188.1 581.4L188.3 583.4L188.5 575.9L188.7 584.4L189 569L189.2 586.6L189.4 584.6L189.6 590L189.8 592.7L190 599L190.3 597.2L190.5 598.7L190.7 603.2L190.9 607.2L191.1 600.6L191.4 604.2L191.6 609.4L191.8 620L192 604.4L192.2 595.9L192.4 590.3L192.7 586.8L192.9 586.5L193.1 582L193.3 582.5L193.5 583.2L193.7 581.9L194 582L194.2 584.5L194.4 587.5L194.6 586.5L194.8 588.2L195 588.8L195.3 589.5L195.5 591.9L195.7 594.7L195.9 597.3L196.1 595.6L196.4 591.7L196.6 589.8L196.8 589.3L197 588.7L197.2 587.5L197.4 588L197.7 585.1L197.9 587L198.1 578L198.3 585.6L198.5 579.3L198.7 585.1L199 578.8L199.2 586.5L199.4 578.9L199.6 578.5L199.8 577.6L200 583.2L200.3 587L200.5 583.4L200.7 579L200.9 578.3L201.1 584.5L201.3 579.1L201.6 577.1L201.8 583.3L202 581.9L202.2 577.5L202.4 583.2L202.7 578.3L202.9 575.5L203.1 577.5L203.3 583.3L203.5 575L203.7 583.7L204 583.6L204.2 576.2L204.4 581.1L204.6 584.8L204.8 572.2L205 581.1L205.3 573.1L205.5 582.2L205.7 580.6L205.9 580.8L206.1 584.8L206.3 580.4L206.6 571.5L206.8 572.3L207 571L207.2 573L207.4 583.1L207.6 585.3L207.9 576.4L208.1 581.2L208.3 577.8L208.5 575.9L208.7 583.6L209 583.3L209.2 580L209.4 586.1L209.6 577.3L209.8 574.9L210 584.6L210.3 580.3L210.5 573L210.7 579.3L210.9 570L211.1 572.6L211.3 580.2L211.6 582L211.8 584.3L212 576.1L212.2 584.9L212.4 574.7L212.6 573.6L212.9 586.4L213.1 574.6L213.3 576.5L213.5 575.7L213.7 582.8L213.9 582L214.2 585.6L214.4 575.2L214.6 574.7L214.8 583.8L215 571L215.3 585.1L215.5 584.3L215.7 572.9L215.9 583.9L216.1 584.7L216.3 581.4L216.6 579.1L216.8 573.4L217 575L217.2 570.1L217.4 573.3L217.6 584.2L217.9 572.6L218.1 572.3L218.3 568.4L218.5 569.5L218.7 579.8L218.9 568L219.2 572.7L219.4 567.7L219.6 580.7L219.8 583.7L220 584.5L220.2 580.7L220.5 579.1L220.7 585L220.9 582.5L221.1 585.1L221.3 584.9L221.6 582.8L221.8 573.3L222 581.7L222.2 572.4L222.4 575.4L222.6 577.3L222.9 574.1L223.1 586.3L223.3 584.9L223.5 577.7L223.7 580.8L223.9 586.6L224.2 580.8L224.4 585.8L224.6 581.6L224.8 582.7L225 584.2L225.2 584.9L225.5 587L225.7 588L225.9 588.5L226.1 588.9L226.3 589.6L226.5 589.9L226.8 590L227 591.1L227.2 592.3L227.4 591.2L227.6 591.5L227.9 592.8L228.1 597L228.3 596.1L228.5 595.2L228.7 593.6L228.9 592.4L229.2 590.8L229.4 591.8L229.6 591.3L229.8 591.4L230 597L230.2 593L230.5 593.8L230.7 593.1L230.9 591.6L231.1 593.2L231.3 601.7L231.5 609.7L231.8 618.5L232 606.3L232.2 602.7L232.4 614.6L232.6 637.1L232.8 635.5L233.1 629.4L233.3 635.9L233.5 636.1L233.7 631.9L233.9 622.9L234.2 626.5L234.4 626.9L234.6 615.8L234.8 612.9L235 644.6L235.2 639.9L235.5 639L235.7 637L235.9 640.1L236.1 640.6L236.3 636L236.5 634.3L236.8 632.5L237 625.3L237.2 625.6L237.4 632.6L237.6 635.5L237.8 633.6L238.1 630.9L238.3 624.3L238.5 644.6L238.7 627.8L238.9 611.7L239.2 602.7L239.4 606.2L239.6 604L239.8 607.5L240 617.2L240.2 620.5L240.5 646.4L240.7 616L240.9 627.1L241.1 637.7L241.3 639.6L241.5 636.7L241.8 629.3L242 623.8L242.2 624.4L242.4 626L242.6 615.3L242.8 615L243.1 567L243.3 613.6L243.5 618L243.7 624.6L243.9 617.8L244.1 629.4L244.4 620.1L244.6 618.5L244.8 614.9L245 612.2L245.2 612.8L245.5 603L245.7 605.3L245.9 605L246.1 625.7L246.3 601.9L246.5 600.8L246.8 607.1L247 609.5L247.2 611.5L247.4 614.3L247.6 618.3L247.8 605L248.1 627.5L248.3 604.3L248.5 612L248.7 617.9L248.9 615.5L249.1 610.6L249.4 618L249.6 619.9L249.8 621.9L250 617L250.2 614.4L250.4 608L250.7 602.5L250.9 602.5L251.1 599.9L251.3 606.5L251.5 608.6L251.8 616.2L252 606.2L252.2 601.2L252.4 603.4L252.6 599.7L252.8 601.4L253.1 597.5L253.3 600.8L253.5 600.4L253.7 610.6L253.9 595.2L254.1 592.3L254.4 591.5L254.6 591L254.8 589.8L255 571L255.2 570.5L255.4 544.4L255.7 561.8L255.9 581.8L256.1 584.6L256.3 578.1L256.5 580.6L256.7 581.4L257 583.3L257.2 577.9L257.4 571L257.6 578.4L257.8 586.2L258.1 588.9L258.3 589.7L258.5 591.1L258.7 592.2L258.9 593.3L259.1 594.4L259.4 594.6L259.6 592.4L259.8 593.9L260 596.6L260.2 595.2L260.4 596.6L260.7 599.5L260.9 601.5L261.1 602.4L261.3 602.4L261.5 601.1L261.7 602.9L262 602.9L262.2 602.6L262.4 605.3L262.6 604.1L262.8 601.5L263 607.7L263.3 603.1L263.5 600.9L263.7 595.9L263.9 580L264.1 595.2L264.4 593.8L264.6 594.3L264.8 601L265 599.2L265.2 599.6L265.4 601.3L265.7 600.3L265.9 599.4L266.1 596.1L266.3 598.8L266.5 600.2L266.7 606.8L267 600.4L267.2 594.5L267.4 593.6L267.6 594.8L267.8 600L268 559.6L268.3 596.7L268.5 592.2L268.7 591.8L268.9 593L269.1 595.4L269.3 596.6L269.6 599.6L269.8 598.4L270 595.7L270.2 597L270.4 602.1L270.7 609.6L270.9 606.2L271.1 572.8L271.3 604.6L271.5 600.6L271.7 597.3L272 599L272.2 602.9L272.4 602.8L272.6 569L272.8 601.8L273 598.6L273.3 594.1L273.5 594.1L273.7 605.6L273.9 606.2L274.1 600.3L274.3 607.7L274.6 595.3L274.8 596.9L275 591.4L275.2 590.9L275.4 590.1L275.7 588.5L275.9 588.2L276.1 587.2L276.3 586.1L276.5 587.5L276.7 587L277 587.8L277.2 586.9L277.4 586.8L277.6 586L277.8 583.2L278 583.9L278.3 582L278.5 586.4L278.7 584.7L278.9 587.7L279.1 587.2L279.3 585.4L279.6 587.6L279.8 586.6L280 582L280.2 583.7L280.4 584.8L280.6 588L280.9 587L281.1 588.1L281.3 586.2L281.5 586.2L281.7 580.4L282 584.7L282.2 578.6L282.4 577.9L282.6 577.9L282.8 577.8L283 576.9L283.3 576.1L283.5 575.3L283.7 575.2L283.9 575L284.1 574.5L284.3 574.4L284.6 574.7L284.8 574.5L285 572.9L285.2 573.8L285.4 573.2L285.6 571.9L285.9 571.6L286.1 571.4L286.3 571.1L286.5 570.9L286.7 570.8L286.9 570.6L287.2 571.6L287.4 571.8L287.6 571.9L287.8 570.4L288 567.7L288.3 565.5L288.5 565.5L288.7 563.3L288.9 564.8L289.1 565.4L289.3 566.4L289.6 567.7L289.8 569.6L290 571.3L290.2 572.3L290.4 573.7L290.6 573.9L290.9 573.3L291.1 572.9L291.3 572.8L291.5 572.2L291.7 571L291.9 570.8L292.2 570.9L292.4 571L292.6 574.1L292.8 574.9L293 575.7L293.2 577.1L293.5 578.2L293.7 579L293.9 580.6L294.1 582.2L294.3 581.9L294.6 580.7L294.8 579.4L295 578.4L295.2 576.9L295.4 575L295.6 574.2L295.9 573.7L296.1 571L296.3 571.6L296.5 571.2L296.7 571.4L296.9 572.5L297.2 573.1L297.4 571.9L297.6 572.2L297.8 572.6L298 573.2L298.2 574L298.5 573.7L298.7 572.9L298.9 572.5L299.1 573.8L299.3 574.4L299.5 572.8L299.8 573.1L300 573.1L300.2 573.5L300.4 574L300.6 574.4L300.9 575L301.1 575.7L301.3 577.1L301.5 576.8L301.7 577.2L301.9 578L302.2 578.1L302.4 578.6L302.6 579.4L302.8 579.8L303 580.1L303.2 580.4L303.5 580.8L303.7 581L303.9 581.6L304.1 581.8L304.3 582L304.5 582L304.8 581.9L305 582.1L305.2 582.4L305.4 583.2L305.6 584.2L305.8 585.5L306.1 586.4L306.3 587.4L306.5 587.9L306.7 588.5L306.9 588.9L307.2 589.4L307.4 589.8L307.6 589.7L307.8 590.1L308 590.1L308.2 589.9L308.5 590.5L308.7 591.3L308.9 592.7L309.1 592.5L309.3 593.8L309.5 593.7L309.8 594.8L310 582L310.2 595.2L310.4 596.2L310.6 597.1L310.8 597.9L311.1 598.5L311.3 595.8L311.5 592.5L311.7 592.4L311.9 594.9L312.1 601.5L312.4 602.8L312.6 602.2L312.8 608.7L313 598.4L313.2 599.6L313.5 599.2L313.7 595.3L313.9 597.5L314.1 594.5L314.3 594.9L314.5 594.5L314.8 593.7L315 592.6L315.2 592.4L315.4 593.1L315.6 580L315.8 596.7L316.1 594.5L316.3 592.3L316.5 591.8L316.7 591.6L316.9 592.5L317.1 596.2L317.4 600.8L317.6 598.3L317.8 601.8L318 602.2L318.2 610.1L318.5 619.3L318.7 623.5L318.9 622.8L319.1 618.7L319.3 638.9L319.5 623.6L319.8 628L320 629.7L320.2 616.8L320.4 609.9L320.6 618.4L320.8 608.8L321.1 606L321.3 609.1L321.5 622.9L321.7 612.6L321.9 603.9L322.1 624.9L322.4 631L322.6 630.2L322.8 619.3L323 618.5L323.2 624.4L323.4 627.1L323.7 619.5L323.9 612.7L324.1 627.6L324.3 627.2L324.5 611.1L324.8 616.5L325 582L325.2 630.3L325.4 636.2L325.6 639.3L325.8 636.4L326.1 644.6L326.3 613.7L326.5 634L326.7 641.2L326.9 640.5L327.1 632.2L327.4 629.8L327.6 637.2L327.8 636.6L328 632.5L328.2 628.1L328.4 618.5L328.7 621.7L328.9 613.9L329.1 615.7L329.3 616.4L329.5 608.1L329.7 580L330 606.9L330.2 620.4L330.4 620.2L330.6 618.9L330.8 627.6L331.1 632.6L331.3 631L331.5 617.8L331.7 638.9L331.9 615.2L332.1 607.3L332.4 605.1L332.6 610.5L332.8 616.9L333 628.5L333.2 621.2L333.4 612.4L333.7 615.7L333.9 621.2L334.1 609.1L334.3 605.1L334.5 603.3L334.7 605.3L335 608.2L335.2 608.2L335.4 599.2L335.6 602.5L335.8 604.3L336 598.5L336.3 594.8L336.5 578L336.7 590.6L336.9 590.6L337.1 589.4L337.4 553.9L337.6 589.3L337.8 590.3L338 591.5L338.2 592.8L338.4 593.6L338.7 593.3L338.9 593.2L339.1 592.2L339.3 596.2L339.5 597.8L339.7 599.6L340 600.5L340.2 598.5L340.4 597.1L340.6 594.8L340.8 594.3L341 606.8L341.3 599.7L341.5 597.7L341.7 601.8L341.9 561.4L342.1 600.5L342.3 595.5L342.6 594.3L342.8 600.1L343 601.1L343.2 599.6L343.4 598.6L343.7 599.7L343.9 600.7L344.1 598.1L344.3 597L344.5 603.2L344.7 599.7L345 602.5L345.2 607.9L345.4 609.6L345.6 606.3L345.8 629.4L346 624.2L346.3 622.2L346.5 619L346.7 601.1L346.9 597.6L347.1 606.7L347.3 616.1L347.6 615L347.8 607.1L348 606.4L348.2 604.8L348.4 597.9L348.6 599L348.9 605.3L349.1 614.2L349.3 612.2L349.5 617.2L349.7 611.1L350 605.6L350.2 620.7L350.4 614.3L350.6 625.7L350.8 622.6L351 609.6L351.3 603.9L351.5 613.3L351.7 608.1L351.9 598.9L352.1 598L352.3 602.1L352.6 606.7L352.8 604.2L353 606.1L353.2 606.3L353.4 605.3L353.6 604.1L353.9 602.1L354.1 596L354.3 599.3L354.5 600.2L354.7 597.8L355 594.8L355.2 594.4L355.4 595.8L355.6 598.9L355.8 597.3L356 598L356.3 612.4L356.5 606.3L356.7 603.6L356.9 604.5L357.1 607.1L357.3 603.7L357.6 602.2L357.8 598.1L358 600.4L358.2 599.9L358.4 596.9L358.6 593.1L358.9 590.9L359.1 590.1L359.3 590.1L359.5 590L359.7 589.4L359.9 588.8L360.2 587.7L360.4 586.4L360.6 585L360.8 583.9L361 582.7L361.3 580.7L361.5 579.5L361.7 578.9L361.9 577.8L362.1 577.1L362.3 576.5L362.6 575.5L362.8 573.8L363 572.9L363.2 572.7L363.4 571.6L363.6 571L363.9 571.9L364.1 572.1L364.3 570.3L364.5 569.3L364.7 568.8L364.9 568.4L365.2 568.2L365.4 567.9L365.6 569.1L365.8 568.8L366 568L366.2 567L366.5 568.1L366.7 569.5L366.9 568L367.1 568.1L367.3 567.4L367.6 567.8L367.8 566.9L368 566.1L368.2 566.3L368.4 566.4L368.6 564.4L368.9 564.1L369.1 564.2L369.3 563.6L369.5 563.3L369.7 561.8L369.9 561.8L370.2 561.9L370.4 561.4L370.6 565.1L370.8 566.9L371 567.4L371.2 568.3L371.5 568.7L371.7 569.8L371.9 571.3L372.1 570.7L372.3 570.6L372.5 571L372.8 572.2L373 573.3L373.2 572.9L373.4 572.3L373.6 571.3L373.9 571L374.1 569.1L374.3 568.1L374.5 565.7L374.7 564.3L374.9 563.5L375.2 563.3L375.4 565.8L375.6 565.6L375.8 564.1L376 564.2L376.2 564.6L376.5 564.7L376.7 564.5L376.9 564.4L377.1 565L377.3 567L377.5 569.2L377.8 571.2L378 572.3L378.2 572.6L378.4 572.8L378.6 572.2L378.8 572L379.1 573.3L379.3 574.1L379.5 574.4L379.7 574.5L379.9 575.7L380.2 576.7L380.4 578.1L380.6 579.5L380.8 581L381 582.6L381.2 584.1L381.5 585.5L381.7 586.8L381.9 587.6L382.1 588.4L382.3 589L382.5 589.5L382.8 589.9L383 590.8L383.2 593.7L383.4 591.5L383.6 591.1L383.8 589.6L384.1 588.6L384.3 587.4L384.5 586.9L384.7 587.3L384.9 586.5L385.1 583.4L385.4 585.5L385.6 581.6L385.8 587.3L386 579.4L386.2 586.4L386.5 588L386.7 587.3L386.9 589.6L387.1 591.1L387.3 592.5L387.5 593.9L387.8 600.8L388 592.2L388.2 590.9L388.4 590L388.6 588.6L388.8 588.3L389.1 588.4L389.3 587.8L389.5 587.3L389.7 586.7L389.9 587.6L390.1 583.5L390.4 583.1L390.6 586.2L390.8 586.9L391 586.6L391.2 577.7L391.4 587.3L391.7 587.7L391.9 591.5L392.1 596.8L392.3 600.1L392.5 600.8L392.8 598.1L393 596.8L393.2 602.5L393.4 603.7L393.6 602.9L393.8 603L394.1 602L394.3 599.9L394.5 601L394.7 597.4L394.9 613.2L395.1 596.3L395.4 597.6L395.6 598.5L395.8 594.3L396 597.6L396.2 604.4L396.4 606.1L396.7 607.4L396.9 616.6L397.1 633.5L397.3 638.4L397.5 634.1L397.8 621.1L398 630.9L398.2 622.7L398.4 663L398.6 632.5L398.8 648.4L399.1 624.9L399.3 642.2L399.5 636.7L399.7 611L399.9 622.3L400.1 640L400.4 638.1L400.6 612.3L400.8 612.9L401 612.7L401.2 614.1L401.4 630.3L401.7 656.9L401.9 649.5L402.1 663L402.3 636L402.5 650.5L402.7 648L403 635.4L403.2 649.1L403.4 626.6L403.6 629.6L403.8 650.1L404.1 655.2L404.3 641L404.5 643.6L404.7 651L404.9 649.1L405.1 649.1L405.4 646.9L405.6 640.7L405.8 641.5L406 641.4L406.2 637.9L406.4 637.3L406.7 609.1L406.9 613.3L407.1 637.7L407.3 632.6L407.5 618.8L407.7 625.7L408 626.8L408.2 616.9L408.4 618L408.6 612.3L408.8 608.2L409 608.8L409.3 608.1L409.5 598.6L409.7 597.8L409.9 597.5L410.1 592.2L410.4 590.7L410.6 590.5L410.8 589.3L411 588.2L411.2 585.8L411.4 582.2L411.7 581.1L411.9 578.2L412.1 582.6L412.3 570.3L412.5 571.9L412.7 535L413 568.9L413.2 580.6L413.4 582.1L413.6 581.9L413.8 579.8L414 579.5L414.3 582.4L414.5 567L414.7 584L414.9 581.5L415.1 584L415.3 578.7L415.6 582.2L415.8 567.5L416 578.6L416.2 558L416.4 580.8L416.7 569L416.9 586.5L417.1 585L417.3 584.9L417.5 581.1L417.7 585.3L418 579.3L418.2 578.5L418.4 584.8L418.6 578L418.8 585.4L419 575.4L419.3 583.8L419.5 581.9L419.7 570.6L419.9 584.6L420.1 575.9L420.3 578.9L420.6 586.9L420.8 587L421 588.7L421.2 591.6L421.4 593.2L421.6 607.9L421.9 595.6L422.1 590.8L422.3 588.5L422.5 587.2L422.7 588L423 586.9L423.2 587.4L423.4 586L423.6 587.3L423.8 587.2L424 587.3L424.3 583.5L424.5 583.2L424.7 580.3L424.9 573.7L425.1 567.9L425.3 573.2L425.6 573.7L425.8 565.8L426 538.6L426.2 581.2L426.4 578.6L426.6 582.5L426.9 583.9L427.1 585.3L427.3 586.5L427.5 586.5L427.7 584.9L427.9 588.5L428.2 591L428.4 595.6L428.6 602.4L428.8 607.6L429 605.2L429.3 607.3L429.5 608.5L429.7 625.7L429.9 601.1L430.1 593.4L430.3 588.4L430.6 585.2L430.8 582.4L431 584.7L431.2 574L431.4 583.3L431.6 582L431.9 588.1L432.1 589.5L432.3 592L432.5 592.5L432.7 595.8L432.9 602.6L433.2 594.6L433.4 595.7L433.6 597.1L433.8 597.8L434 593.9L434.3 594.7L434.5 596.8L434.7 599L434.9 595.9L435.1 596.6L435.3 593.6L435.6 596L435.8 597.4L436 597.5L436.2 594.1L436.4 592.9L436.6 602.6L436.9 598.1L437.1 594.3L437.3 590.8L437.5 588.6L437.7 588.2L437.9 587.9L438.2 582.4L438.4 579.4L438.6 579.7L438.8 581.1L439 581.6L439.2 582L439.5 582.7L439.7 583.7L439.9 583.8L440.1 583.9L440.3 584.4L440.6 584.4L440.8 584.6L441 584.8L441.2 584.1L441.4 583L441.6 582.2L441.9 580.9L442.1 580L442.3 579.5L442.5 578.6L442.7 576.4L442.9 575.4L443.2 575L443.4 575.3L443.6 574.4L443.8 572.8L444 572.4L444.2 573L444.5 572.1L444.7 571.3L444.9 570.9L445.1 570.2L445.3 567.8L445.5 567L445.8 569.4L446 571.3L446.2 572.4L446.4 572.9L446.6 572.6L446.9 573.1L447.1 572.8L447.3 573.6L447.5 574.8L447.7 575.1L447.9 575.3L448.2 575.5L448.4 582.9" fill="none" stroke="#5048A8" stroke-opacity="0.55" stroke-width="0.6"/></g>
<g clip-path="url(#cNECBneg)"><path d="M56 588.7L56.2 559.6L56.4 559.8L56.7 560.5L56.9 561L57.1 562.2L57.3 563L57.5 562.3L57.7 562.5L58 563.9L58.2 564.2L58.4 564.2L58.6 566.1L58.8 566.6L59 565.9L59.3 566.9L59.5 567.6L59.7 567.7L59.9 567.7L60.1 568.1L60.3 568L60.6 566.7L60.8 565.5L61 566.5L61.2 566.9L61.4 565.7L61.6 565.2L61.9 565.7L62.1 565.2L62.3 565L62.5 566.5L62.7 567.3L63 566.5L63.2 566.1L63.4 566.4L63.6 568.4L63.8 568.7L64 569L64.3 569.3L64.5 568.4L64.7 568L64.9 568.5L65.1 567.6L65.3 567.8L65.6 568.2L65.8 568.5L66 569L66.2 570.5L66.4 569.8L66.6 570.3L66.9 571.8L67.1 571.4L67.3 571.2L67.5 571.2L67.7 572.1L67.9 572.3L68.2 572.2L68.4 572.6L68.6 571.8L68.8 571.7L69 571.6L69.3 571.7L69.5 570.8L69.7 570.8L69.9 570.9L70.1 571.1L70.3 571.6L70.6 572.5L70.8 574.7L71 574.7L71.2 576.2L71.4 578.3L71.6 580.1L71.9 581.2L72.1 583L72.3 583.9L72.5 585.1L72.7 586.6L72.9 587.8L73.2 588.2L73.4 588.4L73.6 588.7L73.8 595.2L74 601L74.2 591L74.5 588.7L74.7 588.7L74.9 588.7L75.1 588.5L75.3 588.2L75.6 587.6L75.8 586L76 584.4L76.2 583L76.4 581.7L76.6 580.7L76.9 579.8L77.1 579.2L77.3 578.5L77.5 577.4L77.7 577.6L77.9 577.6L78.2 575.6L78.4 574.3L78.6 573.2L78.8 572.7L79 571.8L79.2 575L79.5 575.3L79.7 577.2L79.9 579.8L80.1 580.4L80.3 579.3L80.6 578.9L80.8 578.1L81 576.6L81.2 582.8L81.4 589.3L81.6 595.9L81.9 602.7L82.1 604L82.3 601.6L82.5 596.3L82.7 597.6L82.9 607.3L83.2 607.1L83.4 612.1L83.6 615.8L83.8 618.2L84 618.9L84.2 618.7L84.5 612.1L84.7 605.2L84.9 624L85.1 604.2L85.3 601.7L85.5 603.5L85.8 607.3L86 607.7L86.2 600.3L86.4 595.6L86.6 598L86.9 599.9L87.1 599.6L87.3 599.6L87.5 596.4L87.7 598.5L87.9 604.4L88.2 605.5L88.4 606.8L88.6 578L88.8 603.6L89 605.3L89.2 608.4L89.5 610L89.7 610.8L89.9 616L90.1 606.1L90.3 599.6L90.5 601.8L90.8 602.7L91 605.4L91.2 605.4L91.4 609.5L91.6 609.9L91.8 607.6L92.1 605.6L92.3 603L92.5 599.9L92.7 599.2L92.9 580L93.2 600.4L93.4 600L93.6 598.5L93.8 595.1L94 596.8L94.2 592.7L94.5 590.6L94.7 588.9L94.9 566.5L95.1 554L95.3 571.9L95.5 575.9L95.8 560.8L96 542.6L96.2 583.2L96.4 584.1L96.6 585.6L96.8 584.5L97.1 576.5L97.3 579.1L97.5 577.4L97.7 565L97.9 560L98.1 581.5L98.4 579L98.6 577.6L98.8 581.4L99 573.5L99.2 574.6L99.5 576.9L99.7 585.1L99.9 578.6L100.1 579.4L100.3 585.5L100.5 583.3L100.8 573.2L101 583.4L101.2 583.9L101.4 574.4L101.6 576.7L101.8 556.4L102.1 546L102.3 583.9L102.5 586.4L102.7 574.8L102.9 575L103.1 585.9L103.4 585.3L103.6 583.1L103.8 580.3L104 587.1L104.2 577.9L104.4 580.8L104.7 583.1L104.9 564.3L105.1 559.6L105.3 578.3L105.5 583.3L105.8 574L106 584.1L106.2 582.7L106.4 579.9L106.6 581.9L106.8 584.6L107.1 588L107.3 587.4L107.5 587.2L107.7 587.6L107.9 588.6L108.1 588.7L108.4 588.7L108.6 588.7L108.8 588.7L109 588.7L109.2 588.8L109.4 589L109.7 589.2L109.9 589.3L110.1 589.3L110.3 589.6L110.5 589.8L110.7 590.3L111 592.1L111.2 595.2L111.4 594.6L111.6 597.6L111.8 598.1L112.1 597.6L112.3 605.2L112.5 609.6L112.7 599.1L112.9 602.1L113.1 597.6L113.4 594.3L113.6 595.9L113.8 601.9L114 604.5L114.2 604L114.4 609L114.7 602L114.9 598L115.1 595L115.3 590.4L115.5 563L115.7 563.4L116 563L116.2 565.1L116.4 564L116.6 565.3L116.8 567L117.1 567.7L117.3 569L117.5 569.6L117.7 570.8L117.9 571.6L118.1 572.1L118.4 570.3L118.6 571L118.8 571.2L119 570.4L119.2 569.6L119.4 569.1L119.7 569.1L119.9 566.8L120.1 567L120.3 567.8L120.5 568.3L120.7 568.5L121 569.1L121.2 570.1L121.4 570.2L121.6 569.2L121.8 568.8L122 568.4L122.3 569.1L122.5 567.7L122.7 566.8L122.9 567.8L123.1 568.4L123.4 567.4L123.6 566.3L123.8 565.2L124 565.5L124.2 566.1L124.4 564.3L124.7 563.4L124.9 563.6L125.1 566.3L125.3 565.8L125.5 565.1L125.7 563.7L126 562.9L126.2 561.7L126.4 561.4L126.6 561.3L126.8 561.7L127 561.8L127.3 560.6L127.5 559.6L127.7 559.8L127.9 559.6L128.1 559.2L128.3 560.2L128.6 561.8L128.8 563L129 563.4L129.2 564.2L129.4 564.7L129.7 562.9L129.9 562.6L130.1 563.2L130.3 562.4L130.5 562.6L130.7 564L131 565.3L131.2 564.5L131.4 562.2L131.6 561.5L131.8 561.4L132 562.4L132.3 564.9L132.5 565.5L132.7 564.3L132.9 563.7L133.1 563.6L133.3 564.5L133.6 565.5L133.8 566.7L134 566L134.2 566.5L134.4 566.6L134.6 567L134.9 568L135.1 582.8L135.3 583.3L135.5 584.4L135.7 581.2L136 583.5L136.2 585.5L136.4 583.9L136.6 580.8L136.8 570.9L137 571L137.3 584.5L137.5 583.5L137.7 584.4L137.9 585.6L138.1 583.8L138.3 584.2L138.6 580.8L138.8 587.2L139 586.5L139.2 587.7L139.4 582.4L139.6 584L139.9 585.7L140.1 587.1L140.3 583.7L140.5 586.3L140.7 583.7L140.9 587L141.2 586.6L141.4 586L141.6 586.6L141.8 587.4L142 584L142.3 585.7L142.5 587.6L142.7 583.3L142.9 582L143.1 587.5L143.3 586.2L143.6 587.4L143.8 587.6L144 583.9L144.2 585.8L144.4 587.7L144.6 586.7L144.9 587.8L145.1 586.8L145.3 587.3L145.5 587L145.7 586.7L145.9 585.7L146.2 586.8L146.4 585.6L146.6 586.8L146.8 586.9L147 582L147.2 583.3L147.5 583.5L147.7 587.8L147.9 587.1L148.1 587.4L148.3 588.1L148.6 588.2L148.8 588.4L149 588.7L149.2 590.1L149.4 590.6L149.6 591.3L149.9 592.1L150.1 595.3L150.3 598.2L150.5 594.2L150.7 596L150.9 601.3L151.2 604.8L151.4 605.6L151.6 600.8L151.8 599.1L152 608.7L152.2 600L152.5 599.9L152.7 602.2L152.9 600.7L153.1 599.2L153.3 598.4L153.5 598.4L153.8 594.7L154 596.9L154.2 600.8L154.4 608.5L154.6 609.2L154.9 606.4L155.1 612.4L155.3 595.4L155.5 602.4L155.7 602.8L155.9 597.6L156.2 600.3L156.4 602.2L156.6 598.8L156.8 609.3L157 614.3L157.2 612.2L157.5 610.8L157.7 611.1L157.9 620L158.1 608.6L158.3 609.4L158.5 576.6L158.8 601.3L159 594.7L159.2 594.1L159.4 598.4L159.6 602.1L159.9 608.4L160.1 609.1L160.3 621.2L160.5 617.8L160.7 622L160.9 642.7L161.2 624.3L161.4 633.7L161.6 626.3L161.8 612.3L162 609L162.2 624.4L162.5 623.7L162.7 615.7L162.9 612.6L163.1 604.6L163.3 603.5L163.5 607.6L163.8 619.3L164 620.6L164.2 616.1L164.4 627L164.6 629.9L164.8 628.7L165.1 630.5L165.3 622.8L165.5 622.4L165.7 627.9L165.9 638.9L166.2 627.1L166.4 616.8L166.6 626.9L166.8 615.4L167 609.4L167.2 606.6L167.5 621L167.7 625.7L167.9 624.5L168.1 620L168.3 604.1L168.5 604.8L168.8 608.2L169 612.2L169.2 627.5L169.4 626.5L169.6 624.2L169.8 624.2L170.1 638L170.3 606.8L170.5 609.2L170.7 619.6L170.9 620.5L171.1 620.3L171.4 616.9L171.6 602.6L171.8 602.4L172 603.7L172.2 598.4L172.5 600.9L172.7 606.8L172.9 605.7L173.1 603.2L173.3 599.1L173.5 596.9L173.8 596.4L174 593.6L174.2 592.6L174.4 591.2L174.6 589.2L174.8 587.3L175.1 585.8L175.3 577.9L175.5 581.1L175.7 567.6L175.9 577.9L176.1 579.7L176.4 575.1L176.6 581.7L176.8 550L177 540.7L177.2 577.1L177.4 561L177.7 563.2L177.9 576.7L178.1 586.1L178.3 576.3L178.5 582.7L178.8 578.8L179 581.6L179.2 584.4L179.4 588.3L179.6 590.2L179.8 594.6L180.1 601L180.3 593.8L180.5 588.9L180.7 587.3L180.9 588.2L181.1 583.5L181.4 585.8L181.6 585.6L181.8 584.2L182 577.5L182.2 582.2L182.4 584.9L182.7 577.4L182.9 567.6L183.1 555.8L183.3 575.5L183.5 585.5L183.7 591L184 599.9L184.2 610.6L184.4 596.6L184.6 588.4L184.8 585.2L185.1 582L185.3 583.6L185.5 583.4L185.7 580.6L185.9 567L186.1 581.5L186.4 582.3L186.6 589.5L186.8 591.6L187 595L187.2 591.8L187.4 589.3L187.7 588.3L187.9 584L188.1 581.4L188.3 583.4L188.5 575.9L188.7 584.4L189 569L189.2 586.6L189.4 584.6L189.6 590L189.8 592.7L190 599L190.3 597.2L190.5 598.7L190.7 603.2L190.9 607.2L191.1 600.6L191.4 604.2L191.6 609.4L191.8 620L192 604.4L192.2 595.9L192.4 590.3L192.7 586.8L192.9 586.5L193.1 582L193.3 582.5L193.5 583.2L193.7 581.9L194 582L194.2 584.5L194.4 587.5L194.6 586.5L194.8 588.2L195 588.8L195.3 589.5L195.5 591.9L195.7 594.7L195.9 597.3L196.1 595.6L196.4 591.7L196.6 589.8L196.8 589.3L197 588.7L197.2 587.5L197.4 588L197.7 585.1L197.9 587L198.1 578L198.3 585.6L198.5 579.3L198.7 585.1L199 578.8L199.2 586.5L199.4 578.9L199.6 578.5L199.8 577.6L200 583.2L200.3 587L200.5 583.4L200.7 579L200.9 578.3L201.1 584.5L201.3 579.1L201.6 577.1L201.8 583.3L202 581.9L202.2 577.5L202.4 583.2L202.7 578.3L202.9 575.5L203.1 577.5L203.3 583.3L203.5 575L203.7 583.7L204 583.6L204.2 576.2L204.4 581.1L204.6 584.8L204.8 572.2L205 581.1L205.3 573.1L205.5 582.2L205.7 580.6L205.9 580.8L206.1 584.8L206.3 580.4L206.6 571.5L206.8 572.3L207 571L207.2 573L207.4 583.1L207.6 585.3L207.9 576.4L208.1 581.2L208.3 577.8L208.5 575.9L208.7 583.6L209 583.3L209.2 580L209.4 586.1L209.6 577.3L209.8 574.9L210 584.6L210.3 580.3L210.5 573L210.7 579.3L210.9 570L211.1 572.6L211.3 580.2L211.6 582L211.8 584.3L212 576.1L212.2 584.9L212.4 574.7L212.6 573.6L212.9 586.4L213.1 574.6L213.3 576.5L213.5 575.7L213.7 582.8L213.9 582L214.2 585.6L214.4 575.2L214.6 574.7L214.8 583.8L215 571L215.3 585.1L215.5 584.3L215.7 572.9L215.9 583.9L216.1 584.7L216.3 581.4L216.6 579.1L216.8 573.4L217 575L217.2 570.1L217.4 573.3L217.6 584.2L217.9 572.6L218.1 572.3L218.3 568.4L218.5 569.5L218.7 579.8L218.9 568L219.2 572.7L219.4 567.7L219.6 580.7L219.8 583.7L220 584.5L220.2 580.7L220.5 579.1L220.7 585L220.9 582.5L221.1 585.1L221.3 584.9L221.6 582.8L221.8 573.3L222 581.7L222.2 572.4L222.4 575.4L222.6 577.3L222.9 574.1L223.1 586.3L223.3 584.9L223.5 577.7L223.7 580.8L223.9 586.6L224.2 580.8L224.4 585.8L224.6 581.6L224.8 582.7L225 584.2L225.2 584.9L225.5 587L225.7 588L225.9 588.5L226.1 588.9L226.3 589.6L226.5 589.9L226.8 590L227 591.1L227.2 592.3L227.4 591.2L227.6 591.5L227.9 592.8L228.1 597L228.3 596.1L228.5 595.2L228.7 593.6L228.9 592.4L229.2 590.8L229.4 591.8L229.6 591.3L229.8 591.4L230 597L230.2 593L230.5 593.8L230.7 593.1L230.9 591.6L231.1 593.2L231.3 601.7L231.5 609.7L231.8 618.5L232 606.3L232.2 602.7L232.4 614.6L232.6 637.1L232.8 635.5L233.1 629.4L233.3 635.9L233.5 636.1L233.7 631.9L233.9 622.9L234.2 626.5L234.4 626.9L234.6 615.8L234.8 612.9L235 644.6L235.2 639.9L235.5 639L235.7 637L235.9 640.1L236.1 640.6L236.3 636L236.5 634.3L236.8 632.5L237 625.3L237.2 625.6L237.4 632.6L237.6 635.5L237.8 633.6L238.1 630.9L238.3 624.3L238.5 644.6L238.7 627.8L238.9 611.7L239.2 602.7L239.4 606.2L239.6 604L239.8 607.5L240 617.2L240.2 620.5L240.5 646.4L240.7 616L240.9 627.1L241.1 637.7L241.3 639.6L241.5 636.7L241.8 629.3L242 623.8L242.2 624.4L242.4 626L242.6 615.3L242.8 615L243.1 567L243.3 613.6L243.5 618L243.7 624.6L243.9 617.8L244.1 629.4L244.4 620.1L244.6 618.5L244.8 614.9L245 612.2L245.2 612.8L245.5 603L245.7 605.3L245.9 605L246.1 625.7L246.3 601.9L246.5 600.8L246.8 607.1L247 609.5L247.2 611.5L247.4 614.3L247.6 618.3L247.8 605L248.1 627.5L248.3 604.3L248.5 612L248.7 617.9L248.9 615.5L249.1 610.6L249.4 618L249.6 619.9L249.8 621.9L250 617L250.2 614.4L250.4 608L250.7 602.5L250.9 602.5L251.1 599.9L251.3 606.5L251.5 608.6L251.8 616.2L252 606.2L252.2 601.2L252.4 603.4L252.6 599.7L252.8 601.4L253.1 597.5L253.3 600.8L253.5 600.4L253.7 610.6L253.9 595.2L254.1 592.3L254.4 591.5L254.6 591L254.8 589.8L255 571L255.2 570.5L255.4 544.4L255.7 561.8L255.9 581.8L256.1 584.6L256.3 578.1L256.5 580.6L256.7 581.4L257 583.3L257.2 577.9L257.4 571L257.6 578.4L257.8 586.2L258.1 588.9L258.3 589.7L258.5 591.1L258.7 592.2L258.9 593.3L259.1 594.4L259.4 594.6L259.6 592.4L259.8 593.9L260 596.6L260.2 595.2L260.4 596.6L260.7 599.5L260.9 601.5L261.1 602.4L261.3 602.4L261.5 601.1L261.7 602.9L262 602.9L262.2 602.6L262.4 605.3L262.6 604.1L262.8 601.5L263 607.7L263.3 603.1L263.5 600.9L263.7 595.9L263.9 580L264.1 595.2L264.4 593.8L264.6 594.3L264.8 601L265 599.2L265.2 599.6L265.4 601.3L265.7 600.3L265.9 599.4L266.1 596.1L266.3 598.8L266.5 600.2L266.7 606.8L267 600.4L267.2 594.5L267.4 593.6L267.6 594.8L267.8 600L268 559.6L268.3 596.7L268.5 592.2L268.7 591.8L268.9 593L269.1 595.4L269.3 596.6L269.6 599.6L269.8 598.4L270 595.7L270.2 597L270.4 602.1L270.7 609.6L270.9 606.2L271.1 572.8L271.3 604.6L271.5 600.6L271.7 597.3L272 599L272.2 602.9L272.4 602.8L272.6 569L272.8 601.8L273 598.6L273.3 594.1L273.5 594.1L273.7 605.6L273.9 606.2L274.1 600.3L274.3 607.7L274.6 595.3L274.8 596.9L275 591.4L275.2 590.9L275.4 590.1L275.7 588.5L275.9 588.2L276.1 587.2L276.3 586.1L276.5 587.5L276.7 587L277 587.8L277.2 586.9L277.4 586.8L277.6 586L277.8 583.2L278 583.9L278.3 582L278.5 586.4L278.7 584.7L278.9 587.7L279.1 587.2L279.3 585.4L279.6 587.6L279.8 586.6L280 582L280.2 583.7L280.4 584.8L280.6 588L280.9 587L281.1 588.1L281.3 586.2L281.5 586.2L281.7 580.4L282 584.7L282.2 578.6L282.4 577.9L282.6 577.9L282.8 577.8L283 576.9L283.3 576.1L283.5 575.3L283.7 575.2L283.9 575L284.1 574.5L284.3 574.4L284.6 574.7L284.8 574.5L285 572.9L285.2 573.8L285.4 573.2L285.6 571.9L285.9 571.6L286.1 571.4L286.3 571.1L286.5 570.9L286.7 570.8L286.9 570.6L287.2 571.6L287.4 571.8L287.6 571.9L287.8 570.4L288 567.7L288.3 565.5L288.5 565.5L288.7 563.3L288.9 564.8L289.1 565.4L289.3 566.4L289.6 567.7L289.8 569.6L290 571.3L290.2 572.3L290.4 573.7L290.6 573.9L290.9 573.3L291.1 572.9L291.3 572.8L291.5 572.2L291.7 571L291.9 570.8L292.2 570.9L292.4 571L292.6 574.1L292.8 574.9L293 575.7L293.2 577.1L293.5 578.2L293.7 579L293.9 580.6L294.1 582.2L294.3 581.9L294.6 580.7L294.8 579.4L295 578.4L295.2 576.9L295.4 575L295.6 574.2L295.9 573.7L296.1 571L296.3 571.6L296.5 571.2L296.7 571.4L296.9 572.5L297.2 573.1L297.4 571.9L297.6 572.2L297.8 572.6L298 573.2L298.2 574L298.5 573.7L298.7 572.9L298.9 572.5L299.1 573.8L299.3 574.4L299.5 572.8L299.8 573.1L300 573.1L300.2 573.5L300.4 574L300.6 574.4L300.9 575L301.1 575.7L301.3 577.1L301.5 576.8L301.7 577.2L301.9 578L302.2 578.1L302.4 578.6L302.6 579.4L302.8 579.8L303 580.1L303.2 580.4L303.5 580.8L303.7 581L303.9 581.6L304.1 581.8L304.3 582L304.5 582L304.8 581.9L305 582.1L305.2 582.4L305.4 583.2L305.6 584.2L305.8 585.5L306.1 586.4L306.3 587.4L306.5 587.9L306.7 588.5L306.9 588.9L307.2 589.4L307.4 589.8L307.6 589.7L307.8 590.1L308 590.1L308.2 589.9L308.5 590.5L308.7 591.3L308.9 592.7L309.1 592.5L309.3 593.8L309.5 593.7L309.8 594.8L310 582L310.2 595.2L310.4 596.2L310.6 597.1L310.8 597.9L311.1 598.5L311.3 595.8L311.5 592.5L311.7 592.4L311.9 594.9L312.1 601.5L312.4 602.8L312.6 602.2L312.8 608.7L313 598.4L313.2 599.6L313.5 599.2L313.7 595.3L313.9 597.5L314.1 594.5L314.3 594.9L314.5 594.5L314.8 593.7L315 592.6L315.2 592.4L315.4 593.1L315.6 580L315.8 596.7L316.1 594.5L316.3 592.3L316.5 591.8L316.7 591.6L316.9 592.5L317.1 596.2L317.4 600.8L317.6 598.3L317.8 601.8L318 602.2L318.2 610.1L318.5 619.3L318.7 623.5L318.9 622.8L319.1 618.7L319.3 638.9L319.5 623.6L319.8 628L320 629.7L320.2 616.8L320.4 609.9L320.6 618.4L320.8 608.8L321.1 606L321.3 609.1L321.5 622.9L321.7 612.6L321.9 603.9L322.1 624.9L322.4 631L322.6 630.2L322.8 619.3L323 618.5L323.2 624.4L323.4 627.1L323.7 619.5L323.9 612.7L324.1 627.6L324.3 627.2L324.5 611.1L324.8 616.5L325 582L325.2 630.3L325.4 636.2L325.6 639.3L325.8 636.4L326.1 644.6L326.3 613.7L326.5 634L326.7 641.2L326.9 640.5L327.1 632.2L327.4 629.8L327.6 637.2L327.8 636.6L328 632.5L328.2 628.1L328.4 618.5L328.7 621.7L328.9 613.9L329.1 615.7L329.3 616.4L329.5 608.1L329.7 580L330 606.9L330.2 620.4L330.4 620.2L330.6 618.9L330.8 627.6L331.1 632.6L331.3 631L331.5 617.8L331.7 638.9L331.9 615.2L332.1 607.3L332.4 605.1L332.6 610.5L332.8 616.9L333 628.5L333.2 621.2L333.4 612.4L333.7 615.7L333.9 621.2L334.1 609.1L334.3 605.1L334.5 603.3L334.7 605.3L335 608.2L335.2 608.2L335.4 599.2L335.6 602.5L335.8 604.3L336 598.5L336.3 594.8L336.5 578L336.7 590.6L336.9 590.6L337.1 589.4L337.4 553.9L337.6 589.3L337.8 590.3L338 591.5L338.2 592.8L338.4 593.6L338.7 593.3L338.9 593.2L339.1 592.2L339.3 596.2L339.5 597.8L339.7 599.6L340 600.5L340.2 598.5L340.4 597.1L340.6 594.8L340.8 594.3L341 606.8L341.3 599.7L341.5 597.7L341.7 601.8L341.9 561.4L342.1 600.5L342.3 595.5L342.6 594.3L342.8 600.1L343 601.1L343.2 599.6L343.4 598.6L343.7 599.7L343.9 600.7L344.1 598.1L344.3 597L344.5 603.2L344.7 599.7L345 602.5L345.2 607.9L345.4 609.6L345.6 606.3L345.8 629.4L346 624.2L346.3 622.2L346.5 619L346.7 601.1L346.9 597.6L347.1 606.7L347.3 616.1L347.6 615L347.8 607.1L348 606.4L348.2 604.8L348.4 597.9L348.6 599L348.9 605.3L349.1 614.2L349.3 612.2L349.5 617.2L349.7 611.1L350 605.6L350.2 620.7L350.4 614.3L350.6 625.7L350.8 622.6L351 609.6L351.3 603.9L351.5 613.3L351.7 608.1L351.9 598.9L352.1 598L352.3 602.1L352.6 606.7L352.8 604.2L353 606.1L353.2 606.3L353.4 605.3L353.6 604.1L353.9 602.1L354.1 596L354.3 599.3L354.5 600.2L354.7 597.8L355 594.8L355.2 594.4L355.4 595.8L355.6 598.9L355.8 597.3L356 598L356.3 612.4L356.5 606.3L356.7 603.6L356.9 604.5L357.1 607.1L357.3 603.7L357.6 602.2L357.8 598.1L358 600.4L358.2 599.9L358.4 596.9L358.6 593.1L358.9 590.9L359.1 590.1L359.3 590.1L359.5 590L359.7 589.4L359.9 588.8L360.2 587.7L360.4 586.4L360.6 585L360.8 583.9L361 582.7L361.3 580.7L361.5 579.5L361.7 578.9L361.9 577.8L362.1 577.1L362.3 576.5L362.6 575.5L362.8 573.8L363 572.9L363.2 572.7L363.4 571.6L363.6 571L363.9 571.9L364.1 572.1L364.3 570.3L364.5 569.3L364.7 568.8L364.9 568.4L365.2 568.2L365.4 567.9L365.6 569.1L365.8 568.8L366 568L366.2 567L366.5 568.1L366.7 569.5L366.9 568L367.1 568.1L367.3 567.4L367.6 567.8L367.8 566.9L368 566.1L368.2 566.3L368.4 566.4L368.6 564.4L368.9 564.1L369.1 564.2L369.3 563.6L369.5 563.3L369.7 561.8L369.9 561.8L370.2 561.9L370.4 561.4L370.6 565.1L370.8 566.9L371 567.4L371.2 568.3L371.5 568.7L371.7 569.8L371.9 571.3L372.1 570.7L372.3 570.6L372.5 571L372.8 572.2L373 573.3L373.2 572.9L373.4 572.3L373.6 571.3L373.9 571L374.1 569.1L374.3 568.1L374.5 565.7L374.7 564.3L374.9 563.5L375.2 563.3L375.4 565.8L375.6 565.6L375.8 564.1L376 564.2L376.2 564.6L376.5 564.7L376.7 564.5L376.9 564.4L377.1 565L377.3 567L377.5 569.2L377.8 571.2L378 572.3L378.2 572.6L378.4 572.8L378.6 572.2L378.8 572L379.1 573.3L379.3 574.1L379.5 574.4L379.7 574.5L379.9 575.7L380.2 576.7L380.4 578.1L380.6 579.5L380.8 581L381 582.6L381.2 584.1L381.5 585.5L381.7 586.8L381.9 587.6L382.1 588.4L382.3 589L382.5 589.5L382.8 589.9L383 590.8L383.2 593.7L383.4 591.5L383.6 591.1L383.8 589.6L384.1 588.6L384.3 587.4L384.5 586.9L384.7 587.3L384.9 586.5L385.1 583.4L385.4 585.5L385.6 581.6L385.8 587.3L386 579.4L386.2 586.4L386.5 588L386.7 587.3L386.9 589.6L387.1 591.1L387.3 592.5L387.5 593.9L387.8 600.8L388 592.2L388.2 590.9L388.4 590L388.6 588.6L388.8 588.3L389.1 588.4L389.3 587.8L389.5 587.3L389.7 586.7L389.9 587.6L390.1 583.5L390.4 583.1L390.6 586.2L390.8 586.9L391 586.6L391.2 577.7L391.4 587.3L391.7 587.7L391.9 591.5L392.1 596.8L392.3 600.1L392.5 600.8L392.8 598.1L393 596.8L393.2 602.5L393.4 603.7L393.6 602.9L393.8 603L394.1 602L394.3 599.9L394.5 601L394.7 597.4L394.9 613.2L395.1 596.3L395.4 597.6L395.6 598.5L395.8 594.3L396 597.6L396.2 604.4L396.4 606.1L396.7 607.4L396.9 616.6L397.1 633.5L397.3 638.4L397.5 634.1L397.8 621.1L398 630.9L398.2 622.7L398.4 663L398.6 632.5L398.8 648.4L399.1 624.9L399.3 642.2L399.5 636.7L399.7 611L399.9 622.3L400.1 640L400.4 638.1L400.6 612.3L400.8 612.9L401 612.7L401.2 614.1L401.4 630.3L401.7 656.9L401.9 649.5L402.1 663L402.3 636L402.5 650.5L402.7 648L403 635.4L403.2 649.1L403.4 626.6L403.6 629.6L403.8 650.1L404.1 655.2L404.3 641L404.5 643.6L404.7 651L404.9 649.1L405.1 649.1L405.4 646.9L405.6 640.7L405.8 641.5L406 641.4L406.2 637.9L406.4 637.3L406.7 609.1L406.9 613.3L407.1 637.7L407.3 632.6L407.5 618.8L407.7 625.7L408 626.8L408.2 616.9L408.4 618L408.6 612.3L408.8 608.2L409 608.8L409.3 608.1L409.5 598.6L409.7 597.8L409.9 597.5L410.1 592.2L410.4 590.7L410.6 590.5L410.8 589.3L411 588.2L411.2 585.8L411.4 582.2L411.7 581.1L411.9 578.2L412.1 582.6L412.3 570.3L412.5 571.9L412.7 535L413 568.9L413.2 580.6L413.4 582.1L413.6 581.9L413.8 579.8L414 579.5L414.3 582.4L414.5 567L414.7 584L414.9 581.5L415.1 584L415.3 578.7L415.6 582.2L415.8 567.5L416 578.6L416.2 558L416.4 580.8L416.7 569L416.9 586.5L417.1 585L417.3 584.9L417.5 581.1L417.7 585.3L418 579.3L418.2 578.5L418.4 584.8L418.6 578L418.8 585.4L419 575.4L419.3 583.8L419.5 581.9L419.7 570.6L419.9 584.6L420.1 575.9L420.3 578.9L420.6 586.9L420.8 587L421 588.7L421.2 591.6L421.4 593.2L421.6 607.9L421.9 595.6L422.1 590.8L422.3 588.5L422.5 587.2L422.7 588L423 586.9L423.2 587.4L423.4 586L423.6 587.3L423.8 587.2L424 587.3L424.3 583.5L424.5 583.2L424.7 580.3L424.9 573.7L425.1 567.9L425.3 573.2L425.6 573.7L425.8 565.8L426 538.6L426.2 581.2L426.4 578.6L426.6 582.5L426.9 583.9L427.1 585.3L427.3 586.5L427.5 586.5L427.7 584.9L427.9 588.5L428.2 591L428.4 595.6L428.6 602.4L428.8 607.6L429 605.2L429.3 607.3L429.5 608.5L429.7 625.7L429.9 601.1L430.1 593.4L430.3 588.4L430.6 585.2L430.8 582.4L431 584.7L431.2 574L431.4 583.3L431.6 582L431.9 588.1L432.1 589.5L432.3 592L432.5 592.5L432.7 595.8L432.9 602.6L433.2 594.6L433.4 595.7L433.6 597.1L433.8 597.8L434 593.9L434.3 594.7L434.5 596.8L434.7 599L434.9 595.9L435.1 596.6L435.3 593.6L435.6 596L435.8 597.4L436 597.5L436.2 594.1L436.4 592.9L436.6 602.6L436.9 598.1L437.1 594.3L437.3 590.8L437.5 588.6L437.7 588.2L437.9 587.9L438.2 582.4L438.4 579.4L438.6 579.7L438.8 581.1L439 581.6L439.2 582L439.5 582.7L439.7 583.7L439.9 583.8L440.1 583.9L440.3 584.4L440.6 584.4L440.8 584.6L441 584.8L441.2 584.1L441.4 583L441.6 582.2L441.9 580.9L442.1 580L442.3 579.5L442.5 578.6L442.7 576.4L442.9 575.4L443.2 575L443.4 575.3L443.6 574.4L443.8 572.8L444 572.4L444.2 573L444.5 572.1L444.7 571.3L444.9 570.9L445.1 570.2L445.3 567.8L445.5 567L445.8 569.4L446 571.3L446.2 572.4L446.4 572.9L446.6 572.6L446.9 573.1L447.1 572.8L447.3 573.6L447.5 574.8L447.7 575.1L447.9 575.3L448.2 575.5L448.4 582.9" fill="none" stroke="#3A9090" stroke-opacity="0.3" stroke-width="0.6"/></g>
<path d="M56 737.1L56 737.1L56.2 717.9L56.4 703.7L56.7 700L56.9 699.8L57.1 691.9L57.3 698.8L57.5 695.5L57.7 688.9L58 692.4L58.2 694L58.4 693.3L58.6 697.4L58.8 704.1L59 703.3L59.3 707.7L59.5 708.7L59.7 708.2L59.9 708.5L60.1 707.1L60.3 704.9L60.6 702.3L60.8 703.9L61 702.9L61.2 700.6L61.4 701.1L61.6 705.7L61.9 703L62.1 705L62.3 705.7L62.5 700.2L62.7 705.3L63 706.5L63.2 710.2L63.4 708.9L63.6 709.9L63.8 710.6L64 712.5L64.3 713.1L64.5 710.9L64.7 709.9L64.9 708.5L65.1 707.8L65.3 708.9L65.6 709L65.8 712.7L66 716.5L66.2 714.4L66.4 713.7L66.6 710.7L66.9 709.9L67.1 713L67.3 707.8L67.5 708.3L67.7 707.7L67.9 708.1L68.2 708.1L68.4 711.5L68.6 711.3L68.8 711.5L69 712.5L69.3 710.9L69.5 713.8L69.7 715.6L69.9 714L70.1 707.8L70.3 712.2L70.6 715.2L70.8 718.7L71 719.6L71.2 722.5L71.4 726.6L71.6 730.3L71.9 733.5L72.1 736.3L72.3 736.7L72.5 737.2L72.7 738.5L72.9 742L73.2 745L73.4 746.1L73.6 749.7L73.8 760.7L74 749.6L74.2 754.2L74.5 753.7L74.7 752.8L74.9 750.6L75.1 745.3L75.3 745.9L75.6 743.7L75.8 739.1L76 738.7L76.2 740.7L76.4 739L76.6 746.2L76.9 749.1L77.1 749.8L77.3 740.8L77.5 745.1L77.7 744.7L77.9 748.5L78.2 754.6L78.4 754.1L78.6 730.5L78.8 743.5L79 747.4L79.2 749.6L79.5 749L79.7 763L79.9 763.1L80.1 760.6L80.3 749.7L80.6 745.6L80.8 757.8L81 757.7L81.2 758.3L81.4 752.4L81.6 756.1L81.9 747.8L82.1 763.9L82.3 767.3L82.5 768.2L82.7 749.3L82.9 749.5L83.2 752.2L83.4 750.3L83.6 748.8L83.8 747.1L84 747.7L84.2 743.1L84.5 739.2L84.7 739.2L84.9 740.5L85.1 743.5L85.3 743.5L85.5 745.4L85.8 746.9L86 744.7L86.2 705.9L86.4 748.3L86.6 748.9L86.9 752.8L87.1 753.1L87.3 759.1L87.5 763.8L87.7 766.3L87.9 769.1L88.2 769.1L88.4 782.9L88.6 778.9L88.8 753L89 802.2L89.2 794.9L89.5 786.9L89.7 784L89.9 779.7L90.1 776.8L90.3 774L90.5 771.1L90.8 766.3L91 757.1L91.2 743.7L91.4 743.4L91.6 747.7L91.8 750.9L92.1 752.4L92.3 748.9L92.5 741.7L92.7 743.1L92.9 748.6L93.2 747.7L93.4 742L93.6 741.3L93.8 744L94 743.6L94.2 742.5L94.5 741.2L94.7 738.1L94.9 738.1L95.1 738.1L95.3 737.1L95.5 675.7L95.8 737.6L96 737.8L96.2 738.4L96.4 741L96.6 741.3L96.8 739.7L97.1 739.9L97.3 743.9L97.5 726.7L97.7 741.8L97.9 743.1L98.1 747.2L98.4 746.6L98.6 739.8L98.8 739.5L99 743.2L99.2 743.9L99.5 692.7L99.7 752.2L99.9 758.2L100.1 751.6L100.3 783.3L100.5 781.4L100.8 781.5L101 780L101.2 779.5L101.4 777.5L101.6 772.9L101.8 757.9L102.1 753.6L102.3 759.4L102.5 753.1L102.7 749.5L102.9 751L103.1 749.8L103.4 743.8L103.6 742.2L103.8 745.4L104 742.4L104.2 745.8L104.4 748.2L104.7 741.4L104.9 739.9L105.1 717.2L105.3 742.2L105.5 743.9L105.8 750.3L106 753.8L106.2 750.7L106.4 755.1L106.6 746.8L106.8 750.6L107.1 750.3L107.3 752.3L107.5 756.7L107.7 753.8L107.9 787.1L108.1 782.1L108.4 775.3L108.6 761.7L108.8 762.5L109 763.5L109.2 758.8L109.4 745.9L109.7 752.7L109.9 752L110.1 752.7L110.3 759.5L110.5 758L110.7 754.6L111 751L111.2 747.8L111.4 749.2L111.6 754.2L111.8 754.3L112.1 754.3L112.3 755.1L112.5 754.6L112.7 753.9L112.9 752L113.1 746.6L113.4 744.7L113.6 744.3L113.8 739.8L114 741.4L114.2 746L114.4 745.4L114.7 739.8L114.9 743.6L115.1 742.1L115.3 742L115.5 740.7L115.7 738.3L116 737.2L116.2 737.1L116.4 737.1L116.6 737.1L116.8 737.1L117.1 737.1L117.3 728.6L117.5 737.1L117.7 737.1L117.9 737.1L118.1 736.6L118.4 736L118.6 735.1L118.8 733.9L119 733.2L119.2 732.2L119.4 732.6L119.7 732.3L119.9 731.6L120.1 732L120.3 731.6L120.5 730.1L120.7 729.5L121 729.8L121.2 728.9L121.4 727.7L121.6 727.5L121.8 725.5L122 725.4L122.3 725.2L122.5 721.8L122.7 719.5L122.9 720.5L123.1 720.7L123.4 717.5L123.6 716.3L123.8 716.4L124 716.5L124.2 716.9L124.4 712.5L124.7 709.2L124.9 711L125.1 710.3L125.3 707.3L125.5 705.1L125.7 703.4L126 704.1L126.2 706.9L126.4 703.1L126.6 707.7L126.8 708.1L127 703.5L127.3 704L127.5 708.7L127.7 702.1L127.9 706.2L128.1 704L128.3 707.6L128.6 705.7L128.8 708.2L129 711.6L129.2 714.2L129.4 713.2L129.7 709.5L129.9 707.9L130.1 705.6L130.3 706.8L130.5 709L130.7 704.3L131 704.1L131.2 703.7L131.4 705.1L131.6 696.4L131.8 706.9L132 702.6L132.3 702.1L132.5 705.1L132.7 706.9L132.9 708.1L133.1 708.1L133.3 706.8L133.6 705.4L133.8 705.6L134 706.9L134.2 703.7L134.4 702.6L134.6 706.8L134.9 710.7L135.1 710.8L135.3 709.7L135.5 703.1L135.7 701.4L136 702.8L136.2 700.7L136.4 699.6L136.6 701.7L136.8 698.3L137 703.1L137.3 708.4L137.5 705.2L137.7 702.4L137.9 707.6L138.1 712.4L138.3 709.9L138.6 712.2L138.8 717.6L139 715.5L139.2 714.3L139.4 715.5L139.6 713.4L139.9 717.8L140.1 717.5L140.3 718.1L140.5 721.3L140.7 723.3L140.9 721.2L141.2 717.5L141.4 715.9L141.6 715L141.8 716.3L142 715.5L142.3 718.9L142.5 718.9L142.7 713.4L142.9 717.8L143.1 719.3L143.3 720.6L143.6 724.2L143.8 722.8L144 720.1L144.2 720.3L144.4 715.3L144.6 717.4L144.9 719.1L145.1 719.8L145.3 721.6L145.5 726.7L145.7 727.3L145.9 726L146.2 724.6L146.4 727.6L146.6 728.5L146.8 728.2L147 728.6L147.2 729L147.5 730.3L147.7 730.2L147.9 732.5L148.1 734.3L148.3 735.1L148.6 735.6L148.8 736.4L149 737.1L149.2 737.5L149.4 738.4L149.6 739L149.9 738.7L150.1 738.6L150.3 740.3L150.5 743.4L150.7 744.9L150.9 744.6L151.2 745.3L151.4 748.1L151.6 748L151.8 742.4L152 741.4L152.2 740.5L152.5 746L152.7 754.3L152.9 764.4L153.1 759.5L153.3 745.4L153.5 741L153.8 743.1L154 751.4L154.2 753L154.4 747.1L154.6 744.4L154.9 744.9L155.1 741.9L155.3 741.8L155.5 745.6L155.7 746.2L155.9 741L156.2 738.7L156.4 738.9L156.6 739.7L156.8 742L157 745L157.2 746.7L157.5 752.4L157.7 749.2L157.9 745.8L158.1 746L158.3 749.8L158.5 768.2L158.8 763.2L159 764.6L159.2 761.7L159.4 748.2L159.6 722.9L159.9 743.4L160.1 752.2L160.3 752.4L160.5 747L160.7 755.4L160.9 752L161.2 755.6L161.4 790.9L161.6 768.6L161.8 761.1L162 763.3L162.2 756.2L162.5 749.9L162.7 753.7L162.9 768.2L163.1 760.1L163.3 751.7L163.5 758.2L163.8 763.6L164 761.9L164.2 755.1L164.4 743.7L164.6 749.7L164.8 750.2L165.1 742.3L165.3 751.4L165.5 759.2L165.7 757L165.9 756.7L166.2 763.7L166.4 771.7L166.6 769.9L166.8 753.7L167 779.6L167.2 757L167.5 751.9L167.7 751.6L167.9 748.2L168.1 755L168.3 749.5L168.5 753.7L168.8 761.4L169 751L169.2 745.4L169.4 746.4L169.6 751.8L169.8 766.1L170.1 767.3L170.3 763.4L170.5 771.8L170.7 773.6L170.9 775.8L171.1 751.5L171.4 748.1L171.6 744.3L171.8 743.3L172 756.5L172.2 758.9L172.5 748.5L172.7 752.6L172.9 728.6L173.1 754.7L173.3 752.1L173.5 746.5L173.8 741.8L174 743.5L174.2 754.7L174.4 758L174.6 768.2L174.8 762L175.1 753.4L175.3 750.5L175.5 757.7L175.7 756L175.9 760.5L176.1 762.3L176.4 760.6L176.6 748.9L176.8 755.6L177 748.7L177.2 741.8L177.4 745.8L177.7 744.8L177.9 746.2L178.1 750.1L178.3 688.9L178.5 771.8L178.8 760.5L179 763.9L179.2 772.4L179.4 773.5L179.6 776.5L179.8 776.2L180.1 777.8L180.3 790.9L180.5 748.6L180.7 776L180.9 781.5L181.1 767.1L181.4 750.9L181.6 752.8L181.8 759.9L182 759.7L182.2 730.5L182.4 760L182.7 752.4L182.9 759.2L183.1 772.2L183.3 756.2L183.5 754.1L183.7 765.8L184 770.9L184.2 798.4L184.4 776.5L184.6 759.5L184.8 749.9L185.1 750.3L185.3 755.9L185.5 765L185.7 745.2L185.9 747.1L186.1 754.9L186.4 750.5L186.6 742.5L186.8 745.1L187 719.1L187.2 746.1L187.4 758L187.7 759.3L187.9 760.6L188.1 752.3L188.3 746.3L188.5 761.1L188.7 756.1L189 751.5L189.2 762L189.4 764.4L189.6 763.3L189.8 762.7L190 754.9L190.3 762.3L190.5 773.2L190.7 780.8L190.9 788L191.1 786.9L191.4 771.2L191.6 755.6L191.8 794.7L192 764.4L192.2 772L192.4 756.1L192.7 745.1L192.9 743.8L193.1 743.8L193.3 747.1L193.5 765.8L193.7 765.9L194 756.4L194.2 758.8L194.4 757.1L194.6 752.7L194.8 750L195 749.7L195.3 746.1L195.5 744.6L195.7 746.6L195.9 745.2L196.1 746.7L196.4 747L196.6 746.8L196.8 747.1L197 744.6L197.2 730.5L197.4 742.2L197.7 742.8L197.9 743.1L198.1 742.6L198.3 741.4L198.5 741.4L198.7 740.3L199 739.4L199.2 739.1L199.4 738L199.6 737.4L199.8 737.1L200 737.1L200.3 735.3L200.5 728.7L200.7 721.3L200.9 717.7L201.1 707.8L201.3 715.4L201.6 710.4L201.8 710.2L202 711.5L202.2 716.5L202.4 717.2L202.7 718.5L202.9 722.1L203.1 721.8L203.3 718.6L203.5 716.7L203.7 717.3L204 716.2L204.2 713.7L204.4 712.5L204.6 712.6L204.8 712.9L205 715.1L205.3 713L205.5 717.3L205.7 718L205.9 713.3L206.1 715.9L206.3 714.6L206.6 714L206.8 709.7L207 711L207.2 710.7L207.4 711.7L207.6 713.2L207.9 712.6L208.1 713.1L208.3 716.2L208.5 715.7L208.7 718L209 717.3L209.2 715.8L209.4 717.2L209.6 713.3L209.8 713.5L210 709.9L210.3 708.1L210.5 707.5L210.7 707.8L210.9 715.5L211.1 715.2L211.3 716.4L211.6 717.5L211.8 715.4L212 717.1L212.2 717.1L212.4 716.9L212.6 714.3L212.9 715.3L213.1 717.6L213.3 719.5L213.5 716.1L213.7 712L213.9 713.5L214.2 715.8L214.4 711.6L214.6 717.5L214.8 718.6L215 717.7L215.3 713.9L215.5 712.6L215.7 712.2L215.9 715.6L216.1 717.8L216.3 718.2L216.6 718.1L216.8 717L217 716.1L217.2 714.6L217.4 713.1L217.6 714.2L217.9 716.6L218.1 711.6L218.3 714.1L218.5 716.4L218.7 717.2L218.9 715.3L219.2 713.9L219.4 715.8L219.6 714.6L219.8 712.7L220 713.5L220.2 717.5L220.5 715.4L220.7 709.7L220.9 711.3L221.1 715.9L221.3 715.4L221.6 716L221.8 715.1L222 718.1L222.2 718.7L222.4 719.7L222.6 721.3L222.9 722.4L223.1 724.3L223.3 724.6L223.5 723.9L223.7 720.6L223.9 718.1L224.2 716.9L224.4 715.8L224.6 715.3L224.8 713.1L225 714L225.2 708.7L225.5 714.3L225.7 719L225.9 720.5L226.1 719.7L226.3 722L226.5 725.4L226.8 728L227 730.3L227.2 732.7L227.4 734.5L227.6 735.5L227.9 736.2L228.1 737.1L228.3 737.1L228.5 737.1L228.7 737.1L228.9 737.1L229.2 738.3L229.4 739.3L229.6 739.6L229.8 739.6L230 742.5L230.2 743.9L230.5 743.4L230.7 746.6L230.9 746.6L231.1 743.6L231.3 745L231.5 747.1L231.8 745.8L232 730.5L232.2 751.1L232.4 752.9L232.6 748.3L232.8 752.3L233.1 755.3L233.3 758.7L233.5 751.7L233.7 748.4L233.9 757L234.2 762.7L234.4 764.3L234.6 757.7L234.8 756L235 756.8L235.2 758.5L235.5 758.7L235.7 763.9L235.9 763.7L236.1 755.3L236.3 748.2L236.5 752.1L236.8 763.6L237 763.9L237.2 754.8L237.4 750.6L237.6 748.2L237.8 762.3L238.1 769L238.3 778.6L238.5 778.2L238.7 760.7L238.9 747.1L239.2 745.9L239.4 747.8L239.6 761.2L239.8 746.8L240 746.8L240.2 765L240.5 786.2L240.7 796.8L240.9 800.4L241.1 805L241.3 809.8L241.5 797.8L241.8 762L242 769.7L242.2 789.8L242.4 791.9L242.6 792.8L242.8 789.3L243.1 786.9L243.3 757.6L243.5 752L243.7 749.3L243.9 775.4L244.1 719.1L244.4 764.7L244.6 748.7L244.8 745.5L245 757.3L245.2 752.1L245.5 748.8L245.7 761.6L245.9 773.7L246.1 780.8L246.3 780L246.5 772.3L246.8 778.3L247 806L247.2 782.1L247.4 795.8L247.6 794.1L247.8 777.6L248.1 760.7L248.3 747.7L248.5 758.6L248.7 760.5L248.9 760.6L249.1 759.3L249.4 762.6L249.6 761.3L249.8 754.8L250 748.7L250.2 745.7L250.4 745.8L250.7 744L250.9 713.4L251.1 745.9L251.3 746.4L251.5 747.4L251.8 747.3L252 748.1L252.2 745.9L252.4 750.4L252.6 754.3L252.8 752L253.1 746.3L253.3 745L253.5 752L253.7 715.3L253.9 744.7L254.1 757.2L254.4 759.5L254.6 761.6L254.8 760.8L255 767L255.2 755L255.4 758.6L255.7 773.5L255.9 769.4L256.1 771.3L256.3 762.6L256.5 750.8L256.7 751.7L257 751.7L257.2 782.9L257.4 786.3L257.6 787.8L257.8 782.4L258.1 773.7L258.3 707.8L258.5 781.3L258.7 778.6L258.9 767.1L259.1 760.8L259.4 757.6L259.6 768.4L259.8 775.1L260 766.3L260.2 761.6L260.4 759.6L260.7 761L260.9 765.2L261.1 762.5L261.3 757.2L261.5 758.7L261.7 753L262 755.9L262.2 756.9L262.4 757.4L262.6 759.6L262.8 756.8L263 719.1L263.3 764.3L263.5 762.8L263.7 770.7L263.9 773L264.1 755.8L264.4 745.9L264.6 753L264.8 766.1L265 753.2L265.2 747.6L265.4 758.7L265.7 772.9L265.9 790.9L266.1 757.1L266.3 749.9L266.5 753.2L266.7 758L267 758L267.2 760.1L267.4 762.3L267.6 757.3L267.8 747.6L268 744.9L268.3 742.5L268.5 742L268.7 711.6L268.9 746.8L269.1 745L269.3 744.6L269.6 747.3L269.8 743.5L270 740.8L270.2 745L270.4 747.6L270.7 745.2L270.9 743.9L271.1 742.2L271.3 759.8L271.5 764.4L271.7 763.6L272 760.9L272.2 749.1L272.4 753.5L272.6 758.2L272.8 745.9L273 746.2L273.3 754.9L273.5 755L273.7 759.8L273.9 760.1L274.1 757.4L274.3 759.6L274.6 759.6L274.8 753.2L275 746.2L275.2 760.7L275.4 757L275.7 759L275.9 757.5L276.1 758.4L276.3 755.8L276.5 753.3L276.7 751.7L277 749.8L277.2 726.7L277.4 755.6L277.6 755.8L277.8 752L278 745.3L278.3 749.4L278.5 750.7L278.7 745.5L278.9 746.5L279.1 722.9L279.3 750.8L279.6 748.1L279.8 748.3L280 749.9L280.2 746.3L280.4 741.6L280.6 739.5L280.9 739.5L281.1 747.1L281.3 743.3L281.5 740.2L281.7 743.8L282 746.6L282.2 746.3L282.4 741.2L282.6 743.1L282.8 744.2L283 741.9L283.3 737.9L283.5 726.8L283.7 713.9L283.9 707.8L284.1 715.1L284.3 715.8L284.6 712L284.8 710.5L285 715.9L285.2 715.7L285.4 715.5L285.6 712.8L285.9 712.2L286.1 714.2L286.3 716.3L286.5 716.2L286.7 713L286.9 709.7L287.2 713.3L287.4 715.8L287.6 714.9L287.8 711.8L288 708L288.3 706.9L288.5 707.1L288.7 706.5L288.9 709.7L289.1 711.4L289.3 709.7L289.6 707.7L289.8 704.6L290 706.7L290.2 706.8L290.4 705.3L290.6 708.8L290.9 708.3L291.1 709.8L291.3 704L291.5 709.5L291.7 706.4L291.9 709.2L292.2 712.6L292.4 712.8L292.6 713.8L292.8 713.3L293 707.7L293.2 706.8L293.5 710.4L293.7 711.1L293.9 713L294.1 713.3L294.3 712.8L294.6 711L294.8 709.3L295 710.1L295.2 702.1L295.4 704.1L295.6 709.2L295.9 708.7L296.1 709.6L296.3 708L296.5 707.9L296.7 708.9L296.9 708.4L297.2 709.5L297.4 709.7L297.6 704.1L297.8 703.8L298 707.8L298.2 713L298.5 710.3L298.7 709L298.9 705.3L299.1 702.1L299.3 702.2L299.5 702.1L299.8 712.2L300 712.9L300.2 709.4L300.4 704.8L300.6 706.1L300.9 706.7L301.1 709.4L301.3 712.9L301.5 712.1L301.7 710.2L301.9 713.4L302.2 718.9L302.4 718.7L302.6 715.2L302.8 713.8L303 715.2L303.2 719.8L303.5 717.9L303.7 716.3L303.9 720.4L304.1 719.6L304.3 716.4L304.5 717.2L304.8 720.9L305 719.9L305.2 721L305.4 721.2L305.6 719.8L305.8 714.5L306.1 713.5L306.3 713.4L306.5 721.8L306.7 727.1L306.9 729.8L307.2 732.7L307.4 735.2L307.6 737L307.8 737.8L308 738.3L308.2 738.8L308.5 739L308.7 738.8L308.9 740.3L309.1 739.4L309.3 739.8L309.5 742.9L309.8 741.9L310 739.4L310.2 739.4L310.4 741.6L310.6 744.6L310.8 743.8L311.1 748.3L311.3 748.3L311.5 745.2L311.7 748.2L311.9 752.3L312.1 752.7L312.4 745.3L312.6 745.7L312.8 750.1L313 756.1L313.2 757.3L313.5 750.6L313.7 757L313.9 754.7L314.1 751.1L314.3 744.6L314.5 742.2L314.8 768.2L315 742.3L315.2 750.5L315.4 752.8L315.6 756.5L315.8 751L316.1 748.4L316.3 759.1L316.5 756.7L316.7 748.8L316.9 758.6L317.1 761.7L317.4 760.7L317.6 730.5L317.8 749.7L318 751.5L318.2 748.8L318.5 746.9L318.7 755L318.9 758.3L319.1 765.4L319.3 767.4L319.5 752.7L319.8 756.7L320 757.1L320.2 759.3L320.4 746.5L320.6 749L320.8 763.5L321.1 776.1L321.3 770.2L321.5 755.2L321.7 770L321.9 779.2L322.1 783.3L322.4 778.8L322.6 757.8L322.8 766.1L323 769.2L323.2 767.7L323.4 767.2L323.7 762.8L323.9 768.7L324.1 768.8L324.3 763.8L324.5 766.1L324.8 748.9L325 742.7L325.2 743L325.4 748.7L325.6 755.3L325.8 750.3L326.1 747.8L326.3 767.7L326.5 769.4L326.7 762.2L326.9 758.8L327.1 761.4L327.4 759.3L327.6 753.1L327.8 743.4L328 743.8L328.2 747.4L328.4 744.4L328.7 752.5L328.9 753.6L329.1 759.9L329.3 770.4L329.5 776.6L329.7 760L330 745.6L330.2 745.8L330.4 757.5L330.6 779.8L330.8 774.1L331.1 774.3L331.3 778.5L331.5 774.9L331.7 717.2L331.9 765L332.1 780L332.4 789.5L332.6 796.5L332.8 792.9L333 758.4L333.2 786.3L333.4 799L333.7 809.8L333.9 800.4L334.1 795.9L334.3 799.5L334.5 769.9L334.7 750L335 754L335.2 787.7L335.4 800.2L335.6 794.2L335.8 784.2L336 766.1L336.3 768.8L336.5 779.3L336.7 757.4L336.9 753.4L337.1 755.9L337.4 757.7L337.6 758.2L337.8 779.2L338 774.3L338.2 762.7L338.4 776.5L338.7 777.2L338.9 775.7L339.1 762.9L339.3 771.5L339.5 765.9L339.7 769.8L340 752.3L340.2 744.3L340.4 744.1L340.6 746.4L340.8 763L341 771.6L341.3 773.2L341.5 767L341.7 764.6L341.9 768.1L342.1 753.9L342.3 759.4L342.6 758.7L342.8 743.5L343 717.2L343.2 748.1L343.4 764.1L343.7 758.7L343.9 768.5L344.1 760.1L344.3 746L344.5 759.6L344.7 769.6L345 773.6L345.2 755.7L345.4 770.6L345.6 772.2L345.8 766.2L346 759.4L346.3 778.6L346.5 783.5L346.7 802.2L346.9 787.3L347.1 774.5L347.3 755.4L347.6 752.5L347.8 747L348 751L348.2 768.7L348.4 777.5L348.6 773.9L348.9 753.6L349.1 754.8L349.3 762.7L349.5 756.5L349.7 747.8L350 742.1L350.2 742.1L350.4 752.6L350.6 755.7L350.8 755.7L351 748.7L351.3 752.8L351.5 753L351.7 752.2L351.9 752.4L352.1 748.9L352.3 744.9L352.6 745.5L352.8 748.1L353 750.9L353.2 745L353.4 739.9L353.6 741L353.9 746.5L354.1 744.8L354.3 742.4L354.5 745.8L354.7 747.9L355 747.6L355.2 749.2L355.4 746.8L355.6 745.2L355.8 750.7L356 751.8L356.3 752.1L356.5 752.2L356.7 746.5L356.9 746.3L357.1 749.8L357.3 754.7L357.6 752.9L357.8 752.8L358 760.7L358.2 747.8L358.4 742.9L358.6 749.2L358.9 755.4L359.1 754.2L359.3 747.4L359.5 740.6L359.7 741.6L359.9 742.3L360.2 743.1L360.4 745.1L360.6 744.5L360.8 748.6L361 749.2L361.3 746.6L361.5 741.6L361.7 740.9L361.9 753.1L362.1 744.6L362.3 745.9L362.6 741.6L362.8 738L363 737.7L363.2 737.7L363.4 735.5L363.6 733.1L363.9 730L364.1 727.4L364.3 724.6L364.5 723.4L364.7 719.4L364.9 710.6L365.2 706.8L365.4 701.8L365.6 695.6L365.8 694.8L366 701.1L366.2 697.7L366.5 691.2L366.7 692L366.9 701.1L367.1 694.1L367.3 697.1L367.6 697.9L367.8 699.2L368 700.1L368.2 695.1L368.4 692.4L368.6 697.8L368.9 694.6L369.1 688.5L369.3 690.7L369.5 698.4L369.7 696.4L369.9 694.4L370.2 692L370.4 695.6L370.6 693.7L370.8 695.5L371 692.3L371.2 679.4L371.5 681.4L371.7 687.5L371.9 682.2L372.1 682.2L372.3 685.2L372.5 692.4L372.8 698.2L373 695.8L373.2 683.2L373.4 683.5L373.6 686.1L373.9 693.3L374.1 701.8L374.3 702.3L374.5 701.9L374.7 692.7L374.9 689.3L375.2 692.7L375.4 696.8L375.6 699.2L375.8 697.6L376 695.6L376.2 682.4L376.5 685.5L376.7 687.1L376.9 684L377.1 684.7L377.3 690.2L377.5 692.4L377.8 694.3L378 696.9L378.2 699.5L378.4 699.7L378.6 701.7L378.8 705.7L379.1 712.1L379.3 712.2L379.5 709.4L379.7 709.5L379.9 701.4L380.2 696.6L380.4 696.5L380.6 705.8L380.8 693.1L381 697.3L381.2 695L381.5 694.8L381.7 696.1L381.9 700.8L382.1 710.6L382.3 713.2L382.5 709.4L382.8 708.1L383 711.9L383.2 713.4L383.4 711.2L383.6 716.2L383.8 719L384.1 719.2L384.3 719.9L384.5 721.6L384.7 720.9L384.9 718.4L385.1 719L385.4 721.3L385.6 725L385.8 726.3L386 725.4L386.2 725.9L386.5 729.3L386.7 731.9L386.9 734.4L387.1 735.8L387.3 737.3L387.5 740.6L387.8 743.9L388 747.1L388.2 746.9L388.4 748L388.6 758.9L388.8 740.4L389.1 741L389.3 744.9L389.5 746.9L389.7 745.3L389.9 745.8L390.1 746.2L390.4 749.5L390.6 747.8L390.8 744.3L391 748L391.2 747L391.4 745.8L391.7 750.1L391.9 765.6L392.1 768.7L392.3 772.8L392.5 763.9L392.8 754.9L393 759.8L393.2 730.4L393.4 779.2L393.6 773.9L393.8 754.3L394.1 750L394.3 750.9L394.5 767.9L394.7 764.4L394.9 750.5L395.1 748.5L395.4 745.2L395.6 745.8L395.8 742.7L396 750.9L396.2 769.1L396.4 767.2L396.7 771.8L396.9 765L397.1 766.3L397.3 775.5L397.5 778.4L397.8 769.9L398 762.4L398.2 748.4L398.4 746.3L398.6 745.1L398.8 750.2L399.1 753.9L399.3 756.8L399.5 760.2L399.7 755.9L399.9 749.4L400.1 747.5L400.4 754.1L400.6 747.3L400.8 743.7L401 750.1L401.2 752L401.4 748.5L401.7 748.3L401.9 745.2L402.1 745.6L402.3 754.1L402.5 761.6L402.7 761.3L403 754.7L403.2 755.4L403.4 758.3L403.6 747.3L403.8 749.7L404.1 767.2L404.3 768.7L404.5 764L404.7 767.3L404.9 764.1L405.1 763.9L405.4 786.5L405.6 801.6L405.8 770.4L406 756.2L406.2 746.5L406.4 753L406.7 752.7L406.9 752.2L407.1 751.7L407.3 750.9L407.5 748.4L407.7 749.8L408 757L408.2 723.3L408.4 754.7L408.6 754.4L408.8 751.2L409 748.5L409.3 753.4L409.5 745.6L409.7 754.8L409.9 702L410.1 746.8L410.4 742.4L410.6 748.3L410.8 752L411 748.3L411.2 755.6L411.4 755.6L411.7 758.3L411.9 752.6L412.1 751.5L412.3 746.3L412.5 755.9L412.7 757.6L413 752.9L413.2 744.3L413.4 754.3L413.6 765.9L413.8 750.5L414 750.3L414.3 755.2L414.5 762.5L414.7 776.8L414.9 770.5L415.1 765.8L415.3 780.9L415.6 785.9L415.8 785.7L416 783.8L416.2 768.3L416.4 775.2L416.7 781.3L416.9 793.2L417.1 801.6L417.3 791.8L417.5 787.7L417.7 784.7L418 767.4L418.2 747.5L418.4 747.2L418.6 748.5L418.8 730.4L419 753.6L419.3 763.8L419.5 763.9L419.7 772.8L419.9 771.9L420.1 766.6L420.3 749.3L420.6 746.4L420.8 753.5L421 749.3L421.2 743.6L421.4 742.9L421.6 757.3L421.9 762.1L422.1 759.6L422.3 747.5L422.5 752.6L422.7 751.1L423 755.2L423.2 744.6L423.4 753.1L423.6 775.5L423.8 780.2L424 762.5L424.3 790.9L424.5 778L424.7 770.6L424.9 752.2L425.1 752.2L425.3 770.5L425.6 774.5L425.8 771L426 762.6L426.2 764.8L426.4 763.7L426.6 758.9L426.9 719.8L427.1 756.6L427.3 749.7L427.5 747.3L427.7 748.2L427.9 753.3L428.2 746.4L428.4 749L428.6 743.1L428.8 745.1L429 766.9L429.3 773.7L429.5 779.8L429.7 790.9L429.9 774.4L430.1 748.1L430.3 705.6L430.6 755L430.8 750.4L431 744L431.2 754.4L431.4 755.2L431.6 757L431.9 749.5L432.1 742.5L432.3 746.4L432.5 751.4L432.7 745.4L432.9 741.6L433.2 741.3L433.4 744.5L433.6 746.6L433.8 745.8L434 732.2L434.3 742.1L434.5 741.7L434.7 742.6L434.9 741L435.1 739.6L435.3 740.4L435.6 741.7L435.8 741.8L436 739.2L436.2 740.7L436.4 743.3L436.6 744.7L436.9 743L437.1 741.3L437.3 740L437.5 740L437.7 739.5L437.9 738.6L438.2 738.7L438.4 739.4L438.6 739L438.8 738.1L439 737.6L439.2 737.4L439.5 737.2L439.7 737.1L439.9 737.1L440.1 737.1L440.3 735.6L440.6 732.4L440.8 728.7L441 726.8L441.2 726.4L441.4 723.4L441.6 721.9L441.9 721.2L442.1 719.2L442.3 719.1L442.5 717.7L442.7 718.3L442.9 717.7L443.2 714.5L443.4 715.8L443.6 714.9L443.8 715.6L444 713.3L444.2 713.5L444.5 714L444.7 705.6L444.9 714.7L445.1 713.8L445.3 710.6L445.5 708.1L445.8 707.6L446 707.1L446.2 711.6L446.4 707.3L446.6 714.6L446.9 710.2L447.1 709.9L447.3 711L447.5 708.4L447.7 707.7L447.9 708.8L448.2 708.8L448.4 725L448.4 737.1Z" fill="url(#gNEE)"/>
<g stroke="#000" stroke-opacity="0.4" stroke-width="1" stroke-dasharray="1.1 1.1" stroke-dashoffset="-0.9"><line x1="135" y1="0" x2="135" y2="809"/>
<line x1="214" y1="0" x2="214" y2="809"/>
<line x1="293.5" y1="0" x2="293.5" y2="809"/>
<line x1="373.6" y1="0" x2="373.6" y2="809"/></g>
<g stroke="#000" stroke-width="1.4">
<line x1="55.6" y1="141.6" x2="443" y2="141.6"/>
<line x1="55.6" y1="220.5" x2="443.7" y2="220.5"/>
<line x1="55.6" y1="400.1" x2="447.3" y2="400.1"/>
<line x1="55.6" y1="532.3" x2="446.7" y2="532.3"/>
<line x1="55.6" y1="737.1" x2="448.5" y2="737.1"/>
</g>
<line x1="55.6" y1="588.9" x2="448.5" y2="588.9" stroke="#6a3a30" stroke-opacity="0.4" stroke-width="0.8"/>
<g stroke="#000" stroke-width="1.2"><line x1="135" y1="737.1" x2="135" y2="742"/><line x1="214" y1="737.1" x2="214" y2="742"/><line x1="293.5" y1="737.1" x2="293.5" y2="742"/><line x1="373.6" y1="737.1" x2="373.6" y2="742"/></g>
<g stroke="#222" stroke-width="1.3">
<line x1="55.6" y1="4" x2="55.6" y2="809.6"/>
<line x1="50" y1="16" x2="55.6" y2="16"/>
<line x1="50" y1="41.05" x2="55.6" y2="41.05"/>
<line x1="50" y1="66.1" x2="55.6" y2="66.1"/>
<line x1="50" y1="91.15" x2="55.6" y2="91.15"/>
<line x1="50" y1="116.2" x2="55.6" y2="116.2"/>
<line x1="50" y1="141.5" x2="55.6" y2="141.5"/>
<line x1="50" y1="167.8" x2="55.6" y2="167.8"/>
<line x1="50" y1="194.1" x2="55.6" y2="194.1"/>
<line x1="50" y1="220.4" x2="55.6" y2="220.4"/>
<line x1="50" y1="246.7" x2="55.6" y2="246.7"/>
<line x1="50" y1="273" x2="55.6" y2="273"/>
<line x1="50" y1="298.6" x2="55.6" y2="298.6"/>
<line x1="50" y1="323.9" x2="55.6" y2="323.9"/>
<line x1="50" y1="349.2" x2="55.6" y2="349.2"/>
<line x1="50" y1="374.5" x2="55.6" y2="374.5"/>
<line x1="50" y1="400" x2="55.6" y2="400"/>
<line x1="50" y1="422.1" x2="55.6" y2="422.1"/>
<line x1="50" y1="444.2" x2="55.6" y2="444.2"/>
<line x1="50" y1="466.3" x2="55.6" y2="466.3"/>
<line x1="50" y1="488.4" x2="55.6" y2="488.4"/>
<line x1="50" y1="510.5" x2="55.6" y2="510.5"/>
<line x1="50" y1="532.5" x2="55.6" y2="532.5"/>
<line x1="50" y1="551.1" x2="55.6" y2="551.1"/>
<line x1="50" y1="588.7" x2="55.6" y2="588.7"/>
<line x1="50" y1="626.5" x2="55.6" y2="626.5"/>
<line x1="50" y1="664.5" x2="55.6" y2="664.5"/>
<line x1="50" y1="700.9" x2="55.6" y2="700.9"/>
<line x1="50" y1="737.1" x2="55.6" y2="737.1"/>
<line x1="50" y1="773.3" x2="55.6" y2="773.3"/>
<line x1="50" y1="809.3" x2="55.6" y2="809.3"/>
</g>
<g font-size="14" text-anchor="end" fill="#000">
<text x="47" y="20.80">1000</text>
<text x="47" y="45.85">800</text>
<text x="47" y="70.90">600</text>
<text x="47" y="95.95">400</text>
<text x="47" y="121.00">200</text>
<text x="47" y="146.30">30</text>
<text x="47" y="172.60">20</text>
<text x="47" y="198.90">10</text>
<text x="47" y="225.20">0</text>
<text x="47" y="251.50">-10</text>
<text x="47" y="277.80">10</text>
<text x="47" y="303.40">8</text>
<text x="47" y="328.70">6</text>
<text x="47" y="354.00">4</text>
<text x="47" y="379.30">2</text>
<text x="47" y="404.80">3000</text>
<text x="47" y="426.90">2500</text>
<text x="47" y="449.00">2000</text>
<text x="47" y="471.10">1500</text>
<text x="47" y="493.20">1000</text>
<text x="47" y="515.30">500</text>
<text x="47" y="537.30">0</text>
<text x="47" y="555.90">1</text>
<text x="47" y="593.50">0</text>
<text x="47" y="631.30">-1</text>
<text x="47" y="669.30">-2</text>
<text x="47" y="705.70">1</text>
<text x="47" y="741.90">0</text>
<text x="47" y="778.10">-1</text>
<text x="47" y="814.10">-2</text>
</g>
<g font-size="17" fill="#000">
<text x="96.4" y="811">2017</text>
<text x="174.5" y="812.7">2018</text>
<text x="254.3" y="811">2019</text>
<text x="334.7" y="812.7">2020</text>
<text x="413.4" y="812.7">2021</text>
</g>
<g font-size="12" font-weight="bold" fill="#000">
<line x1="88.8" y1="146.5" x2="93.3" y2="146.5" stroke="#FF4040" stroke-width="1"/>
<text x="98.8" y="150.6">Tsoil</text>
<line x1="137.3" y1="146.7" x2="154" y2="146.7" stroke="#9CB4E4" stroke-width="1"/>
<text x="158.3" y="150.7">Tair</text>
</g>
<g font-size="14" fill="#000" text-anchor="middle">
<text transform="translate(12.8,69.7) rotate(-90)">PPFD (μmol m<tspan font-size="9" dy="-5">-2</tspan><tspan dy="5">s</tspan><tspan font-size="9" dy="-5">-1</tspan><tspan dy="5">)</tspan></text>
<text transform="translate(12.8,213.2) rotate(-90)">T<tspan font-size="9.5" dy="2.2">air</tspan><tspan dy="-2.2">/T</tspan><tspan font-size="9.5" dy="2.2">soil</tspan><tspan dy="-2.2">(°C)</tspan></text>
<text transform="translate(12.8,338.1) rotate(-90)">SWC ( %)</text>
<text transform="translate(12.8,455) rotate(-90)">VPD (Pa)</text>
<text transform="translate(12.8,601.2) rotate(-90)">NECB (g C m<tspan font-size="9" dy="-5">-2</tspan><tspan dy="5">day</tspan><tspan font-size="9" dy="-5">-1</tspan><tspan dy="5">)</tspan></text>
<text transform="translate(12.8,733.8) rotate(-90)">NEE (g C m<tspan font-size="9" dy="-5">-2</tspan><tspan dy="5">day</tspan><tspan font-size="9" dy="-5">-1</tspan><tspan dy="5">)</tspan></text>
</g>
</svg>
</body></html>
